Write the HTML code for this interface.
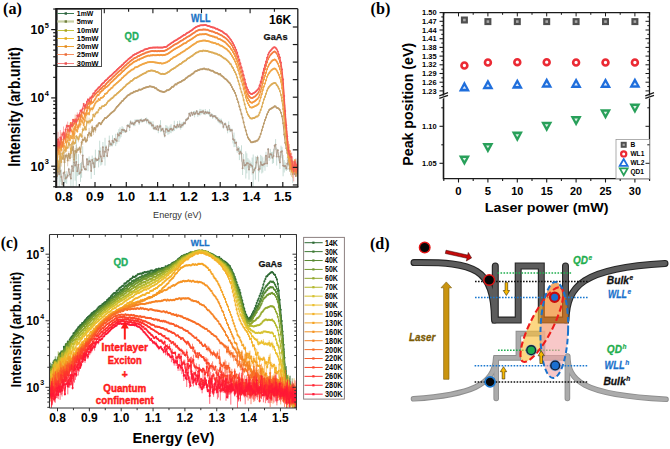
<!DOCTYPE html><html><head><meta charset="utf-8"><style>html,body{margin:0;padding:0;background:#fff;overflow:hidden}svg{display:block}</style></head><body>
<svg width="670" height="449" viewBox="0 0 670 449">
<rect width="670" height="449" fill="#fff"/>
<clipPath id="ca"><rect x="56.2" y="8.7" width="241.60000000000002" height="178.3"/></clipPath>
<g clip-path="url(#ca)">
<path d="M54.9 175.6V180.4M56.0 172.9V186.2M57.1 172.3V179.4M58.1 168.5V175.4M59.2 158.7V189.9M60.3 159.8V181.9M61.3 169.5V184.3M62.4 182.7V186.0M63.5 172.0V174.2M64.5 160.6V183.5M65.6 174.2V182.8M66.7 171.1V183.8M67.7 174.1V177.3M68.8 167.7V170.9M69.9 171.3V177.5M70.9 169.2V187.9M72.0 164.9V167.2M73.1 154.3V188.0M74.1 156.2V168.2M75.2 150.4V180.7M76.3 137.5V186.4M77.3 166.5V176.1M78.4 154.1V175.3M79.5 172.2V174.9M80.5 163.0V181.9M81.6 162.2V177.7M82.7 146.3V164.6M83.7 164.6V168.9M84.8 167.8V170.4M85.9 168.0V170.8M86.9 157.9V160.5M88.0 158.1V171.2M89.1 156.4V165.9M90.1 158.9V163.8M91.2 163.1V178.9M92.2 155.6V164.2M93.3 157.9V168.6M94.4 159.2V175.0M95.4 149.6V167.4M96.5 158.1V161.8M97.6 159.0V161.0M98.6 150.0V167.4M99.7 140.7V162.3M100.8 147.4V165.6M101.8 157.7V164.7M102.9 142.0V152.1M104.0 153.3V159.2M105.0 137.8V165.6M106.1 145.1V149.4M107.2 154.8V157.3M108.2 148.4V151.1M109.3 135.6V146.8M110.4 142.2V146.4M111.4 142.9V146.3M112.5 135.3V146.3M113.6 140.1V144.5M114.6 137.9V139.9M115.7 133.8V146.1M116.8 138.1V143.7M117.8 132.0V136.5M118.9 129.1V142.0M120.0 127.4V138.5M121.0 129.8V137.1M122.1 126.2V133.1M123.2 127.4V132.9M124.2 128.9V131.4M125.3 130.0V133.0M126.4 129.4V132.6M127.4 124.1V127.0M128.5 124.5V126.8M129.6 123.2V131.0M130.6 120.1V124.1M131.7 122.5V124.7M132.8 121.3V125.2M133.8 122.3V126.2M134.9 119.5V126.1M136.0 119.4V122.8M137.0 119.6V121.8M138.1 119.2V122.2M139.2 120.1V125.0M140.2 119.2V121.4M141.3 118.3V122.5M142.4 119.5V122.5M143.4 119.2V121.8M144.5 119.1V121.6M145.6 118.2V120.5M146.6 117.5V123.5M147.7 118.8V121.4M148.8 120.2V124.5M149.8 120.5V125.1M150.9 121.0V125.4M152.0 123.5V127.5M153.0 121.3V129.1M154.1 126.9V130.1M155.2 125.1V129.7M156.2 127.7V130.5M157.3 125.3V127.3M158.3 126.6V133.2M159.4 124.4V128.6M160.5 120.2V132.1M161.5 128.4V131.7M162.6 127.5V130.5M163.7 127.7V135.0M164.7 133.9V137.5M165.8 125.0V133.2M166.9 125.6V133.0M167.9 126.6V134.8M169.0 127.7V134.1M170.1 125.6V132.7M171.1 124.2V133.2M172.2 128.3V131.5M173.3 126.9V131.3M174.3 120.7V131.0M175.4 125.7V128.5M176.5 124.7V129.1M177.5 121.1V128.4M178.6 125.5V127.6M179.7 120.6V128.2M180.7 124.2V129.7M181.8 122.6V128.0M182.9 122.2V127.2M183.9 121.3V125.0M185.0 121.7V124.6M186.1 118.6V121.2M187.1 117.9V120.4M188.2 117.0V119.7M189.3 112.4V115.1M190.3 114.7V116.8M191.4 111.5V114.0M192.5 113.7V115.9M193.5 111.2V114.4M194.6 110.9V117.4M195.7 111.5V114.9M196.7 110.2V112.3M197.8 110.8V116.9M198.9 112.4V115.3M199.9 108.9V115.6M201.0 109.3V114.7M202.1 110.0V114.1M203.1 109.4V113.1M204.2 112.3V114.6M205.3 109.0V115.1M206.3 111.3V114.2M207.4 110.6V114.2M208.5 111.2V114.7M209.5 109.1V116.5M210.6 114.6V117.1M211.7 113.0V116.9M212.7 114.2V119.0M213.8 115.2V117.3M214.9 115.0V117.4M215.9 115.0V119.8M217.0 117.1V119.4M218.1 117.5V122.3M219.1 118.2V123.1M220.2 119.2V124.3M221.2 118.6V124.0M222.3 120.9V124.5M223.4 125.0V128.8M224.4 122.8V125.3M225.5 122.3V125.8M226.6 125.3V128.6M227.6 126.0V133.3M228.7 121.4V129.8M229.8 126.5V132.3M230.8 129.0V132.0M231.9 128.5V131.7M233.0 134.9V143.4M234.0 132.6V147.1M235.1 138.8V147.0M236.2 140.9V144.4M237.2 147.1V152.7M238.3 146.2V151.9M239.4 147.2V160.1M240.4 149.7V154.1M241.5 145.3V161.7M242.6 161.5V175.0M243.6 154.0V166.2M244.7 161.6V169.6M245.8 151.3V178.5M246.8 153.3V173.4M247.9 158.1V168.2M249.0 159.5V179.6M250.0 160.7V167.9M251.1 162.2V168.1M252.2 157.6V174.7M253.2 154.5V190.6M254.3 167.6V172.0M255.4 156.4V179.7M256.4 157.2V167.8M257.5 155.4V159.6M258.6 157.7V181.6M259.6 165.4V172.4M260.7 154.9V169.3M261.8 155.9V173.5M262.8 157.4V172.5M263.9 161.2V167.3M265.0 156.5V170.8M266.0 151.8V159.5M267.1 159.8V167.0M268.2 148.0V150.5M269.2 153.3V160.9M270.3 148.9V159.3M271.4 152.0V157.0M272.4 151.8V163.8M273.5 148.8V163.1M274.6 144.6V147.1M275.6 139.1V150.0M276.7 147.7V165.6M277.8 149.3V151.4M278.8 152.0V161.3M279.9 155.7V169.0M281.0 145.7V158.0M282.0 146.9V155.4M283.1 154.9V176.3M284.2 160.0V172.5M285.2 162.3V169.7M286.3 165.8V171.0M287.3 157.4V170.0M288.4 155.2V165.5M289.5 166.7V170.9M290.5 159.1V169.8M291.6 159.5V162.2M292.7 165.3V182.9M293.7 169.3V172.7M294.8 172.7V175.4M295.9 158.0V173.8M296.9 160.5V175.5M298.0 164.7V167.3M299.1 153.3V180.1" stroke="#b9d3cc" stroke-width="0.8" fill="none"/>
<marker id="ma1" markerUnits="userSpaceOnUse" markerWidth="3" markerHeight="3" refX="1.5" refY="1.5" overflow="visible"><circle cx="1.5" cy="1.5" r="0.95" fill="#ad9786"/></marker>
<path d="M54.9 178.0L56.0 179.6L57.1 175.9L58.1 171.9L59.2 174.3L60.3 170.9L61.3 176.9L62.4 184.4L63.5 173.1L64.5 172.1L65.6 178.5L66.7 177.5L67.7 175.7L68.8 169.3L69.9 174.4L70.9 178.5L72.0 166.1L73.1 171.1L74.1 162.2L75.2 165.6L76.3 162.0L77.3 171.3L78.4 164.7L79.5 173.6L80.5 172.5L81.6 169.9L82.7 155.5L83.7 166.8L84.8 169.1L85.9 169.4L86.9 159.2L88.0 164.6L89.1 161.1L90.1 161.4L91.2 171.0L92.2 159.9L93.3 163.2L94.4 167.1L95.4 158.5L96.5 159.9L97.6 160.0L98.6 158.7L99.7 151.5L100.8 156.5L101.8 161.2L102.9 147.1L104.0 156.2L105.0 151.7L106.1 147.3L107.2 156.0L108.2 149.7L109.3 141.2L110.4 144.3L111.4 144.6L112.5 140.8L113.6 142.3L114.6 138.9L115.7 139.9L116.8 140.9L117.8 134.3L118.9 135.5L120.0 133.0L121.0 133.5L122.1 129.6L123.2 130.2L124.2 130.1L125.3 131.5L126.4 131.0L127.4 125.6L128.5 125.7L129.6 127.1L130.6 122.1L131.7 123.6L132.8 123.3L133.8 124.2L134.9 122.8L136.0 121.1L137.0 120.7L138.1 120.7L139.2 122.5L140.2 120.3L141.3 120.4L142.4 121.0L143.4 120.5L144.5 120.3L145.6 119.3L146.6 120.5L147.7 120.1L148.8 122.4L149.8 122.8L150.9 123.2L152.0 125.5L153.0 125.2L154.1 128.5L155.2 127.4L156.2 129.1L157.3 126.3L158.3 129.9L159.4 126.5L160.5 126.1L161.5 130.0L162.6 129.0L163.7 131.3L164.7 135.7L165.8 129.1L166.9 129.3L167.9 130.7L169.0 130.9L170.1 129.2L171.1 128.7L172.2 129.9L173.3 129.1L174.3 125.9L175.4 127.1L176.5 126.9L177.5 124.7L178.6 126.6L179.7 124.4L180.7 126.9L181.8 125.3L182.9 124.7L183.9 123.2L185.0 123.2L186.1 119.9L187.1 119.2L188.2 118.3L189.3 113.8L190.3 115.8L191.4 112.7L192.5 114.8L193.5 112.8L194.6 114.1L195.7 113.2L196.7 111.3L197.8 113.8L198.9 113.9L199.9 112.2L201.0 112.0L202.1 112.0L203.1 111.3L204.2 113.4L205.3 112.0L206.3 112.8L207.4 112.4L208.5 113.0L209.5 112.8L210.6 115.8L211.7 115.0L212.7 116.6L213.8 116.3L214.9 116.2L215.9 117.4L217.0 118.2L218.1 119.9L219.1 120.7L220.2 121.8L221.2 121.3L222.3 122.7L223.4 126.9L224.4 124.1L225.5 124.1L226.6 127.0L227.6 129.7L228.7 125.6L229.8 129.4L230.8 130.5L231.9 130.1L233.0 139.1L234.0 139.9L235.1 142.9L236.2 142.6L237.2 149.9L238.3 149.0L239.4 153.7L240.4 151.9L241.5 153.5L242.6 168.2L243.6 160.1L244.7 165.6L245.8 164.9L246.8 163.3L247.9 163.2L249.0 169.5L250.0 164.3L251.1 165.2L252.2 166.1L253.2 172.6L254.3 169.8L255.4 168.1L256.4 162.5L257.5 157.5L258.6 169.7L259.6 168.9L260.7 162.1L261.8 164.7L262.8 165.0L263.9 164.3L265.0 163.6L266.0 155.7L267.1 163.4L268.2 149.3L269.2 157.1L270.3 154.1L271.4 154.5L272.4 157.8L273.5 155.9L274.6 145.8L275.6 144.6L276.7 156.6L277.8 150.3L278.8 156.6L279.9 162.4L281.0 151.9L282.0 151.1L283.1 165.6L284.2 166.3L285.2 166.0L286.3 168.4L287.3 163.7L288.4 160.3L289.5 168.8L290.5 164.5L291.6 160.8L292.7 174.1L293.7 171.0L294.8 174.1L295.9 165.9L296.9 168.0L298.0 166.0L299.1 166.7" stroke="#ad9786" stroke-width="0.8" fill="none" stroke-linejoin="round" marker-mid="url(#ma1)"/>
<path d="M54.9 172.1V175.8M56.0 157.9V167.1M57.1 147.7V167.0M58.1 160.0V172.6M59.2 169.0V174.1M60.3 142.4V170.3M61.3 152.3V163.2M62.4 157.6V159.7M63.5 151.9V159.8M64.5 152.0V172.6M65.6 154.3V157.4M66.7 153.3V157.6M67.7 154.7V166.3M68.8 151.3V156.5M69.9 154.9V161.4M70.9 149.2V154.2M72.0 142.1V158.0M73.1 140.2V153.9M74.1 157.2V162.3M75.2 148.1V153.9M76.3 144.7V159.3M77.3 147.5V152.6M78.4 148.4V150.6M79.5 146.2V149.8M80.5 149.6V154.5M81.6 141.0V143.8M82.7 134.9V144.8M83.7 138.6V141.4M84.8 135.7V140.2M85.9 140.2V142.7M86.9 138.4V142.0M88.0 133.8V136.2M89.1 127.9V138.0M90.1 130.9V136.5M91.2 134.6V136.5M92.2 124.9V129.6M93.3 127.9V135.1M94.4 127.4V128.5M95.4 126.8V132.7M96.5 124.2V127.4M97.6 123.8V127.6M98.6 122.3V124.4M288.4 156.7V158.2M289.5 157.0V172.0M290.5 163.7V167.1M291.6 165.2V176.8M292.7 166.6V169.7M293.7 169.9V171.6M294.8 166.8V170.0M295.9 175.1V176.7M296.9 169.5V174.2M298.0 166.7V172.0M299.1 164.4V177.2" stroke="#bc9c6c" stroke-width="0.7" fill="none" opacity="0.7"/>
<marker id="ma5" markerUnits="userSpaceOnUse" markerWidth="3" markerHeight="3" refX="1.5" refY="1.5" overflow="visible"><circle cx="1.5" cy="1.5" r="1.0" fill="#bc9c6c"/></marker>
<path d="M54.9 173.9L56.0 162.5L57.1 157.4L58.1 166.3L59.2 171.5L60.3 156.3L61.3 157.7L62.4 158.6L63.5 155.9L64.5 162.3L65.6 155.8L66.7 155.5L67.7 160.5L68.8 153.9L69.9 158.1L70.9 151.7L72.0 150.1L73.1 147.1L74.1 159.7L75.2 151.0L76.3 152.0L77.3 150.0L78.4 149.5L79.5 148.0L80.5 152.0L81.6 142.4L82.7 139.8L83.7 140.0L84.8 138.0L85.9 141.5L86.9 140.2L88.0 135.0L89.1 132.9L90.1 133.7L91.2 135.6L92.2 127.2L93.3 131.5L94.4 127.9L95.4 129.7L96.5 125.8L97.6 125.7L98.6 123.4L99.7 123.0L100.8 124.2L101.8 122.6L102.9 120.7L104.0 119.5L105.0 118.0L106.1 117.9L107.2 117.1L108.2 116.1L109.3 115.1L110.4 113.8L111.4 113.0L112.5 111.9L113.6 111.2L114.6 110.2L115.7 108.4L116.8 107.1L117.8 106.1L118.9 104.8L120.0 103.5L121.0 102.5L122.1 101.1L123.2 100.4L124.2 99.0L125.3 98.1L126.4 96.9L127.4 95.8L128.5 94.9L129.6 94.4L130.6 93.6L131.7 93.3L132.8 92.7L133.8 91.8L134.9 91.8L136.0 91.1L137.0 90.9L138.1 90.6L139.2 89.6L140.2 89.8L141.3 89.4L142.4 88.9L143.4 88.3L144.5 87.9L145.6 87.4L146.6 87.2L147.7 86.9L148.8 86.8L149.8 86.2L150.9 86.6L152.0 86.7L153.0 86.9L154.1 87.3L155.2 88.2L156.2 88.2L157.3 89.5L158.3 90.1L159.4 90.7L160.5 91.3L161.5 91.4L162.6 91.8L163.7 92.1L164.7 91.7L165.8 91.3L166.9 90.2L167.9 90.2L169.0 89.7L170.1 89.0L171.1 88.0L172.2 86.7L173.3 86.7L174.3 85.6L175.4 84.3L176.5 84.5L177.5 83.3L178.6 82.7L179.7 82.2L180.7 82.1L181.8 80.9L182.9 80.4L183.9 80.1L185.0 79.3L186.1 78.1L187.1 77.4L188.2 76.4L189.3 75.8L190.3 75.4L191.4 74.6L192.5 73.7L193.5 73.2L194.6 71.8L195.7 71.3L196.7 70.9L197.8 70.3L198.9 70.0L199.9 69.5L201.0 69.2L202.1 69.2L203.1 68.7L204.2 68.5L205.3 69.2L206.3 69.2L207.4 69.6L208.5 69.3L209.5 70.1L210.6 70.4L211.7 70.7L212.7 70.7L213.8 71.7L214.9 72.5L215.9 72.8L217.0 73.0L218.1 73.7L219.1 74.4L220.2 74.0L221.2 75.4L222.3 76.3L223.4 77.1L224.4 78.2L225.5 79.0L226.6 79.8L227.6 80.9L228.7 82.3L229.8 83.2L230.8 84.9L231.9 87.0L233.0 89.3L234.0 90.8L235.1 93.1L236.2 95.8L237.2 99.2L238.3 102.3L239.4 106.6L240.4 109.8L241.5 114.0L242.6 117.8L243.6 122.3L244.7 126.9L245.8 130.5L246.8 134.4L247.9 137.4L249.0 139.2L250.0 140.6L251.1 142.2L252.2 142.2L253.2 142.0L254.3 141.5L255.4 141.6L256.4 140.7L257.5 140.6L258.6 139.0L259.6 136.9L260.7 134.1L261.8 130.3L262.8 127.0L263.9 123.4L265.0 120.1L266.0 117.4L267.1 114.2L268.2 112.1L269.2 110.0L270.3 109.0L271.4 108.4L272.4 107.8L273.5 107.2L274.6 106.3L275.6 106.6L276.7 107.7L277.8 108.1L278.8 108.7L279.9 110.1L281.0 112.7L282.0 116.3L283.1 123.2L284.2 134.6L285.2 142.8L286.3 148.3L287.3 152.9L288.4 157.4L289.5 164.5L290.5 165.4L291.6 171.0L292.7 168.1L293.7 170.7L294.8 168.4L295.9 175.9L296.9 171.8L298.0 169.4L299.1 170.8" stroke="#bc9c6c" stroke-width="1.1" fill="none" stroke-linejoin="round" marker-mid="url(#ma5)"/>
<path d="M54.9 160.0V167.7M56.0 166.2V178.0M57.1 165.7V176.4M58.1 164.4V167.7M59.2 156.7V166.3M60.3 151.3V155.8M61.3 157.3V166.6M62.4 149.2V158.3M63.5 145.2V159.7M64.5 149.7V150.9M65.6 148.2V153.2M66.7 142.9V152.0M67.7 146.8V148.8M68.8 138.6V147.4M69.9 144.1V145.2M70.9 152.1V153.8M72.0 141.2V146.1M73.1 138.1V146.0M74.1 141.9V145.0M75.2 141.5V144.0M76.3 135.2V137.1M77.3 136.9V138.4M78.4 136.4V142.3M79.5 133.0V139.4M80.5 132.9V135.9M81.6 134.7V138.0M82.7 127.2V132.0M83.7 128.5V131.1M84.8 125.7V128.3M85.9 128.2V130.9M86.9 117.0V125.7M88.0 121.2V123.5M89.1 117.7V124.7M90.1 119.7V123.8M91.2 118.8V121.8M92.2 119.0V121.1M93.3 113.6V115.8M94.4 115.9V117.0M95.4 113.4V114.5M96.5 111.6V113.2M288.4 140.7V154.4M289.5 155.6V158.2M290.5 158.7V175.2M291.6 168.3V171.9M292.7 168.8V174.9M293.7 166.8V172.8M294.8 170.3V172.9M295.9 170.8V173.7M296.9 164.2V175.2M298.0 166.9V180.2M299.1 157.9V166.3" stroke="#dcac58" stroke-width="0.7" fill="none" opacity="0.7"/>
<marker id="ma10" markerUnits="userSpaceOnUse" markerWidth="3" markerHeight="3" refX="1.5" refY="1.5" overflow="visible"><circle cx="1.5" cy="1.5" r="1.0" fill="#dcac58"/></marker>
<path d="M54.9 163.8L56.0 172.1L57.1 171.0L58.1 166.1L59.2 161.5L60.3 153.5L61.3 161.9L62.4 153.8L63.5 152.4L64.5 150.3L65.6 150.7L66.7 147.5L67.7 147.8L68.8 143.0L69.9 144.7L70.9 153.0L72.0 143.7L73.1 142.1L74.1 143.4L75.2 142.8L76.3 136.2L77.3 137.6L78.4 139.4L79.5 136.2L80.5 134.4L81.6 136.4L82.7 129.6L83.7 129.8L84.8 127.0L85.9 129.5L86.9 121.4L88.0 122.4L89.1 121.2L90.1 121.8L91.2 120.3L92.2 120.0L93.3 114.7L94.4 116.5L95.4 114.0L96.5 112.4L97.6 112.5L98.6 110.0L99.7 108.0L100.8 108.4L101.8 106.6L102.9 106.3L104.0 105.9L105.0 104.9L106.1 104.4L107.2 102.7L108.2 101.3L109.3 100.6L110.4 99.6L111.4 98.5L112.5 97.9L113.6 96.7L114.6 95.4L115.7 95.0L116.8 93.8L117.8 93.0L118.9 92.0L120.0 91.1L121.0 90.0L122.1 89.3L123.2 88.1L124.2 87.1L125.3 86.2L126.4 84.8L127.4 84.1L128.5 83.2L129.6 82.4L130.6 81.2L131.7 81.0L132.8 80.0L133.8 79.0L134.9 78.3L136.0 78.0L137.0 77.5L138.1 76.7L139.2 76.3L140.2 75.5L141.3 75.1L142.4 74.2L143.4 73.7L144.5 73.3L145.6 73.0L146.6 71.8L147.7 71.4L148.8 71.0L149.8 71.0L150.9 70.4L152.0 70.6L153.0 70.8L154.1 70.9L155.2 71.3L156.2 71.9L157.3 72.0L158.3 72.6L159.4 73.2L160.5 73.7L161.5 74.0L162.6 73.8L163.7 74.1L164.7 74.1L165.8 73.6L166.9 73.0L167.9 72.2L169.0 71.8L170.1 70.8L171.1 69.9L172.2 69.2L173.3 68.8L174.3 67.9L175.4 67.4L176.5 66.4L177.5 66.0L178.6 65.0L179.7 64.3L180.7 64.1L181.8 63.1L182.9 62.1L183.9 61.4L185.0 60.8L186.1 60.2L187.1 59.1L188.2 58.2L189.3 57.8L190.3 57.1L191.4 56.3L192.5 55.7L193.5 54.7L194.6 54.0L195.7 52.9L196.7 52.6L197.8 52.3L198.9 51.6L199.9 51.2L201.0 51.0L202.1 51.2L203.1 50.6L204.2 50.7L205.3 50.8L206.3 51.0L207.4 51.0L208.5 51.4L209.5 51.7L210.6 52.1L211.7 52.4L212.7 52.5L213.8 53.0L214.9 53.6L215.9 53.6L217.0 54.1L218.1 54.7L219.1 54.8L220.2 55.6L221.2 55.9L222.3 56.9L223.4 57.8L224.4 58.4L225.5 58.8L226.6 59.9L227.6 60.8L228.7 61.9L229.8 63.4L230.8 64.3L231.9 66.4L233.0 68.0L234.0 70.3L235.1 72.2L236.2 74.4L237.2 77.6L238.3 81.0L239.4 84.5L240.4 88.4L241.5 92.0L242.6 95.3L243.6 100.0L244.7 104.3L245.8 108.4L246.8 112.0L247.9 114.6L249.0 116.2L250.0 117.7L251.1 118.5L252.2 118.6L253.2 117.9L254.3 118.0L255.4 117.2L256.4 116.6L257.5 116.5L258.6 115.3L259.6 112.8L260.7 110.0L261.8 106.7L262.8 103.1L263.9 99.4L265.0 96.7L266.0 93.8L267.1 90.6L268.2 88.3L269.2 86.7L270.3 85.6L271.4 84.6L272.4 83.8L273.5 83.3L274.6 82.9L275.6 83.3L276.7 84.9L277.8 86.4L278.8 88.6L279.9 91.1L281.0 94.9L282.0 100.8L283.1 109.0L284.2 123.0L285.2 133.2L286.3 142.5L287.3 149.4L288.4 147.5L289.5 156.9L290.5 166.9L291.6 170.1L292.7 171.9L293.7 169.8L294.8 171.6L295.9 172.2L296.9 169.7L298.0 173.6L299.1 162.1" stroke="#dcac58" stroke-width="1.1" fill="none" stroke-linejoin="round" marker-mid="url(#ma10)"/>
<path d="M54.9 142.4V154.5M56.0 149.2V154.6M57.1 156.2V167.4M58.1 139.2V157.8M59.2 151.9V156.7M60.3 138.7V149.9M61.3 148.2V151.1M62.4 143.6V147.9M63.5 142.2V148.5M64.5 142.9V149.7M65.6 147.0V151.5M66.7 138.6V146.0M67.7 139.7V141.9M68.8 133.0V139.1M69.9 137.4V142.4M70.9 134.6V137.6M72.0 137.4V139.0M73.1 125.8V143.0M74.1 135.7V140.6M75.2 122.6V131.0M76.3 129.4V130.7M77.3 130.8V132.4M78.4 125.0V129.4M79.5 122.2V127.3M80.5 121.2V127.7M81.6 119.4V121.8M82.7 120.4V123.8M83.7 123.4V126.5M84.8 119.3V122.2M85.9 113.6V116.6M86.9 111.2V116.8M88.0 112.1V114.4M89.1 111.8V115.9M90.1 107.2V112.4M91.2 107.9V109.3M92.2 106.9V111.6M93.3 106.0V109.7M94.4 103.1V107.2M288.4 151.0V163.1M289.5 157.3V164.2M290.5 158.9V168.5M291.6 166.5V171.6M292.7 165.2V178.2M293.7 166.0V174.0M294.8 159.4V161.1M295.9 165.3V167.7M296.9 166.5V168.1M298.0 164.4V166.6M299.1 167.4V172.1" stroke="#f0a646" stroke-width="0.7" fill="none" opacity="0.7"/>
<marker id="ma15" markerUnits="userSpaceOnUse" markerWidth="3" markerHeight="3" refX="1.5" refY="1.5" overflow="visible"><circle cx="1.5" cy="1.5" r="1.0" fill="#f0a646"/></marker>
<path d="M54.9 148.4L56.0 151.9L57.1 161.8L58.1 148.5L59.2 154.3L60.3 144.3L61.3 149.7L62.4 145.8L63.5 145.4L64.5 146.3L65.6 149.2L66.7 142.3L67.7 140.8L68.8 136.0L69.9 139.9L70.9 136.1L72.0 138.2L73.1 134.4L74.1 138.1L75.2 126.8L76.3 130.0L77.3 131.6L78.4 127.2L79.5 124.7L80.5 124.4L81.6 120.6L82.7 122.1L83.7 124.9L84.8 120.7L85.9 115.1L86.9 114.0L88.0 113.3L89.1 113.9L90.1 109.8L91.2 108.6L92.2 109.3L93.3 107.8L94.4 105.2L95.4 103.2L96.5 101.6L97.6 101.3L98.6 99.0L99.7 100.1L100.8 98.0L101.8 97.7L102.9 97.3L104.0 95.9L105.0 93.9L106.1 93.6L107.2 92.7L108.2 91.2L109.3 90.1L110.4 89.2L111.4 88.0L112.5 87.4L113.6 85.8L114.6 85.0L115.7 84.1L116.8 83.1L117.8 82.2L118.9 81.3L120.0 80.2L121.0 79.4L122.1 77.9L123.2 77.2L124.2 76.1L125.3 75.3L126.4 74.3L127.4 73.2L128.5 72.3L129.6 71.6L130.6 70.7L131.7 69.7L132.8 69.4L133.8 68.8L134.9 67.6L136.0 67.3L137.0 67.1L138.1 66.4L139.2 65.8L140.2 65.2L141.3 64.7L142.4 64.3L143.4 63.8L144.5 63.6L145.6 63.1L146.6 62.7L147.7 62.3L148.8 62.3L149.8 62.0L150.9 62.0L152.0 62.1L153.0 62.1L154.1 62.3L155.2 62.4L156.2 62.6L157.3 62.7L158.3 62.9L159.4 63.2L160.5 63.1L161.5 63.6L162.6 63.5L163.7 63.3L164.7 63.0L165.8 62.6L166.9 62.2L167.9 61.5L169.0 61.0L170.1 60.0L171.1 59.0L172.2 58.5L173.3 57.5L174.3 57.1L175.4 56.6L176.5 55.9L177.5 55.0L178.6 54.4L179.7 54.1L180.7 53.1L181.8 52.4L182.9 51.8L183.9 51.3L185.0 50.5L186.1 49.6L187.1 48.9L188.2 48.3L189.3 47.5L190.3 46.7L191.4 46.1L192.5 45.1L193.5 44.5L194.6 43.7L195.7 43.3L196.7 42.2L197.8 41.8L198.9 41.4L199.9 41.2L201.0 41.1L202.1 40.8L203.1 40.6L204.2 40.5L205.3 40.6L206.3 40.9L207.4 41.1L208.5 41.2L209.5 41.6L210.6 42.0L211.7 42.4L212.7 42.6L213.8 42.9L214.9 43.0L215.9 43.5L217.0 44.3L218.1 44.1L219.1 44.8L220.2 45.4L221.2 45.8L222.3 46.3L223.4 47.0L224.4 47.7L225.5 48.4L226.6 49.0L227.6 50.3L228.7 51.2L229.8 52.5L230.8 54.0L231.9 55.7L233.0 57.5L234.0 59.2L235.1 61.6L236.2 64.0L237.2 66.9L238.3 70.3L239.4 73.7L240.4 77.4L241.5 81.3L242.6 84.7L243.6 88.9L244.7 93.2L245.8 97.4L246.8 100.7L247.9 103.3L249.0 105.3L250.0 107.0L251.1 107.6L252.2 107.4L253.2 107.1L254.3 106.5L255.4 106.1L256.4 105.4L257.5 104.8L258.6 103.8L259.6 101.1L260.7 97.6L261.8 94.0L262.8 90.0L263.9 86.4L265.0 83.6L266.0 80.3L267.1 76.8L268.2 74.5L269.2 72.9L270.3 71.4L271.4 70.3L272.4 69.4L273.5 68.8L274.6 68.6L275.6 69.1L276.7 70.5L277.8 72.5L278.8 74.8L279.9 77.6L281.0 81.7L282.0 88.0L283.1 97.4L284.2 112.3L285.2 125.0L286.3 136.1L287.3 145.1L288.4 157.1L289.5 160.7L290.5 163.7L291.6 169.0L292.7 171.7L293.7 170.0L294.8 160.3L295.9 166.5L296.9 167.3L298.0 165.5L299.1 169.7" stroke="#f0a646" stroke-width="1.1" fill="none" stroke-linejoin="round" marker-mid="url(#ma15)"/>
<path d="M54.9 140.6V167.1M56.0 150.6V167.3M57.1 139.0V148.3M58.1 147.9V151.9M59.2 142.8V144.7M60.3 140.6V152.1M61.3 142.2V152.1M62.4 141.3V143.4M63.5 138.1V149.4M64.5 133.1V135.5M65.6 140.0V143.8M66.7 134.2V135.9M67.7 135.7V139.5M68.8 129.7V140.2M69.9 122.6V128.9M70.9 126.9V132.9M72.0 127.4V135.3M73.1 131.3V135.8M74.1 128.2V129.7M75.2 120.6V134.5M76.3 121.8V122.8M77.3 124.5V130.4M78.4 125.2V128.1M79.5 117.5V125.1M80.5 116.5V122.0M81.6 112.4V117.6M82.7 114.8V121.2M83.7 118.7V120.2M84.8 111.2V117.4M85.9 112.4V114.5M86.9 108.8V112.5M88.0 106.3V107.5M89.1 106.3V110.7M90.1 102.0V105.4M91.2 103.1V104.1M92.2 102.2V103.3M93.3 101.4V102.6M288.4 148.8V153.9M289.5 144.0V158.9M290.5 167.8V168.8M291.6 163.8V173.0M292.7 166.9V171.4M293.7 163.2V169.4M294.8 164.6V170.2M295.9 168.8V170.8M296.9 166.5V172.3M298.0 161.4V162.5M299.1 164.1V177.2" stroke="#f4963c" stroke-width="0.7" fill="none" opacity="0.7"/>
<marker id="ma20" markerUnits="userSpaceOnUse" markerWidth="3" markerHeight="3" refX="1.5" refY="1.5" overflow="visible"><circle cx="1.5" cy="1.5" r="1.0" fill="#f4963c"/></marker>
<path d="M54.9 153.9L56.0 159.0L57.1 143.7L58.1 149.9L59.2 143.8L60.3 146.4L61.3 147.2L62.4 142.4L63.5 143.7L64.5 134.3L65.6 141.9L66.7 135.1L67.7 137.6L68.8 135.0L69.9 125.8L70.9 129.9L72.0 131.3L73.1 133.6L74.1 129.0L75.2 127.6L76.3 122.3L77.3 127.4L78.4 126.6L79.5 121.3L80.5 119.2L81.6 115.0L82.7 118.0L83.7 119.4L84.8 114.3L85.9 113.5L86.9 110.7L88.0 106.9L89.1 108.5L90.1 103.7L91.2 103.6L92.2 102.7L93.3 102.0L94.4 100.2L95.4 98.8L96.5 96.6L97.6 95.0L98.6 94.9L99.7 93.2L100.8 91.8L101.8 90.9L102.9 90.2L104.0 88.7L105.0 88.0L106.1 87.0L107.2 86.4L108.2 85.4L109.3 84.6L110.4 83.1L111.4 82.1L112.5 81.3L113.6 80.1L114.6 79.1L115.7 78.3L116.8 77.1L117.8 76.0L118.9 75.0L120.0 74.2L121.0 73.2L122.1 72.0L123.2 71.0L124.2 70.2L125.3 69.1L126.4 68.0L127.4 67.2L128.5 66.3L129.6 65.1L130.6 64.4L131.7 63.7L132.8 62.8L133.8 61.9L134.9 61.5L136.0 61.1L137.0 60.6L138.1 59.6L139.2 59.7L140.2 58.7L141.3 58.5L142.4 58.0L143.4 57.5L144.5 57.0L145.6 56.5L146.6 56.3L147.7 55.8L148.8 55.4L149.8 55.8L150.9 55.3L152.0 55.4L153.0 55.0L154.1 55.3L155.2 55.3L156.2 55.3L157.3 55.1L158.3 55.0L159.4 55.2L160.5 54.9L161.5 55.0L162.6 55.3L163.7 55.1L164.7 54.9L165.8 54.6L166.9 54.3L167.9 53.7L169.0 52.9L170.1 52.3L171.1 51.4L172.2 50.7L173.3 50.1L174.3 49.2L175.4 48.7L176.5 48.0L177.5 47.6L178.6 47.1L179.7 46.2L180.7 45.7L181.8 44.9L182.9 44.2L183.9 43.6L185.0 43.2L186.1 42.7L187.1 41.8L188.2 41.1L189.3 40.6L190.3 39.8L191.4 39.2L192.5 38.4L193.5 37.7L194.6 37.0L195.7 36.2L196.7 35.6L197.8 34.9L198.9 34.7L199.9 34.3L201.0 34.4L202.1 34.2L203.1 34.2L204.2 34.3L205.3 34.1L206.3 34.3L207.4 34.5L208.5 35.1L209.5 35.5L210.6 35.8L211.7 36.0L212.7 36.6L213.8 36.6L214.9 37.3L215.9 37.4L217.0 37.6L218.1 38.7L219.1 39.0L220.2 39.2L221.2 39.9L222.3 40.5L223.4 41.2L224.4 41.7L225.5 42.6L226.6 43.7L227.6 44.7L228.7 45.9L229.8 47.0L230.8 48.7L231.9 50.0L233.0 51.9L234.0 53.7L235.1 56.0L236.2 58.7L237.2 61.4L238.3 64.9L239.4 68.5L240.4 72.1L241.5 76.0L242.6 79.7L243.6 83.8L244.7 88.3L245.8 92.5L246.8 95.9L247.9 98.3L249.0 100.3L250.0 101.8L251.1 102.6L252.2 102.7L253.2 102.1L254.3 101.5L255.4 100.8L256.4 99.8L257.5 98.9L258.6 97.5L259.6 94.9L260.7 91.4L261.8 87.5L262.8 83.2L263.9 79.3L265.0 75.8L266.0 72.7L267.1 69.1L268.2 66.4L269.2 64.4L270.3 63.1L271.4 61.6L272.4 60.6L273.5 60.1L274.6 59.4L275.6 60.1L276.7 61.6L277.8 63.5L278.8 66.0L279.9 69.1L281.0 73.4L282.0 79.9L283.1 89.4L284.2 105.2L285.2 118.9L286.3 131.6L287.3 142.0L288.4 151.3L289.5 151.4L290.5 168.3L291.6 168.4L292.7 169.2L293.7 166.3L294.8 167.4L295.9 169.8L296.9 169.4L298.0 161.9L299.1 170.7" stroke="#f4963c" stroke-width="1.1" fill="none" stroke-linejoin="round" marker-mid="url(#ma20)"/>
<path d="M54.9 140.0V149.7M56.0 148.0V154.8M57.1 143.0V146.6M58.1 139.0V153.6M59.2 146.1V149.3M60.3 143.1V144.9M61.3 132.3V148.2M62.4 144.0V147.4M63.5 136.3V142.4M64.5 131.9V137.4M65.6 132.6V140.6M66.7 130.6V138.1M67.7 125.5V133.3M68.8 128.8V132.9M69.9 126.8V131.1M70.9 122.1V124.0M72.0 126.0V127.1M73.1 122.2V127.9M74.1 121.7V125.3M75.2 114.5V124.5M76.3 119.7V122.5M77.3 119.1V121.7M78.4 118.2V120.3M79.5 114.2V116.4M80.5 114.4V119.9M81.6 110.7V113.7M82.7 111.6V113.2M83.7 111.7V114.7M84.8 105.8V110.9M85.9 104.9V109.3M86.9 106.7V108.7M88.0 102.4V105.9M89.1 102.1V103.3M90.1 100.2V103.6M91.2 99.7V103.0M92.2 94.5V98.6M288.4 148.4V151.4M289.5 150.0V158.6M290.5 150.0V158.2M291.6 167.6V170.7M292.7 157.7V166.6M293.7 166.6V167.7M294.8 162.6V171.9M295.9 168.2V175.1M296.9 162.3V168.3M298.0 168.2V172.8M299.1 162.5V166.3" stroke="#f47c40" stroke-width="0.7" fill="none" opacity="0.7"/>
<marker id="ma25" markerUnits="userSpaceOnUse" markerWidth="3" markerHeight="3" refX="1.5" refY="1.5" overflow="visible"><circle cx="1.5" cy="1.5" r="1.0" fill="#f47c40"/></marker>
<path d="M54.9 144.8L56.0 151.4L57.1 144.8L58.1 146.3L59.2 147.7L60.3 144.0L61.3 140.2L62.4 145.7L63.5 139.3L64.5 134.7L65.6 136.6L66.7 134.3L67.7 129.4L68.8 130.8L69.9 128.9L70.9 123.1L72.0 126.5L73.1 125.0L74.1 123.5L75.2 119.5L76.3 121.1L77.3 120.4L78.4 119.2L79.5 115.3L80.5 117.1L81.6 112.2L82.7 112.4L83.7 113.2L84.8 108.4L85.9 107.1L86.9 107.7L88.0 104.1L89.1 102.7L90.1 101.9L91.2 101.3L92.2 96.5L93.3 96.7L94.4 95.3L95.4 94.0L96.5 93.0L97.6 91.8L98.6 91.4L99.7 89.6L100.8 89.0L101.8 88.1L102.9 86.6L104.0 85.9L105.0 85.4L106.1 83.9L107.2 82.7L108.2 81.8L109.3 80.6L110.4 79.7L111.4 78.8L112.5 77.5L113.6 76.6L114.6 75.7L115.7 74.5L116.8 73.6L117.8 72.5L118.9 71.5L120.0 70.6L121.0 69.9L122.1 68.6L123.2 67.5L124.2 66.5L125.3 65.6L126.4 64.7L127.4 63.6L128.5 62.9L129.6 61.8L130.6 61.1L131.7 60.1L132.8 59.4L133.8 58.5L134.9 58.0L136.0 57.5L137.0 56.9L138.1 56.1L139.2 55.9L140.2 55.3L141.3 54.7L142.4 54.2L143.4 53.8L144.5 53.4L145.6 52.7L146.6 52.4L147.7 52.2L148.8 51.8L149.8 51.5L150.9 51.3L152.0 51.1L153.0 51.1L154.1 51.2L155.2 50.9L156.2 51.3L157.3 51.2L158.3 51.0L159.4 51.2L160.5 50.9L161.5 50.9L162.6 50.9L163.7 50.9L164.7 50.7L165.8 50.3L166.9 49.8L167.9 49.0L169.0 48.6L170.1 47.7L171.1 47.0L172.2 46.3L173.3 45.5L174.3 44.8L175.4 44.2L176.5 43.7L177.5 43.2L178.6 42.5L179.7 41.7L180.7 41.0L181.8 40.4L182.9 39.9L183.9 38.9L185.0 38.6L186.1 37.8L187.1 37.1L188.2 36.6L189.3 36.0L190.3 35.3L191.4 34.6L192.5 33.7L193.5 33.1L194.6 32.4L195.7 31.5L196.7 31.1L197.8 30.4L198.9 30.1L199.9 29.7L201.0 29.7L202.1 29.7L203.1 29.4L204.2 29.6L205.3 29.6L206.3 29.7L207.4 29.7L208.5 30.3L209.5 30.7L210.6 30.9L211.7 31.4L212.7 31.4L213.8 32.1L214.9 32.4L215.9 32.9L217.0 33.0L218.1 33.8L219.1 34.2L220.2 34.8L221.2 35.2L222.3 35.8L223.4 36.8L224.4 37.2L225.5 38.0L226.6 39.0L227.6 39.9L228.7 41.3L229.8 42.6L230.8 43.8L231.9 45.3L233.0 47.5L234.0 49.5L235.1 51.6L236.2 54.1L237.2 56.8L238.3 60.3L239.4 63.8L240.4 67.6L241.5 71.7L242.6 75.2L243.6 79.6L244.7 83.7L245.8 87.8L246.8 91.5L247.9 94.1L249.0 95.9L250.0 97.2L251.1 98.0L252.2 98.0L253.2 97.4L254.3 96.8L255.4 96.2L256.4 95.1L257.5 93.8L258.6 92.3L259.6 89.5L260.7 85.9L261.8 81.6L262.8 77.3L263.9 73.1L265.0 69.2L266.0 65.8L267.1 62.2L268.2 59.1L269.2 57.1L270.3 55.3L271.4 53.9L272.4 52.9L273.5 51.9L274.6 51.4L275.6 52.3L276.7 53.6L277.8 56.0L278.8 58.5L279.9 61.8L281.0 66.8L282.0 73.5L283.1 83.6L284.2 99.7L285.2 114.6L286.3 127.9L287.3 139.1L288.4 149.9L289.5 154.3L290.5 154.1L291.6 169.2L292.7 162.1L293.7 167.2L294.8 167.2L295.9 171.7L296.9 165.3L298.0 170.5L299.1 164.4" stroke="#f47c40" stroke-width="1.1" fill="none" stroke-linejoin="round" marker-mid="url(#ma25)"/>
<path d="M54.9 144.3V149.4M56.0 142.7V147.5M57.1 141.2V150.8M58.1 131.8V146.7M59.2 142.1V147.8M60.3 130.0V144.9M61.3 138.4V140.2M62.4 133.6V135.4M63.5 126.5V138.7M64.5 136.2V139.1M65.6 129.2V130.3M66.7 123.8V128.0M67.7 121.6V130.8M68.8 125.4V126.7M69.9 127.8V133.8M70.9 123.2V126.6M72.0 124.1V126.5M73.1 119.1V120.5M74.1 120.9V122.1M75.2 118.5V123.2M76.3 118.8V124.6M77.3 112.4V118.6M78.4 113.8V119.1M79.5 112.2V116.5M80.5 109.9V111.2M81.6 109.0V112.4M82.7 107.8V109.5M83.7 102.9V105.3M84.8 105.1V108.2M85.9 104.0V105.8M86.9 100.3V103.8M88.0 98.3V100.6M89.1 100.4V101.9M90.1 96.1V100.4M288.4 147.7V154.0M289.5 153.7V155.8M290.5 154.5V158.4M291.6 152.5V161.6M292.7 164.4V170.3M293.7 160.7V181.4M294.8 161.4V162.7M295.9 159.0V170.2M296.9 165.3V173.8M298.0 157.9V176.3M299.1 170.7V175.3" stroke="#f65858" stroke-width="0.7" fill="none" opacity="0.7"/>
<marker id="ma30" markerUnits="userSpaceOnUse" markerWidth="3" markerHeight="3" refX="1.5" refY="1.5" overflow="visible"><circle cx="1.5" cy="1.5" r="1.0" fill="#f65858"/></marker>
<path d="M54.9 146.8L56.0 145.1L57.1 146.0L58.1 139.3L59.2 145.0L60.3 137.5L61.3 139.3L62.4 134.5L63.5 132.6L64.5 137.6L65.6 129.7L66.7 125.9L67.7 126.2L68.8 126.0L69.9 130.8L70.9 124.9L72.0 125.3L73.1 119.8L74.1 121.5L75.2 120.8L76.3 121.7L77.3 115.5L78.4 116.4L79.5 114.4L80.5 110.6L81.6 110.7L82.7 108.7L83.7 104.1L84.8 106.7L85.9 104.9L86.9 102.0L88.0 99.4L89.1 101.1L90.1 98.3L91.2 97.6L92.2 96.5L93.3 93.4L94.4 93.2L95.4 91.1L96.5 90.0L97.6 88.8L98.6 87.6L99.7 87.1L100.8 85.4L101.8 84.2L102.9 83.2L104.0 82.4L105.0 81.0L106.1 80.1L107.2 79.2L108.2 78.1L109.3 77.1L110.4 76.0L111.4 75.3L112.5 74.2L113.6 73.1L114.6 72.0L115.7 71.2L116.8 70.0L117.8 69.0L118.9 68.1L120.0 67.1L121.0 66.2L122.1 65.0L123.2 64.2L124.2 62.9L125.3 62.1L126.4 60.9L127.4 60.2L128.5 59.0L129.6 58.2L130.6 57.4L131.7 56.7L132.8 55.6L133.8 55.0L134.9 54.3L136.0 53.9L137.0 53.3L138.1 52.7L139.2 52.2L140.2 51.7L141.3 51.1L142.4 50.8L143.4 50.4L144.5 49.5L145.6 49.3L146.6 48.9L147.7 48.7L148.8 48.2L149.8 48.0L150.9 47.7L152.0 47.8L153.0 47.6L154.1 47.6L155.2 47.6L156.2 47.5L157.3 47.4L158.3 47.6L159.4 47.6L160.5 47.5L161.5 47.6L162.6 47.6L163.7 47.3L164.7 47.0L165.8 46.9L166.9 46.4L167.9 45.5L169.0 44.7L170.1 44.1L171.1 43.3L172.2 42.4L173.3 41.9L174.3 41.0L175.4 40.4L176.5 40.0L177.5 39.2L178.6 38.6L179.7 38.0L180.7 37.3L181.8 36.5L182.9 35.8L183.9 35.0L185.0 34.7L186.1 33.8L187.1 33.0L188.2 32.4L189.3 31.9L190.3 31.1L191.4 30.5L192.5 29.7L193.5 28.7L194.6 28.0L195.7 27.2L196.7 26.7L197.8 26.2L198.9 26.1L199.9 25.5L201.0 25.2L202.1 25.2L203.1 25.3L204.2 25.1L205.3 25.1L206.3 25.3L207.4 25.7L208.5 26.0L209.5 26.2L210.6 26.8L211.7 27.0L212.7 27.4L213.8 27.6L214.9 28.1L215.9 28.7L217.0 28.8L218.1 29.5L219.1 30.1L220.2 30.4L221.2 31.1L222.3 31.5L223.4 32.5L224.4 33.2L225.5 33.9L226.6 34.6L227.6 35.8L228.7 37.1L229.8 38.5L230.8 39.8L231.9 41.5L233.0 43.2L234.0 45.2L235.1 47.5L236.2 50.0L237.2 52.7L238.3 56.4L239.4 60.1L240.4 63.6L241.5 67.4L242.6 71.3L243.6 75.2L244.7 79.4L245.8 84.0L246.8 87.5L247.9 89.8L249.0 92.1L250.0 93.3L251.1 93.9L252.2 93.9L253.2 93.3L254.3 92.7L255.4 92.0L256.4 90.9L257.5 89.8L258.6 88.5L259.6 85.5L260.7 81.8L261.8 77.5L262.8 73.0L263.9 69.0L265.0 65.2L266.0 61.7L267.1 57.7L268.2 54.6L269.2 52.4L270.3 51.0L271.4 49.7L272.4 48.6L273.5 47.6L274.6 47.3L275.6 47.8L276.7 49.3L277.8 51.5L278.8 54.4L279.9 57.6L281.0 62.8L282.0 69.5L283.1 79.5L284.2 96.1L285.2 111.0L286.3 125.3L287.3 136.6L288.4 150.8L289.5 154.7L290.5 156.5L291.6 157.1L292.7 167.4L293.7 171.1L294.8 162.1L295.9 164.6L296.9 169.5L298.0 167.1L299.1 173.0" stroke="#f65858" stroke-width="1.1" fill="none" stroke-linejoin="round" marker-mid="url(#ma30)"/>
</g>
<line x1="56.20" y1="8.70" x2="297.80" y2="8.70" stroke="#1a1a1a" stroke-width="1.3"/>
<line x1="297.80" y1="8.70" x2="297.80" y2="187.00" stroke="#1a1a1a" stroke-width="1.3"/>
<line x1="55.20" y1="187.00" x2="298.40" y2="187.00" stroke="#1a1a1a" stroke-width="1.5"/>
<line x1="56.20" y1="8.10" x2="56.20" y2="187.70" stroke="#1a1a1a" stroke-width="2.1"/>
<line x1="63.70" y1="187.00" x2="63.70" y2="182.00" stroke="#1a1a1a" stroke-width="1.2"/>
<line x1="79.35" y1="187.00" x2="79.35" y2="184.00" stroke="#1a1a1a" stroke-width="1.2"/>
<line x1="95.00" y1="187.00" x2="95.00" y2="182.00" stroke="#1a1a1a" stroke-width="1.2"/>
<line x1="110.65" y1="187.00" x2="110.65" y2="184.00" stroke="#1a1a1a" stroke-width="1.2"/>
<line x1="126.30" y1="187.00" x2="126.30" y2="182.00" stroke="#1a1a1a" stroke-width="1.2"/>
<line x1="141.95" y1="187.00" x2="141.95" y2="184.00" stroke="#1a1a1a" stroke-width="1.2"/>
<line x1="157.60" y1="187.00" x2="157.60" y2="182.00" stroke="#1a1a1a" stroke-width="1.2"/>
<line x1="173.25" y1="187.00" x2="173.25" y2="184.00" stroke="#1a1a1a" stroke-width="1.2"/>
<line x1="188.90" y1="187.00" x2="188.90" y2="182.00" stroke="#1a1a1a" stroke-width="1.2"/>
<line x1="204.55" y1="187.00" x2="204.55" y2="184.00" stroke="#1a1a1a" stroke-width="1.2"/>
<line x1="220.20" y1="187.00" x2="220.20" y2="182.00" stroke="#1a1a1a" stroke-width="1.2"/>
<line x1="235.85" y1="187.00" x2="235.85" y2="184.00" stroke="#1a1a1a" stroke-width="1.2"/>
<line x1="251.50" y1="187.00" x2="251.50" y2="182.00" stroke="#1a1a1a" stroke-width="1.2"/>
<line x1="267.15" y1="187.00" x2="267.15" y2="184.00" stroke="#1a1a1a" stroke-width="1.2"/>
<line x1="282.80" y1="187.00" x2="282.80" y2="182.00" stroke="#1a1a1a" stroke-width="1.2"/>
<line x1="104.30" y1="8.70" x2="104.30" y2="13.20" stroke="#1a1a1a" stroke-width="1.1"/>
<line x1="128.60" y1="8.70" x2="128.60" y2="11.70" stroke="#1a1a1a" stroke-width="1.1"/>
<line x1="152.90" y1="8.70" x2="152.90" y2="13.20" stroke="#1a1a1a" stroke-width="1.1"/>
<line x1="177.20" y1="8.70" x2="177.20" y2="11.70" stroke="#1a1a1a" stroke-width="1.1"/>
<line x1="201.50" y1="8.70" x2="201.50" y2="13.20" stroke="#1a1a1a" stroke-width="1.1"/>
<line x1="225.80" y1="8.70" x2="225.80" y2="11.70" stroke="#1a1a1a" stroke-width="1.1"/>
<line x1="250.10" y1="8.70" x2="250.10" y2="13.20" stroke="#1a1a1a" stroke-width="1.1"/>
<line x1="274.40" y1="8.70" x2="274.40" y2="11.70" stroke="#1a1a1a" stroke-width="1.1"/>
<text x="63.7" y="200.5" font-family='"Liberation Sans", sans-serif' font-size="12" font-weight="bold" fill="#000" text-anchor="middle" textLength="17.8" lengthAdjust="spacingAndGlyphs">0.8</text>
<text x="95.0" y="200.5" font-family='"Liberation Sans", sans-serif' font-size="12" font-weight="bold" fill="#000" text-anchor="middle" textLength="17.8" lengthAdjust="spacingAndGlyphs">0.9</text>
<text x="126.3" y="200.5" font-family='"Liberation Sans", sans-serif' font-size="12" font-weight="bold" fill="#000" text-anchor="middle" textLength="17.8" lengthAdjust="spacingAndGlyphs">1.0</text>
<text x="157.6" y="200.5" font-family='"Liberation Sans", sans-serif' font-size="12" font-weight="bold" fill="#000" text-anchor="middle" textLength="17.8" lengthAdjust="spacingAndGlyphs">1.1</text>
<text x="188.9" y="200.5" font-family='"Liberation Sans", sans-serif' font-size="12" font-weight="bold" fill="#000" text-anchor="middle" textLength="17.8" lengthAdjust="spacingAndGlyphs">1.2</text>
<text x="220.2" y="200.5" font-family='"Liberation Sans", sans-serif' font-size="12" font-weight="bold" fill="#000" text-anchor="middle" textLength="17.8" lengthAdjust="spacingAndGlyphs">1.3</text>
<text x="251.5" y="200.5" font-family='"Liberation Sans", sans-serif' font-size="12" font-weight="bold" fill="#000" text-anchor="middle" textLength="17.8" lengthAdjust="spacingAndGlyphs">1.4</text>
<text x="282.8" y="200.5" font-family='"Liberation Sans", sans-serif' font-size="12" font-weight="bold" fill="#000" text-anchor="middle" textLength="17.8" lengthAdjust="spacingAndGlyphs">1.5</text>
<line x1="53.20" y1="186.76" x2="56.20" y2="186.76" stroke="#1a1a1a" stroke-width="1.2"/>
<line x1="53.20" y1="181.35" x2="56.20" y2="181.35" stroke="#1a1a1a" stroke-width="1.2"/>
<line x1="53.20" y1="176.78" x2="56.20" y2="176.78" stroke="#1a1a1a" stroke-width="1.2"/>
<line x1="53.20" y1="172.82" x2="56.20" y2="172.82" stroke="#1a1a1a" stroke-width="1.2"/>
<line x1="53.20" y1="169.33" x2="56.20" y2="169.33" stroke="#1a1a1a" stroke-width="1.2"/>
<line x1="51.20" y1="166.20" x2="56.20" y2="166.20" stroke="#1a1a1a" stroke-width="1.2"/>
<line x1="53.20" y1="145.64" x2="56.20" y2="145.64" stroke="#1a1a1a" stroke-width="1.2"/>
<line x1="53.20" y1="133.61" x2="56.20" y2="133.61" stroke="#1a1a1a" stroke-width="1.2"/>
<line x1="53.20" y1="125.08" x2="56.20" y2="125.08" stroke="#1a1a1a" stroke-width="1.2"/>
<line x1="53.20" y1="118.46" x2="56.20" y2="118.46" stroke="#1a1a1a" stroke-width="1.2"/>
<line x1="53.20" y1="113.05" x2="56.20" y2="113.05" stroke="#1a1a1a" stroke-width="1.2"/>
<line x1="53.20" y1="108.48" x2="56.20" y2="108.48" stroke="#1a1a1a" stroke-width="1.2"/>
<line x1="53.20" y1="104.52" x2="56.20" y2="104.52" stroke="#1a1a1a" stroke-width="1.2"/>
<line x1="53.20" y1="101.03" x2="56.20" y2="101.03" stroke="#1a1a1a" stroke-width="1.2"/>
<line x1="51.20" y1="97.90" x2="56.20" y2="97.90" stroke="#1a1a1a" stroke-width="1.2"/>
<line x1="53.20" y1="77.34" x2="56.20" y2="77.34" stroke="#1a1a1a" stroke-width="1.2"/>
<line x1="53.20" y1="65.31" x2="56.20" y2="65.31" stroke="#1a1a1a" stroke-width="1.2"/>
<line x1="53.20" y1="56.78" x2="56.20" y2="56.78" stroke="#1a1a1a" stroke-width="1.2"/>
<line x1="53.20" y1="50.16" x2="56.20" y2="50.16" stroke="#1a1a1a" stroke-width="1.2"/>
<line x1="53.20" y1="44.75" x2="56.20" y2="44.75" stroke="#1a1a1a" stroke-width="1.2"/>
<line x1="53.20" y1="40.18" x2="56.20" y2="40.18" stroke="#1a1a1a" stroke-width="1.2"/>
<line x1="53.20" y1="36.22" x2="56.20" y2="36.22" stroke="#1a1a1a" stroke-width="1.2"/>
<line x1="53.20" y1="32.73" x2="56.20" y2="32.73" stroke="#1a1a1a" stroke-width="1.2"/>
<line x1="51.20" y1="29.60" x2="56.20" y2="29.60" stroke="#1a1a1a" stroke-width="1.2"/>
<line x1="53.20" y1="9.04" x2="56.20" y2="9.04" stroke="#1a1a1a" stroke-width="1.2"/>
<line x1="297.80" y1="27.00" x2="292.80" y2="27.00" stroke="#1a1a1a" stroke-width="1.2"/>
<line x1="297.80" y1="44.55" x2="292.80" y2="44.55" stroke="#1a1a1a" stroke-width="1.2"/>
<line x1="297.80" y1="62.10" x2="292.80" y2="62.10" stroke="#1a1a1a" stroke-width="1.2"/>
<line x1="297.80" y1="79.65" x2="292.80" y2="79.65" stroke="#1a1a1a" stroke-width="1.2"/>
<line x1="297.80" y1="97.20" x2="292.80" y2="97.20" stroke="#1a1a1a" stroke-width="1.2"/>
<line x1="297.80" y1="114.75" x2="292.80" y2="114.75" stroke="#1a1a1a" stroke-width="1.2"/>
<line x1="297.80" y1="132.30" x2="292.80" y2="132.30" stroke="#1a1a1a" stroke-width="1.2"/>
<line x1="297.80" y1="149.85" x2="292.80" y2="149.85" stroke="#1a1a1a" stroke-width="1.2"/>
<line x1="297.80" y1="167.40" x2="292.80" y2="167.40" stroke="#1a1a1a" stroke-width="1.2"/>
<line x1="297.80" y1="184.95" x2="292.80" y2="184.95" stroke="#1a1a1a" stroke-width="1.2"/>
<text x="30.6" y="170.5" font-family='"Liberation Sans", sans-serif' font-size="12.4" font-weight="bold" fill="#000" textLength="13.6" lengthAdjust="spacingAndGlyphs">10</text>
<text x="44.7" y="164.1" font-family='"Liberation Sans", sans-serif' font-size="7.4" font-weight="bold" fill="#000">3</text>
<text x="30.6" y="102.2" font-family='"Liberation Sans", sans-serif' font-size="12.4" font-weight="bold" fill="#000" textLength="13.6" lengthAdjust="spacingAndGlyphs">10</text>
<text x="44.7" y="95.8" font-family='"Liberation Sans", sans-serif' font-size="7.4" font-weight="bold" fill="#000">4</text>
<text x="30.6" y="33.9" font-family='"Liberation Sans", sans-serif' font-size="12.4" font-weight="bold" fill="#000" textLength="13.6" lengthAdjust="spacingAndGlyphs">10</text>
<text x="44.7" y="27.5" font-family='"Liberation Sans", sans-serif' font-size="7.4" font-weight="bold" fill="#000">5</text>
<text transform="translate(19.8,166.7) rotate(-90)" font-family='"Liberation Sans", sans-serif' font-size="16" font-weight="bold" textLength="119.4" lengthAdjust="spacingAndGlyphs">Intensity (arb.unit)</text>
<text x="153.1" y="218.0" font-family='"Liberation Sans", sans-serif' font-size="9.2" font-weight="normal" fill="#333" textLength="48.5" lengthAdjust="spacingAndGlyphs">Energy (eV)</text>
<rect x="57.2" y="9.299999999999999" width="44.2" height="57.3" fill="#fff" stroke="#222" stroke-width="0.8"/>
<line x1="57.30" y1="13.50" x2="74.00" y2="13.50" stroke="#3d7b52" stroke-width="1.0"/>
<rect x="64.6" y="12.3" width="2.4" height="2.4" fill="#2e5e3e"/>
<text x="76.8" y="16.3" font-family='"Liberation Sans", sans-serif' font-size="7.8" font-weight="bold" fill="#000" textLength="16.5" lengthAdjust="spacingAndGlyphs">1mW</text>
<line x1="57.30" y1="21.50" x2="74.00" y2="21.50" stroke="#c7cfa3" stroke-width="2.2"/>
<rect x="64.6" y="20.3" width="2.4" height="2.4" fill="#6f7f3e"/>
<text x="76.8" y="24.3" font-family='"Liberation Sans", sans-serif' font-size="7.8" font-weight="bold" fill="#000" textLength="16.0" lengthAdjust="spacingAndGlyphs">5mw</text>
<line x1="57.30" y1="30.50" x2="74.00" y2="30.50" stroke="#c2c23c" stroke-width="1.0"/>
<rect x="64.6" y="29.3" width="2.4" height="2.4" fill="#a8a020"/>
<text x="76.8" y="33.3" font-family='"Liberation Sans", sans-serif' font-size="7.8" font-weight="bold" fill="#000" textLength="21.8" lengthAdjust="spacingAndGlyphs">10mW</text>
<line x1="57.30" y1="38.50" x2="74.00" y2="38.50" stroke="#f0c030" stroke-width="1.0"/>
<rect x="64.6" y="37.3" width="2.4" height="2.4" fill="#e0a820"/>
<text x="76.8" y="41.3" font-family='"Liberation Sans", sans-serif' font-size="7.8" font-weight="bold" fill="#000" textLength="21.8" lengthAdjust="spacingAndGlyphs">15mW</text>
<line x1="57.30" y1="46.50" x2="74.00" y2="46.50" stroke="#f0a030" stroke-width="1.0"/>
<rect x="64.6" y="45.3" width="2.4" height="2.4" fill="#e08820"/>
<text x="76.8" y="49.3" font-family='"Liberation Sans", sans-serif' font-size="7.8" font-weight="bold" fill="#000" textLength="21.8" lengthAdjust="spacingAndGlyphs">20mW</text>
<line x1="57.30" y1="54.50" x2="74.00" y2="54.50" stroke="#f89060" stroke-width="1.0"/>
<rect x="64.6" y="53.3" width="2.4" height="2.4" fill="#e86a3a"/>
<text x="76.8" y="57.3" font-family='"Liberation Sans", sans-serif' font-size="7.8" font-weight="bold" fill="#000" textLength="21.8" lengthAdjust="spacingAndGlyphs">25mW</text>
<line x1="57.30" y1="63.50" x2="74.00" y2="63.50" stroke="#f58080" stroke-width="1.0"/>
<rect x="64.6" y="62.3" width="2.4" height="2.4" fill="#e85050"/>
<text x="76.8" y="66.3" font-family='"Liberation Sans", sans-serif' font-size="7.8" font-weight="bold" fill="#000" textLength="21.8" lengthAdjust="spacingAndGlyphs">30mW</text>
<text x="124.5" y="39.7" font-family='"Liberation Sans", sans-serif' font-size="10.3" font-weight="bold" fill="#22ae5e" textLength="14.3" lengthAdjust="spacingAndGlyphs" stroke="#22ae5e" stroke-width="0.3">QD</text>
<text x="191.0" y="21.5" font-family='"Liberation Sans", sans-serif' font-size="10.3" font-weight="bold" fill="#1a73c6" textLength="19.4" lengthAdjust="spacingAndGlyphs" stroke="#1a73c6" stroke-width="0.3">WLL</text>
<text x="268.9" y="23.6" font-family='"Liberation Sans", sans-serif' font-size="13.2" font-weight="bold" fill="#000" textLength="22.3" lengthAdjust="spacingAndGlyphs">16K</text>
<text x="263.6" y="40.3" font-family='"Liberation Sans", sans-serif' font-size="9.0" font-weight="bold" fill="#111" textLength="23.9" lengthAdjust="spacingAndGlyphs" stroke="#111" stroke-width="0.25">GaAs</text>
<text x="3.1" y="14.4" font-family='"Liberation Serif", serif' font-size="17" font-weight="bold" fill="#000" textLength="18.8" lengthAdjust="spacingAndGlyphs">(a)</text>
<line x1="443.50" y1="12.60" x2="649.50" y2="12.60" stroke="#1a1a1a" stroke-width="1.3"/>
<line x1="443.50" y1="178.70" x2="649.50" y2="178.70" stroke="#1a1a1a" stroke-width="1.3"/>
<line x1="443.50" y1="12.00" x2="443.50" y2="179.30" stroke="#1a1a1a" stroke-width="1.6"/>
<line x1="649.50" y1="12.00" x2="649.50" y2="179.30" stroke="#1a1a1a" stroke-width="1.3"/>
<path d="M439.3 97.0L448.0 94.0L448.0 96.8L439.3 99.8Z" fill="#fff"/>
<line x1="439.30" y1="95.80" x2="448.00" y2="92.70" stroke="#1a1a1a" stroke-width="1.3"/>
<line x1="439.30" y1="98.40" x2="448.00" y2="95.30" stroke="#1a1a1a" stroke-width="1.3"/>
<path d="M645.3 97.0L654.0 94.0L654.0 96.8L645.3 99.8Z" fill="#fff"/>
<line x1="645.30" y1="95.80" x2="654.00" y2="92.70" stroke="#1a1a1a" stroke-width="1.3"/>
<line x1="645.30" y1="98.40" x2="654.00" y2="95.30" stroke="#1a1a1a" stroke-width="1.3"/>
<line x1="439.50" y1="12.60" x2="443.50" y2="12.60" stroke="#1a1a1a" stroke-width="1.1"/>
<line x1="649.50" y1="12.60" x2="645.50" y2="12.60" stroke="#1a1a1a" stroke-width="1.0"/>
<text x="436.6" y="15.2" font-family='"Liberation Sans", sans-serif' font-size="7.4" font-weight="bold" fill="#000" text-anchor="end" textLength="14.5" lengthAdjust="spacingAndGlyphs">1.50</text>
<line x1="441.30" y1="16.95" x2="443.50" y2="16.95" stroke="#1a1a1a" stroke-width="1.1"/>
<line x1="649.50" y1="16.95" x2="647.30" y2="16.95" stroke="#1a1a1a" stroke-width="1.0"/>
<line x1="439.50" y1="21.30" x2="443.50" y2="21.30" stroke="#1a1a1a" stroke-width="1.1"/>
<line x1="649.50" y1="21.30" x2="645.50" y2="21.30" stroke="#1a1a1a" stroke-width="1.0"/>
<text x="436.6" y="23.9" font-family='"Liberation Sans", sans-serif' font-size="7.4" font-weight="bold" fill="#000" text-anchor="end" textLength="14.5" lengthAdjust="spacingAndGlyphs">1.47</text>
<line x1="441.30" y1="25.65" x2="443.50" y2="25.65" stroke="#1a1a1a" stroke-width="1.1"/>
<line x1="649.50" y1="25.65" x2="647.30" y2="25.65" stroke="#1a1a1a" stroke-width="1.0"/>
<line x1="439.50" y1="30.00" x2="443.50" y2="30.00" stroke="#1a1a1a" stroke-width="1.1"/>
<line x1="649.50" y1="30.00" x2="645.50" y2="30.00" stroke="#1a1a1a" stroke-width="1.0"/>
<text x="436.6" y="32.6" font-family='"Liberation Sans", sans-serif' font-size="7.4" font-weight="bold" fill="#000" text-anchor="end" textLength="14.5" lengthAdjust="spacingAndGlyphs">1.44</text>
<line x1="441.30" y1="34.35" x2="443.50" y2="34.35" stroke="#1a1a1a" stroke-width="1.1"/>
<line x1="649.50" y1="34.35" x2="647.30" y2="34.35" stroke="#1a1a1a" stroke-width="1.0"/>
<line x1="439.50" y1="38.70" x2="443.50" y2="38.70" stroke="#1a1a1a" stroke-width="1.1"/>
<line x1="649.50" y1="38.70" x2="645.50" y2="38.70" stroke="#1a1a1a" stroke-width="1.0"/>
<text x="436.6" y="41.3" font-family='"Liberation Sans", sans-serif' font-size="7.4" font-weight="bold" fill="#000" text-anchor="end" textLength="14.5" lengthAdjust="spacingAndGlyphs">1.41</text>
<line x1="441.30" y1="43.05" x2="443.50" y2="43.05" stroke="#1a1a1a" stroke-width="1.1"/>
<line x1="649.50" y1="43.05" x2="647.30" y2="43.05" stroke="#1a1a1a" stroke-width="1.0"/>
<line x1="439.50" y1="47.40" x2="443.50" y2="47.40" stroke="#1a1a1a" stroke-width="1.1"/>
<line x1="649.50" y1="47.40" x2="645.50" y2="47.40" stroke="#1a1a1a" stroke-width="1.0"/>
<text x="436.6" y="50.0" font-family='"Liberation Sans", sans-serif' font-size="7.4" font-weight="bold" fill="#000" text-anchor="end" textLength="14.5" lengthAdjust="spacingAndGlyphs">1.38</text>
<line x1="441.30" y1="51.75" x2="443.50" y2="51.75" stroke="#1a1a1a" stroke-width="1.1"/>
<line x1="649.50" y1="51.75" x2="647.30" y2="51.75" stroke="#1a1a1a" stroke-width="1.0"/>
<line x1="439.50" y1="56.10" x2="443.50" y2="56.10" stroke="#1a1a1a" stroke-width="1.1"/>
<line x1="649.50" y1="56.10" x2="645.50" y2="56.10" stroke="#1a1a1a" stroke-width="1.0"/>
<text x="436.6" y="58.7" font-family='"Liberation Sans", sans-serif' font-size="7.4" font-weight="bold" fill="#000" text-anchor="end" textLength="14.5" lengthAdjust="spacingAndGlyphs">1.35</text>
<line x1="441.30" y1="60.45" x2="443.50" y2="60.45" stroke="#1a1a1a" stroke-width="1.1"/>
<line x1="649.50" y1="60.45" x2="647.30" y2="60.45" stroke="#1a1a1a" stroke-width="1.0"/>
<line x1="439.50" y1="64.80" x2="443.50" y2="64.80" stroke="#1a1a1a" stroke-width="1.1"/>
<line x1="649.50" y1="64.80" x2="645.50" y2="64.80" stroke="#1a1a1a" stroke-width="1.0"/>
<text x="436.6" y="67.4" font-family='"Liberation Sans", sans-serif' font-size="7.4" font-weight="bold" fill="#000" text-anchor="end" textLength="14.5" lengthAdjust="spacingAndGlyphs">1.32</text>
<line x1="441.30" y1="69.15" x2="443.50" y2="69.15" stroke="#1a1a1a" stroke-width="1.1"/>
<line x1="649.50" y1="69.15" x2="647.30" y2="69.15" stroke="#1a1a1a" stroke-width="1.0"/>
<line x1="439.50" y1="73.50" x2="443.50" y2="73.50" stroke="#1a1a1a" stroke-width="1.1"/>
<line x1="649.50" y1="73.50" x2="645.50" y2="73.50" stroke="#1a1a1a" stroke-width="1.0"/>
<text x="436.6" y="76.1" font-family='"Liberation Sans", sans-serif' font-size="7.4" font-weight="bold" fill="#000" text-anchor="end" textLength="14.5" lengthAdjust="spacingAndGlyphs">1.29</text>
<line x1="441.30" y1="77.85" x2="443.50" y2="77.85" stroke="#1a1a1a" stroke-width="1.1"/>
<line x1="649.50" y1="77.85" x2="647.30" y2="77.85" stroke="#1a1a1a" stroke-width="1.0"/>
<line x1="439.50" y1="82.20" x2="443.50" y2="82.20" stroke="#1a1a1a" stroke-width="1.1"/>
<line x1="649.50" y1="82.20" x2="645.50" y2="82.20" stroke="#1a1a1a" stroke-width="1.0"/>
<text x="436.6" y="84.8" font-family='"Liberation Sans", sans-serif' font-size="7.4" font-weight="bold" fill="#000" text-anchor="end" textLength="14.5" lengthAdjust="spacingAndGlyphs">1.26</text>
<line x1="441.30" y1="86.55" x2="443.50" y2="86.55" stroke="#1a1a1a" stroke-width="1.1"/>
<line x1="649.50" y1="86.55" x2="647.30" y2="86.55" stroke="#1a1a1a" stroke-width="1.0"/>
<line x1="439.50" y1="90.90" x2="443.50" y2="90.90" stroke="#1a1a1a" stroke-width="1.1"/>
<line x1="649.50" y1="90.90" x2="645.50" y2="90.90" stroke="#1a1a1a" stroke-width="1.0"/>
<text x="436.6" y="93.5" font-family='"Liberation Sans", sans-serif' font-size="7.4" font-weight="bold" fill="#000" text-anchor="end" textLength="14.5" lengthAdjust="spacingAndGlyphs">1.23</text>
<line x1="441.30" y1="107.80" x2="443.50" y2="107.80" stroke="#1a1a1a" stroke-width="1.1"/>
<line x1="649.50" y1="107.80" x2="647.30" y2="107.80" stroke="#1a1a1a" stroke-width="1.0"/>
<line x1="439.50" y1="126.30" x2="443.50" y2="126.30" stroke="#1a1a1a" stroke-width="1.1"/>
<line x1="649.50" y1="126.30" x2="645.50" y2="126.30" stroke="#1a1a1a" stroke-width="1.0"/>
<text x="436.6" y="128.9" font-family='"Liberation Sans", sans-serif' font-size="7.4" font-weight="bold" fill="#000" text-anchor="end" textLength="14.5" lengthAdjust="spacingAndGlyphs">1.10</text>
<line x1="441.30" y1="144.80" x2="443.50" y2="144.80" stroke="#1a1a1a" stroke-width="1.1"/>
<line x1="649.50" y1="144.80" x2="647.30" y2="144.80" stroke="#1a1a1a" stroke-width="1.0"/>
<line x1="439.50" y1="163.30" x2="443.50" y2="163.30" stroke="#1a1a1a" stroke-width="1.1"/>
<line x1="649.50" y1="163.30" x2="645.50" y2="163.30" stroke="#1a1a1a" stroke-width="1.0"/>
<text x="436.6" y="165.9" font-family='"Liberation Sans", sans-serif' font-size="7.4" font-weight="bold" fill="#000" text-anchor="end" textLength="14.5" lengthAdjust="spacingAndGlyphs">1.05</text>
<line x1="443.80" y1="178.70" x2="443.80" y2="180.90" stroke="#1a1a1a" stroke-width="1.1"/>
<line x1="443.80" y1="12.60" x2="443.80" y2="14.80" stroke="#1a1a1a" stroke-width="1.0"/>
<line x1="458.50" y1="178.70" x2="458.50" y2="182.50" stroke="#1a1a1a" stroke-width="1.1"/>
<line x1="458.50" y1="12.60" x2="458.50" y2="16.40" stroke="#1a1a1a" stroke-width="1.0"/>
<text x="458.5" y="194.8" font-family='"Liberation Sans", sans-serif' font-size="11.6" font-weight="bold" fill="#000" text-anchor="middle" textLength="6.3" lengthAdjust="spacingAndGlyphs">0</text>
<line x1="473.20" y1="178.70" x2="473.20" y2="180.90" stroke="#1a1a1a" stroke-width="1.1"/>
<line x1="473.20" y1="12.60" x2="473.20" y2="14.80" stroke="#1a1a1a" stroke-width="1.0"/>
<line x1="487.90" y1="178.70" x2="487.90" y2="182.50" stroke="#1a1a1a" stroke-width="1.1"/>
<line x1="487.90" y1="12.60" x2="487.90" y2="16.40" stroke="#1a1a1a" stroke-width="1.0"/>
<text x="487.9" y="194.8" font-family='"Liberation Sans", sans-serif' font-size="11.6" font-weight="bold" fill="#000" text-anchor="middle" textLength="6.3" lengthAdjust="spacingAndGlyphs">5</text>
<line x1="502.60" y1="178.70" x2="502.60" y2="180.90" stroke="#1a1a1a" stroke-width="1.1"/>
<line x1="502.60" y1="12.60" x2="502.60" y2="14.80" stroke="#1a1a1a" stroke-width="1.0"/>
<line x1="517.30" y1="178.70" x2="517.30" y2="182.50" stroke="#1a1a1a" stroke-width="1.1"/>
<line x1="517.30" y1="12.60" x2="517.30" y2="16.40" stroke="#1a1a1a" stroke-width="1.0"/>
<text x="517.3" y="194.8" font-family='"Liberation Sans", sans-serif' font-size="11.6" font-weight="bold" fill="#000" text-anchor="middle" textLength="12.1" lengthAdjust="spacingAndGlyphs">10</text>
<line x1="532.00" y1="178.70" x2="532.00" y2="180.90" stroke="#1a1a1a" stroke-width="1.1"/>
<line x1="532.00" y1="12.60" x2="532.00" y2="14.80" stroke="#1a1a1a" stroke-width="1.0"/>
<line x1="546.70" y1="178.70" x2="546.70" y2="182.50" stroke="#1a1a1a" stroke-width="1.1"/>
<line x1="546.70" y1="12.60" x2="546.70" y2="16.40" stroke="#1a1a1a" stroke-width="1.0"/>
<text x="546.7" y="194.8" font-family='"Liberation Sans", sans-serif' font-size="11.6" font-weight="bold" fill="#000" text-anchor="middle" textLength="12.1" lengthAdjust="spacingAndGlyphs">15</text>
<line x1="561.40" y1="178.70" x2="561.40" y2="180.90" stroke="#1a1a1a" stroke-width="1.1"/>
<line x1="561.40" y1="12.60" x2="561.40" y2="14.80" stroke="#1a1a1a" stroke-width="1.0"/>
<line x1="576.10" y1="178.70" x2="576.10" y2="182.50" stroke="#1a1a1a" stroke-width="1.1"/>
<line x1="576.10" y1="12.60" x2="576.10" y2="16.40" stroke="#1a1a1a" stroke-width="1.0"/>
<text x="576.1" y="194.8" font-family='"Liberation Sans", sans-serif' font-size="11.6" font-weight="bold" fill="#000" text-anchor="middle" textLength="12.1" lengthAdjust="spacingAndGlyphs">20</text>
<line x1="590.80" y1="178.70" x2="590.80" y2="180.90" stroke="#1a1a1a" stroke-width="1.1"/>
<line x1="590.80" y1="12.60" x2="590.80" y2="14.80" stroke="#1a1a1a" stroke-width="1.0"/>
<line x1="605.50" y1="178.70" x2="605.50" y2="182.50" stroke="#1a1a1a" stroke-width="1.1"/>
<line x1="605.50" y1="12.60" x2="605.50" y2="16.40" stroke="#1a1a1a" stroke-width="1.0"/>
<text x="605.5" y="194.8" font-family='"Liberation Sans", sans-serif' font-size="11.6" font-weight="bold" fill="#000" text-anchor="middle" textLength="12.1" lengthAdjust="spacingAndGlyphs">25</text>
<line x1="620.20" y1="178.70" x2="620.20" y2="180.90" stroke="#1a1a1a" stroke-width="1.1"/>
<line x1="620.20" y1="12.60" x2="620.20" y2="14.80" stroke="#1a1a1a" stroke-width="1.0"/>
<line x1="634.90" y1="178.70" x2="634.90" y2="182.50" stroke="#1a1a1a" stroke-width="1.1"/>
<line x1="634.90" y1="12.60" x2="634.90" y2="16.40" stroke="#1a1a1a" stroke-width="1.0"/>
<text x="634.9" y="194.8" font-family='"Liberation Sans", sans-serif' font-size="11.6" font-weight="bold" fill="#000" text-anchor="middle" textLength="12.1" lengthAdjust="spacingAndGlyphs">30</text>
<line x1="649.60" y1="178.70" x2="649.60" y2="180.90" stroke="#1a1a1a" stroke-width="1.1"/>
<line x1="649.60" y1="12.60" x2="649.60" y2="14.80" stroke="#1a1a1a" stroke-width="1.0"/>
<text x="484.8" y="212.0" font-family='"Liberation Sans", sans-serif' font-size="12.3" font-weight="bold" fill="#000" textLength="123.7" lengthAdjust="spacingAndGlyphs">Laser power (mW)</text>
<text transform="translate(413.3,165.7) rotate(-90)" font-family='"Liberation Sans", sans-serif' font-size="14" font-weight="bold" textLength="122.8" lengthAdjust="spacingAndGlyphs">Peak position (eV)</text>
<text x="370.6" y="14.4" font-family='"Liberation Serif", serif' font-size="17" font-weight="bold" fill="#000" textLength="19.8" lengthAdjust="spacingAndGlyphs">(b)</text>
<rect x="460.9" y="16.5" width="7" height="7" fill="#4f4f4f"/>
<rect x="463.1" y="18.7" width="2.6" height="2.6" fill="#a8a8a8"/>
<rect x="484.4" y="18.1" width="7" height="7" fill="#4f4f4f"/>
<rect x="486.6" y="20.3" width="2.6" height="2.6" fill="#a8a8a8"/>
<rect x="513.8" y="18.1" width="7" height="7" fill="#4f4f4f"/>
<rect x="516.0" y="20.3" width="2.6" height="2.6" fill="#a8a8a8"/>
<rect x="543.2" y="18.1" width="7" height="7" fill="#4f4f4f"/>
<rect x="545.4" y="20.3" width="2.6" height="2.6" fill="#a8a8a8"/>
<rect x="572.6" y="18.1" width="7" height="7" fill="#4f4f4f"/>
<rect x="574.8" y="20.3" width="2.6" height="2.6" fill="#a8a8a8"/>
<rect x="602.0" y="18.1" width="7" height="7" fill="#4f4f4f"/>
<rect x="604.2" y="20.3" width="2.6" height="2.6" fill="#a8a8a8"/>
<rect x="631.4" y="18.1" width="7" height="7" fill="#4f4f4f"/>
<rect x="633.6" y="20.3" width="2.6" height="2.6" fill="#a8a8a8"/>
<circle cx="464.4" cy="65.5" r="2.95" fill="none" stroke="#eb2a34" stroke-width="2.6"/>
<circle cx="487.9" cy="62.5" r="2.95" fill="none" stroke="#eb2a34" stroke-width="2.6"/>
<circle cx="517.3" cy="62.2" r="2.95" fill="none" stroke="#eb2a34" stroke-width="2.6"/>
<circle cx="546.7" cy="62.2" r="2.95" fill="none" stroke="#eb2a34" stroke-width="2.6"/>
<circle cx="576.1" cy="62.5" r="2.95" fill="none" stroke="#eb2a34" stroke-width="2.6"/>
<circle cx="605.5" cy="62.5" r="2.95" fill="none" stroke="#eb2a34" stroke-width="2.6"/>
<circle cx="634.9" cy="62.5" r="2.95" fill="none" stroke="#eb2a34" stroke-width="2.6"/>
<path d="M458.8 91.4L464.4 81.1L470.0 91.4Z" fill="#1e6edc"/>
<path d="M462.6 88.8L464.4 86.0L466.2 88.8Z" fill="#fff" opacity="0.85"/>
<path d="M482.3 89.3L487.9 79.0L493.5 89.3Z" fill="#1e6edc"/>
<path d="M486.1 86.7L487.9 83.9L489.7 86.7Z" fill="#fff" opacity="0.85"/>
<path d="M511.7 88.7L517.3 78.4L522.9 88.7Z" fill="#1e6edc"/>
<path d="M515.5 86.1L517.3 83.3L519.1 86.1Z" fill="#fff" opacity="0.85"/>
<path d="M541.1 87.8L546.7 77.5L552.3 87.8Z" fill="#1e6edc"/>
<path d="M544.9 85.2L546.7 82.4L548.5 85.2Z" fill="#fff" opacity="0.85"/>
<path d="M570.5 88.0L576.1 77.7L581.7 88.0Z" fill="#1e6edc"/>
<path d="M574.3 85.4L576.1 82.6L577.9 85.4Z" fill="#fff" opacity="0.85"/>
<path d="M599.9 88.0L605.5 77.7L611.1 88.0Z" fill="#1e6edc"/>
<path d="M603.7 85.4L605.5 82.6L607.3 85.4Z" fill="#fff" opacity="0.85"/>
<path d="M629.3 87.8L634.9 77.5L640.5 87.8Z" fill="#1e6edc"/>
<path d="M633.1 85.2L634.9 82.4L636.7 85.2Z" fill="#fff" opacity="0.85"/>
<path d="M458.8 155.4L464.4 165.7L470.0 155.4Z" fill="#28a05a"/>
<path d="M462.6 158.0L464.4 160.8L466.2 158.0Z" fill="#fff" opacity="0.85"/>
<path d="M482.3 142.9L487.9 153.2L493.5 142.9Z" fill="#28a05a"/>
<path d="M486.1 145.5L487.9 148.3L489.7 145.5Z" fill="#fff" opacity="0.85"/>
<path d="M511.7 131.6L517.3 141.9L522.9 131.6Z" fill="#28a05a"/>
<path d="M515.5 134.2L517.3 137.0L519.1 134.2Z" fill="#fff" opacity="0.85"/>
<path d="M541.1 121.7L546.7 132.0L552.3 121.7Z" fill="#28a05a"/>
<path d="M544.9 124.3L546.7 127.1L548.5 124.3Z" fill="#fff" opacity="0.85"/>
<path d="M570.5 116.0L576.1 126.3L581.7 116.0Z" fill="#28a05a"/>
<path d="M574.3 118.6L576.1 121.4L577.9 118.6Z" fill="#fff" opacity="0.85"/>
<path d="M599.9 109.2L605.5 119.5L611.1 109.2Z" fill="#28a05a"/>
<path d="M603.7 111.8L605.5 114.6L607.3 111.8Z" fill="#fff" opacity="0.85"/>
<path d="M629.3 103.5L634.9 113.8L640.5 103.5Z" fill="#28a05a"/>
<path d="M633.1 106.1L634.9 108.9L636.7 106.1Z" fill="#fff" opacity="0.85"/>
<rect x="616" y="139.4" width="33.5" height="39.3" fill="#fff" stroke="#9a9a9a" stroke-width="0.8"/>
<rect x="620.7" y="141.8" width="6" height="6" fill="#4f4f4f"/><rect x="622.6" y="143.7" width="2.2" height="2.2" fill="#a8a8a8"/>
<circle cx="623.7" cy="153.9" r="2.6" fill="none" stroke="#eb2a34" stroke-width="2.2"/>
<path d="M619.8 165.8L623.7 159.0L627.6 165.8Z" fill="none" stroke="#1e6edc" stroke-width="1.8"/>
<path d="M619.8 168.4L623.7 175.2L627.6 168.4Z" fill="none" stroke="#28a05a" stroke-width="1.8"/>
<line x1="649.50" y1="144.80" x2="647.30" y2="144.80" stroke="#1a1a1a" stroke-width="1.0"/>
<line x1="649.50" y1="163.30" x2="645.50" y2="163.30" stroke="#1a1a1a" stroke-width="1.0"/>
<text x="630.4" y="147.3" font-family='"Liberation Sans", sans-serif' font-size="6.6" font-weight="bold" fill="#000">B</text>
<text x="630.4" y="156.4" font-family='"Liberation Sans", sans-serif' font-size="6.6" font-weight="bold" fill="#000">WL1</text>
<text x="630.4" y="165.1" font-family='"Liberation Sans", sans-serif' font-size="6.6" font-weight="bold" fill="#000">WL2</text>
<text x="630.4" y="174.1" font-family='"Liberation Sans", sans-serif' font-size="6.6" font-weight="bold" fill="#000">QD1</text>
<clipPath id="cc"><rect x="49.5" y="234.5" width="247.0" height="173.5"/></clipPath>
<g clip-path="url(#cc)">
<path d="M48.6 367.8V376.6M49.5 366.9V372.9M50.5 368.2V372.3M51.5 363.7V375.6M52.4 366.3V373.4M53.4 360.5V364.8M54.3 364.5V370.5M55.3 356.3V364.0M56.3 358.9V364.0M57.2 360.7V363.1M58.2 357.9V360.9M59.1 353.1V356.3M60.1 352.5V355.0M61.1 350.5V354.7M62.0 351.1V352.4M63.0 350.3V353.5M63.9 346.3V347.6M64.9 346.4V348.9M65.8 344.1V348.2M66.8 343.7V345.3M67.8 341.8V343.7M283.6 343.7V345.6M284.5 355.3V360.2M285.5 369.1V374.1M286.5 366.1V387.9M287.4 383.2V387.1M288.4 383.7V388.0M289.3 383.9V388.8M290.3 375.7V403.2M291.3 388.8V391.3M292.2 393.1V401.9M293.2 386.0V402.1M294.1 395.8V399.8M295.1 390.7V400.3M296.1 389.4V392.9M297.0 400.6V403.6" stroke="#2f6a35" stroke-width="0.8" fill="none" opacity="0.8"/>
<marker id="mc0" markerUnits="userSpaceOnUse" markerWidth="3" markerHeight="3" refX="1.5" refY="1.5" overflow="visible"><circle cx="1.5" cy="1.5" r="1.05" fill="#2f6a35"/></marker>
<path d="M48.6 372.2L49.5 369.9L50.5 370.3L51.5 369.6L52.4 369.9L53.4 362.6L54.3 367.5L55.3 360.1L56.3 361.5L57.2 361.9L58.2 359.4L59.1 354.7L60.1 353.7L61.1 352.6L62.0 351.8L63.0 351.9L63.9 346.9L64.9 347.6L65.8 346.2L66.8 344.5L67.8 342.8L68.7 342.0L69.7 339.7L70.6 338.4L71.6 336.8L72.6 335.8L73.5 333.2L74.5 333.1L75.4 331.3L76.4 330.1L77.4 328.7L78.3 327.2L79.3 326.6L80.2 325.4L81.2 324.7L82.2 323.0L83.1 323.0L84.1 321.5L85.0 320.3L86.0 319.2L86.9 318.1L87.9 317.0L88.9 316.3L89.8 315.5L90.8 314.5L91.7 313.2L92.7 312.7L93.7 311.7L94.6 311.2L95.6 311.0L96.5 309.7L97.5 308.6L98.5 307.3L99.4 306.6L100.4 305.7L101.3 305.7L102.3 304.4L103.3 303.8L104.2 302.7L105.2 302.1L106.1 301.7L107.1 300.1L108.1 299.3L109.0 298.2L110.0 297.9L110.9 296.3L111.9 295.3L112.8 294.3L113.8 293.3L114.8 293.0L115.7 292.8L116.7 290.7L117.6 290.5L118.6 289.4L119.6 288.0L120.5 287.5L121.5 286.7L122.4 285.7L123.4 285.8L124.4 283.6L125.3 283.6L126.3 282.7L127.2 281.6L128.2 281.0L129.2 280.5L130.1 279.4L131.1 278.8L132.0 278.2L133.0 276.6L133.9 277.2L134.9 276.9L135.9 275.9L136.8 275.5L137.8 274.2L138.7 274.3L139.7 273.8L140.7 273.5L141.6 273.8L142.6 272.9L143.5 272.9L144.5 272.0L145.5 272.4L146.4 272.2L147.4 271.7L148.3 271.5L149.3 272.2L150.3 270.8L151.2 270.6L152.2 270.5L153.1 270.9L154.1 270.9L155.1 270.0L156.0 269.4L157.0 269.2L157.9 269.5L158.9 268.5L159.8 269.1L160.8 268.8L161.8 268.1L162.7 268.0L163.7 267.7L164.6 267.7L165.6 266.4L166.6 266.9L167.5 266.0L168.5 265.4L169.4 265.3L170.4 264.7L171.4 263.9L172.3 263.1L173.3 262.6L174.2 262.7L175.2 262.2L176.2 261.0L177.1 260.4L178.1 259.1L179.0 258.5L180.0 257.9L181.0 256.7L181.9 256.1L182.9 256.0L183.8 255.3L184.8 254.7L185.7 254.8L186.7 254.2L187.7 254.4L188.6 253.6L189.6 253.2L190.5 253.0L191.5 252.6L192.5 252.2L193.4 252.0L194.4 252.1L195.3 251.9L196.3 251.9L197.3 250.7L198.2 251.0L199.2 250.9L200.1 251.1L201.1 250.8L202.1 250.9L203.0 251.5L204.0 251.4L204.9 251.2L205.9 252.4L206.8 252.6L207.8 252.4L208.8 253.3L209.7 253.2L210.7 254.3L211.6 254.3L212.6 254.6L213.6 255.2L214.5 255.6L215.5 256.4L216.4 256.9L217.4 257.3L218.4 257.6L219.3 257.0L220.3 258.8L221.2 258.7L222.2 260.0L223.2 260.9L224.1 261.3L225.1 261.8L226.0 262.6L227.0 263.4L228.0 264.2L228.9 265.2L229.9 266.1L230.8 268.3L231.8 269.7L232.7 272.2L233.7 274.1L234.7 276.7L235.6 279.3L236.6 282.3L237.5 285.1L238.5 287.6L239.5 289.9L240.4 293.1L241.4 297.5L242.3 300.7L243.3 304.5L244.3 308.9L245.2 312.1L246.2 314.8L247.1 316.5L248.1 318.7L249.1 318.1L250.0 317.5L251.0 316.2L251.9 314.2L252.9 312.3L253.8 310.7L254.8 308.4L255.8 305.8L256.7 303.0L257.7 300.6L258.6 298.7L259.6 295.7L260.6 293.6L261.5 290.6L262.5 288.1L263.4 284.5L264.4 281.3L265.4 279.0L266.3 276.5L267.3 276.1L268.2 274.8L269.2 274.0L270.2 273.0L271.1 272.4L272.1 272.1L273.0 272.8L274.0 274.2L275.0 274.9L275.9 277.3L276.9 279.4L277.8 283.9L278.8 290.6L279.7 299.8L280.7 309.8L281.7 321.1L282.6 331.5L283.6 344.7L284.5 357.8L285.5 371.6L286.5 377.0L287.4 385.1L288.4 385.8L289.3 386.3L290.3 389.4L291.3 390.1L292.2 397.5L293.2 394.1L294.1 397.8L295.1 395.5L296.1 391.1L297.0 402.1" stroke="#2f6a35" stroke-width="1.0" fill="none" marker-mid="url(#mc0)"/>
<path d="M48.6 371.2V372.9M49.5 367.9V376.5M50.5 362.7V371.2M51.5 367.1V370.6M52.4 367.3V372.9M53.4 366.6V376.8M54.3 359.4V374.4M55.3 360.3V368.4M56.3 363.8V366.1M57.2 359.3V366.7M58.2 361.2V364.3M59.1 354.9V365.0M60.1 353.7V358.4M61.1 353.0V357.4M62.0 352.8V354.3M63.0 350.6V353.6M63.9 348.1V352.6M64.9 345.3V349.8M65.8 343.4V345.5M66.8 343.5V346.0M67.8 340.3V343.6M68.7 341.5V343.6M283.6 347.0V351.3M284.5 362.6V373.9M285.5 372.5V378.0M286.5 374.1V392.6M287.4 374.9V386.2M288.4 380.4V387.5M289.3 377.8V391.1M290.3 381.1V396.3M291.3 386.5V389.4M292.2 387.1V395.7M293.2 387.2V402.2M294.1 385.2V399.2M295.1 386.1V395.9M296.1 390.4V393.0M297.0 397.4V402.7" stroke="#3f7a35" stroke-width="0.8" fill="none" opacity="0.8"/>
<marker id="mc1" markerUnits="userSpaceOnUse" markerWidth="3" markerHeight="3" refX="1.5" refY="1.5" overflow="visible"><circle cx="1.5" cy="1.5" r="1.05" fill="#3f7a35"/></marker>
<path d="M48.6 372.0L49.5 372.2L50.5 366.9L51.5 368.8L52.4 370.1L53.4 371.7L54.3 366.9L55.3 364.3L56.3 365.0L57.2 363.0L58.2 362.8L59.1 360.0L60.1 356.1L61.1 355.2L62.0 353.5L63.0 352.1L63.9 350.4L64.9 347.5L65.8 344.4L66.8 344.7L67.8 341.9L68.7 342.5L69.7 341.0L70.6 338.5L71.6 338.7L72.6 337.4L73.5 335.7L74.5 335.0L75.4 333.9L76.4 331.6L77.4 331.2L78.3 329.8L79.3 328.7L80.2 327.8L81.2 326.1L82.2 325.1L83.1 324.0L84.1 322.9L85.0 322.2L86.0 320.7L86.9 319.8L87.9 319.4L88.9 318.2L89.8 317.4L90.8 315.7L91.7 315.2L92.7 314.4L93.7 313.7L94.6 312.7L95.6 312.4L96.5 311.2L97.5 310.4L98.5 309.6L99.4 309.0L100.4 307.8L101.3 307.5L102.3 306.5L103.3 305.6L104.2 304.7L105.2 304.0L106.1 303.4L107.1 302.5L108.1 301.5L109.0 300.8L110.0 299.7L110.9 299.2L111.9 298.0L112.8 296.4L113.8 296.8L114.8 295.5L115.7 294.2L116.7 293.7L117.6 292.7L118.6 292.9L119.6 291.6L120.5 290.1L121.5 290.1L122.4 289.0L123.4 289.0L124.4 287.2L125.3 286.0L126.3 286.1L127.2 285.1L128.2 284.4L129.2 283.0L130.1 283.2L131.1 282.9L132.0 281.0L133.0 281.4L133.9 280.2L134.9 280.6L135.9 279.4L136.8 278.6L137.8 278.6L138.7 278.0L139.7 277.2L140.7 277.2L141.6 276.4L142.6 275.6L143.5 276.6L144.5 275.4L145.5 275.0L146.4 275.0L147.4 274.0L148.3 273.7L149.3 273.7L150.3 273.3L151.2 273.2L152.2 273.2L153.1 272.3L154.1 272.3L155.1 272.0L156.0 271.0L157.0 271.1L157.9 270.4L158.9 270.7L159.8 270.1L160.8 269.6L161.8 268.8L162.7 268.9L163.7 268.3L164.6 268.4L165.6 267.7L166.6 267.0L167.5 267.2L168.5 266.7L169.4 265.7L170.4 265.8L171.4 264.7L172.3 264.0L173.3 263.5L174.2 262.4L175.2 261.8L176.2 261.2L177.1 261.0L178.1 260.2L179.0 258.9L180.0 258.8L181.0 257.6L181.9 257.1L182.9 256.7L183.8 256.0L184.8 256.3L185.7 255.2L186.7 254.3L187.7 254.8L188.6 253.8L189.6 253.5L190.5 252.2L191.5 253.2L192.5 252.9L193.4 252.5L194.4 252.3L195.3 252.3L196.3 251.5L197.3 251.7L198.2 250.9L199.2 250.9L200.1 251.4L201.1 251.1L202.1 250.6L203.0 251.3L204.0 251.3L204.9 251.4L205.9 252.1L206.8 252.2L207.8 252.2L208.8 252.8L209.7 254.2L210.7 253.6L211.6 254.7L212.6 255.4L213.6 255.9L214.5 255.8L215.5 256.6L216.4 257.3L217.4 258.1L218.4 258.1L219.3 258.5L220.3 259.8L221.2 260.4L222.2 260.8L223.2 261.1L224.1 262.2L225.1 262.9L226.0 264.0L227.0 264.1L228.0 265.6L228.9 266.6L229.9 267.4L230.8 269.5L231.8 271.4L232.7 273.5L233.7 276.3L234.7 278.3L235.6 281.6L236.6 284.7L237.5 287.5L238.5 290.5L239.5 292.4L240.4 295.5L241.4 299.6L242.3 303.4L243.3 307.7L244.3 310.8L245.2 313.5L246.2 316.8L247.1 318.2L248.1 319.1L249.1 320.6L250.0 319.3L251.0 318.5L251.9 317.1L252.9 315.9L253.8 313.6L254.8 311.9L255.8 309.0L256.7 306.9L257.7 305.9L258.6 304.0L259.6 301.4L260.6 298.8L261.5 296.2L262.5 293.3L263.4 291.6L264.4 289.1L265.4 287.3L266.3 285.9L267.3 285.0L268.2 283.7L269.2 282.9L270.2 281.5L271.1 281.6L272.1 282.1L273.0 281.6L274.0 282.8L275.0 284.6L275.9 286.5L276.9 288.7L277.8 291.0L278.8 297.9L279.7 305.8L280.7 315.6L281.7 325.9L282.6 335.6L283.6 349.2L284.5 368.2L285.5 375.2L286.5 383.3L287.4 380.5L288.4 384.0L289.3 384.4L290.3 388.7L291.3 387.9L292.2 391.4L293.2 394.7L294.1 392.2L295.1 391.0L296.1 391.7L297.0 400.0" stroke="#3f7a35" stroke-width="1.0" fill="none" marker-mid="url(#mc1)"/>
<path d="M48.6 375.1V378.5M49.5 365.0V370.7M50.5 368.6V384.9M51.5 370.4V373.7M52.4 364.4V371.2M53.4 360.2V369.3M54.3 359.4V364.0M55.3 360.2V362.2M56.3 363.0V365.7M57.2 356.3V365.4M58.2 355.8V359.5M59.1 352.0V363.1M60.1 357.1V363.2M61.1 350.7V359.3M62.0 351.9V354.2M63.0 353.0V356.5M63.9 350.3V353.1M64.9 347.1V352.0M65.8 345.0V349.3M66.8 342.9V346.3M67.8 341.7V345.8M68.7 341.7V344.4M69.7 341.2V342.6M283.6 349.9V353.5M284.5 361.9V366.6M285.5 369.9V371.3M286.5 373.0V382.6M287.4 391.4V393.4M288.4 383.6V393.7M289.3 375.9V391.5M290.3 384.3V402.1M291.3 386.9V396.5M292.2 378.3V394.5M293.2 383.4V387.8M294.1 388.5V390.7M295.1 395.5V401.9M296.1 394.6V400.7M297.0 388.8V405.0" stroke="#588a32" stroke-width="0.8" fill="none" opacity="0.8"/>
<marker id="mc2" markerUnits="userSpaceOnUse" markerWidth="3" markerHeight="3" refX="1.5" refY="1.5" overflow="visible"><circle cx="1.5" cy="1.5" r="1.05" fill="#588a32"/></marker>
<path d="M48.6 376.8L49.5 367.8L50.5 376.8L51.5 372.1L52.4 367.8L53.4 364.8L54.3 361.7L55.3 361.2L56.3 364.4L57.2 360.8L58.2 357.7L59.1 357.6L60.1 360.2L61.1 355.0L62.0 353.1L63.0 354.7L63.9 351.7L64.9 349.5L65.8 347.2L66.8 344.6L67.8 343.7L68.7 343.1L69.7 341.9L70.6 341.0L71.6 339.7L72.6 338.2L73.5 336.9L74.5 335.1L75.4 333.6L76.4 333.0L77.4 331.6L78.3 330.6L79.3 329.6L80.2 328.1L81.2 327.1L82.2 326.4L83.1 325.4L84.1 324.1L85.0 323.5L86.0 322.2L86.9 320.9L87.9 320.3L88.9 320.0L89.8 318.2L90.8 317.9L91.7 317.1L92.7 316.2L93.7 314.5L94.6 314.7L95.6 313.1L96.5 312.2L97.5 311.4L98.5 310.8L99.4 309.8L100.4 308.9L101.3 308.6L102.3 307.1L103.3 306.2L104.2 306.1L105.2 305.2L106.1 304.6L107.1 303.0L108.1 302.9L109.0 301.9L110.0 301.6L110.9 299.7L111.9 299.5L112.8 298.5L113.8 297.3L114.8 296.8L115.7 296.7L116.7 295.4L117.6 294.5L118.6 294.3L119.6 293.6L120.5 292.9L121.5 291.6L122.4 291.1L123.4 290.7L124.4 289.4L125.3 288.6L126.3 288.5L127.2 288.0L128.2 286.3L129.2 285.1L130.1 284.8L131.1 284.3L132.0 283.9L133.0 283.5L133.9 282.6L134.9 281.8L135.9 281.5L136.8 280.6L137.8 280.4L138.7 279.7L139.7 280.4L140.7 279.3L141.6 278.3L142.6 277.8L143.5 277.6L144.5 276.7L145.5 276.7L146.4 276.3L147.4 276.4L148.3 275.6L149.3 275.1L150.3 274.5L151.2 274.1L152.2 274.1L153.1 273.6L154.1 273.7L155.1 272.7L156.0 272.8L157.0 272.2L157.9 271.7L158.9 270.6L159.8 270.4L160.8 270.7L161.8 270.5L162.7 269.7L163.7 269.5L164.6 268.6L165.6 268.2L166.6 267.6L167.5 267.7L168.5 267.0L169.4 266.2L170.4 265.6L171.4 265.3L172.3 264.6L173.3 263.5L174.2 263.6L175.2 262.4L176.2 261.5L177.1 261.3L178.1 260.4L179.0 259.3L180.0 258.8L181.0 257.5L181.9 257.1L182.9 255.9L183.8 256.6L184.8 255.1L185.7 255.6L186.7 254.7L187.7 254.2L188.6 254.1L189.6 253.9L190.5 253.6L191.5 253.6L192.5 252.8L193.4 252.7L194.4 251.8L195.3 252.0L196.3 251.6L197.3 251.2L198.2 251.2L199.2 251.1L200.1 251.1L201.1 251.1L202.1 250.9L203.0 250.9L204.0 251.7L204.9 251.1L205.9 251.8L206.8 252.9L207.8 251.8L208.8 253.0L209.7 254.0L210.7 253.7L211.6 255.7L212.6 254.4L213.6 256.4L214.5 257.0L215.5 257.3L216.4 257.5L217.4 258.2L218.4 258.3L219.3 259.5L220.3 259.4L221.2 260.3L222.2 261.5L223.2 261.4L224.1 262.5L225.1 263.5L226.0 263.8L227.0 265.7L228.0 266.4L228.9 266.9L229.9 268.7L230.8 270.1L231.8 272.1L232.7 274.8L233.7 277.1L234.7 280.5L235.6 282.8L236.6 286.4L237.5 289.0L238.5 292.1L239.5 294.3L240.4 297.5L241.4 300.7L242.3 305.0L243.3 308.8L244.3 312.7L245.2 315.6L246.2 317.8L247.1 319.6L248.1 320.9L249.1 320.8L250.0 320.9L251.0 319.9L251.9 318.1L252.9 316.7L253.8 315.7L254.8 313.6L255.8 311.5L256.7 310.2L257.7 307.9L258.6 306.2L259.6 304.2L260.6 301.5L261.5 300.2L262.5 297.2L263.4 295.2L264.4 293.2L265.4 292.2L266.3 290.8L267.3 289.9L268.2 288.4L269.2 288.2L270.2 287.1L271.1 287.4L272.1 287.3L273.0 287.6L274.0 289.3L275.0 290.1L275.9 291.9L276.9 293.8L277.8 296.6L278.8 302.8L279.7 310.7L280.7 319.0L281.7 329.1L282.6 338.5L283.6 351.7L284.5 364.3L285.5 370.6L286.5 377.8L287.4 392.4L288.4 388.6L289.3 383.7L290.3 393.2L291.3 391.7L292.2 386.4L293.2 385.6L294.1 389.6L295.1 398.7L296.1 397.7L297.0 396.9" stroke="#588a32" stroke-width="1.0" fill="none" marker-mid="url(#mc2)"/>
<path d="M48.6 361.5V373.8M49.5 372.4V382.1M50.5 377.2V382.8M51.5 367.3V375.7M52.4 365.2V374.6M53.4 365.4V375.4M54.3 370.3V373.2M55.3 358.7V366.1M56.3 363.2V365.1M57.2 359.5V364.5M58.2 357.7V366.7M59.1 358.4V361.2M60.1 357.5V361.0M61.1 354.1V357.2M62.0 350.1V359.9M63.0 350.1V354.4M63.9 348.2V353.6M64.9 348.9V351.4M65.8 348.0V349.5M66.8 344.2V347.8M67.8 346.6V348.9M68.7 341.9V347.0M69.7 340.2V343.5M70.6 341.2V344.2M283.6 353.5V355.5M284.5 365.9V371.3M285.5 375.0V379.6M286.5 373.9V380.0M287.4 375.1V393.0M288.4 381.7V400.7M289.3 390.0V391.3M290.3 398.4V400.0M291.3 386.6V388.7M292.2 396.5V399.7M293.2 390.9V395.7M294.1 396.9V408.9M295.1 394.1V400.3M296.1 401.2V403.8M297.0 394.5V395.7" stroke="#749a30" stroke-width="0.8" fill="none" opacity="0.8"/>
<marker id="mc3" markerUnits="userSpaceOnUse" markerWidth="3" markerHeight="3" refX="1.5" refY="1.5" overflow="visible"><circle cx="1.5" cy="1.5" r="1.05" fill="#749a30"/></marker>
<path d="M48.6 367.7L49.5 377.3L50.5 380.0L51.5 371.5L52.4 369.9L53.4 370.4L54.3 371.7L55.3 362.4L56.3 364.1L57.2 362.0L58.2 362.2L59.1 359.8L60.1 359.3L61.1 355.6L62.0 355.0L63.0 352.3L63.9 350.9L64.9 350.2L65.8 348.7L66.8 346.0L67.8 347.8L68.7 344.4L69.7 341.8L70.6 342.7L71.6 339.9L72.6 339.5L73.5 337.9L74.5 336.8L75.4 335.5L76.4 334.1L77.4 333.1L78.3 332.7L79.3 330.0L80.2 329.7L81.2 328.8L82.2 327.2L83.1 326.0L84.1 326.2L85.0 324.3L86.0 324.1L86.9 322.6L87.9 321.5L88.9 320.6L89.8 319.8L90.8 319.0L91.7 317.8L92.7 316.8L93.7 316.0L94.6 315.5L95.6 314.5L96.5 313.0L97.5 312.3L98.5 311.8L99.4 310.6L100.4 309.9L101.3 308.9L102.3 308.3L103.3 307.8L104.2 307.2L105.2 306.1L106.1 306.0L107.1 304.5L108.1 304.9L109.0 303.4L110.0 302.5L110.9 301.4L111.9 299.8L112.8 300.1L113.8 299.5L114.8 299.4L115.7 297.5L116.7 297.9L117.6 296.5L118.6 296.1L119.6 294.3L120.5 294.5L121.5 293.7L122.4 293.3L123.4 292.4L124.4 291.3L125.3 291.3L126.3 290.5L127.2 289.8L128.2 289.3L129.2 288.6L130.1 287.5L131.1 286.4L132.0 285.7L133.0 286.1L133.9 285.2L134.9 284.4L135.9 283.6L136.8 283.2L137.8 282.6L138.7 282.0L139.7 281.3L140.7 281.8L141.6 280.6L142.6 279.9L143.5 279.1L144.5 278.9L145.5 278.9L146.4 278.5L147.4 277.7L148.3 277.3L149.3 276.7L150.3 276.0L151.2 276.4L152.2 275.6L153.1 275.8L154.1 274.2L155.1 274.0L156.0 273.9L157.0 273.0L157.9 272.1L158.9 271.8L159.8 271.8L160.8 271.4L161.8 270.8L162.7 270.7L163.7 270.2L164.6 269.5L165.6 268.9L166.6 268.3L167.5 268.0L168.5 267.6L169.4 266.7L170.4 266.3L171.4 265.3L172.3 264.3L173.3 263.7L174.2 263.6L175.2 262.7L176.2 262.4L177.1 261.1L178.1 260.6L179.0 260.1L180.0 259.2L181.0 258.0L181.9 257.5L182.9 257.1L183.8 256.2L184.8 256.2L185.7 256.0L186.7 255.0L187.7 255.5L188.6 254.3L189.6 253.9L190.5 253.5L191.5 252.9L192.5 252.9L193.4 252.4L194.4 252.7L195.3 252.0L196.3 251.8L197.3 251.3L198.2 250.7L199.2 251.1L200.1 250.7L201.1 251.3L202.1 251.1L203.0 251.8L204.0 251.7L204.9 252.0L205.9 252.1L206.8 252.5L207.8 253.1L208.8 253.6L209.7 253.6L210.7 254.5L211.6 255.8L212.6 255.5L213.6 256.0L214.5 256.4L215.5 256.7L216.4 258.2L217.4 258.4L218.4 259.1L219.3 260.2L220.3 261.1L221.2 260.6L222.2 261.9L223.2 262.5L224.1 263.3L225.1 264.2L226.0 264.9L227.0 266.5L228.0 267.3L228.9 268.4L229.9 270.0L230.8 271.6L231.8 273.6L232.7 276.0L233.7 279.2L234.7 281.7L235.6 284.5L236.6 287.3L237.5 290.5L238.5 293.1L239.5 296.2L240.4 299.4L241.4 302.0L242.3 306.3L243.3 310.1L244.3 313.4L245.2 316.1L246.2 319.4L247.1 320.6L248.1 321.4L249.1 321.6L250.0 321.5L251.0 321.1L251.9 320.2L252.9 318.6L253.8 316.6L254.8 315.2L255.8 313.5L256.7 312.2L257.7 310.1L258.6 309.3L259.6 307.7L260.6 305.6L261.5 303.8L262.5 301.3L263.4 299.2L264.4 297.9L265.4 297.2L266.3 296.2L267.3 294.9L268.2 294.8L269.2 293.7L270.2 293.9L271.1 293.2L272.1 292.9L273.0 293.7L274.0 294.0L275.0 295.2L275.9 296.7L276.9 299.2L277.8 301.8L278.8 307.1L279.7 314.3L280.7 323.4L281.7 331.5L282.6 340.2L283.6 354.5L284.5 368.6L285.5 377.3L286.5 377.0L287.4 384.0L288.4 391.2L289.3 390.7L290.3 399.2L291.3 387.6L292.2 398.1L293.2 393.3L294.1 402.9L295.1 397.2L296.1 402.5L297.0 395.1" stroke="#749a30" stroke-width="1.0" fill="none" marker-mid="url(#mc3)"/>
<path d="M48.6 376.2V379.2M49.5 365.3V385.2M50.5 375.5V379.3M51.5 367.9V377.4M52.4 371.0V372.4M53.4 364.5V374.5M54.3 364.3V366.6M55.3 362.0V367.0M56.3 361.7V363.5M57.2 362.5V365.9M58.2 351.3V370.0M59.1 357.8V359.3M60.1 358.0V361.9M61.1 357.3V360.8M62.0 351.8V354.7M63.0 356.7V359.7M63.9 351.6V356.0M64.9 351.3V353.1M65.8 349.4V355.7M66.8 348.2V351.2M67.8 346.4V348.5M68.7 348.5V350.6M69.7 341.8V347.0M70.6 342.9V345.5M71.6 342.4V345.2M72.6 340.2V341.5M281.7 339.5V343.8M282.6 351.2V352.6M283.6 359.5V361.3M284.5 367.8V376.7M285.5 378.6V385.1M286.5 380.8V390.2M287.4 382.0V392.2M288.4 376.8V403.9M289.3 392.0V396.9M290.3 385.5V404.6M291.3 393.6V399.5M292.2 391.0V401.3M293.2 388.9V396.9M294.1 394.5V397.2M295.1 388.2V398.5M296.1 391.3V413.5M297.0 383.0V394.1" stroke="#92a82e" stroke-width="0.8" fill="none" opacity="0.8"/>
<marker id="mc4" markerUnits="userSpaceOnUse" markerWidth="3" markerHeight="3" refX="1.5" refY="1.5" overflow="visible"><circle cx="1.5" cy="1.5" r="1.05" fill="#92a82e"/></marker>
<path d="M48.6 377.7L49.5 375.2L50.5 377.4L51.5 372.7L52.4 371.7L53.4 369.5L54.3 365.4L55.3 364.5L56.3 362.6L57.2 364.2L58.2 360.7L59.1 358.5L60.1 359.9L61.1 359.1L62.0 353.2L63.0 358.2L63.9 353.8L64.9 352.2L65.8 352.6L66.8 349.7L67.8 347.5L68.7 349.5L69.7 344.4L70.6 344.2L71.6 343.8L72.6 340.9L73.5 340.5L74.5 339.6L75.4 339.6L76.4 336.6L77.4 335.8L78.3 334.9L79.3 333.6L80.2 332.1L81.2 331.5L82.2 330.4L83.1 329.4L84.1 328.6L85.0 327.5L86.0 326.3L86.9 325.2L87.9 323.8L88.9 323.1L89.8 322.3L90.8 321.1L91.7 320.3L92.7 319.0L93.7 318.9L94.6 318.2L95.6 316.4L96.5 315.8L97.5 314.7L98.5 314.3L99.4 313.2L100.4 312.2L101.3 311.2L102.3 310.5L103.3 309.3L104.2 309.1L105.2 307.8L106.1 307.5L107.1 306.6L108.1 306.2L109.0 305.1L110.0 304.7L110.9 303.3L111.9 303.1L112.8 302.1L113.8 301.6L114.8 300.9L115.7 300.5L116.7 298.8L117.6 298.9L118.6 297.6L119.6 297.9L120.5 296.1L121.5 295.8L122.4 294.9L123.4 295.4L124.4 293.7L125.3 293.5L126.3 292.6L127.2 291.5L128.2 291.3L129.2 291.0L130.1 290.0L131.1 289.8L132.0 288.7L133.0 288.2L133.9 287.4L134.9 287.1L135.9 287.1L136.8 286.0L137.8 285.4L138.7 284.5L139.7 284.0L140.7 284.3L141.6 282.9L142.6 282.5L143.5 282.3L144.5 281.7L145.5 282.1L146.4 280.1L147.4 280.6L148.3 280.3L149.3 279.2L150.3 278.9L151.2 278.8L152.2 278.7L153.1 277.3L154.1 276.6L155.1 276.9L156.0 276.6L157.0 275.5L157.9 274.3L158.9 275.1L159.8 274.0L160.8 273.9L161.8 273.0L162.7 272.3L163.7 271.7L164.6 271.8L165.6 271.3L166.6 269.4L167.5 269.3L168.5 269.6L169.4 268.2L170.4 267.2L171.4 267.0L172.3 266.2L173.3 265.4L174.2 264.5L175.2 263.7L176.2 262.9L177.1 262.3L178.1 261.1L179.0 260.5L180.0 259.8L181.0 259.6L181.9 258.6L182.9 257.8L183.8 257.4L184.8 256.9L185.7 256.6L186.7 256.0L187.7 255.9L188.6 255.3L189.6 254.3L190.5 253.8L191.5 253.8L192.5 253.2L193.4 252.6L194.4 251.8L195.3 251.3L196.3 251.8L197.3 251.7L198.2 251.5L199.2 250.6L200.1 251.4L201.1 250.8L202.1 251.2L203.0 251.4L204.0 251.2L204.9 251.5L205.9 251.3L206.8 252.1L207.8 252.3L208.8 253.6L209.7 254.0L210.7 254.8L211.6 255.2L212.6 255.5L213.6 256.4L214.5 256.8L215.5 257.7L216.4 258.2L217.4 258.4L218.4 259.4L219.3 260.0L220.3 260.6L221.2 261.7L222.2 262.8L223.2 262.9L224.1 263.8L225.1 264.1L226.0 265.9L227.0 266.9L228.0 267.5L228.9 269.6L229.9 271.1L230.8 272.6L231.8 275.0L232.7 277.6L233.7 281.2L234.7 283.5L235.6 287.2L236.6 291.3L237.5 293.8L238.5 296.9L239.5 299.5L240.4 302.2L241.4 305.9L242.3 309.5L243.3 312.4L244.3 316.0L245.2 319.2L246.2 321.5L247.1 322.4L248.1 323.5L249.1 323.4L250.0 324.2L251.0 323.6L251.9 323.1L252.9 321.9L253.8 321.1L254.8 320.7L255.8 319.9L256.7 318.6L257.7 318.1L258.6 317.4L259.6 316.2L260.6 314.4L261.5 312.6L262.5 311.8L263.4 310.6L264.4 309.3L265.4 308.3L266.3 307.7L267.3 307.7L268.2 307.1L269.2 306.8L270.2 306.2L271.1 306.2L272.1 306.4L273.0 306.5L274.0 307.4L275.0 309.2L275.9 311.6L276.9 313.5L277.8 316.7L278.8 320.9L279.7 327.3L280.7 334.2L281.7 341.7L282.6 351.9L283.6 360.4L284.5 372.2L285.5 381.8L286.5 385.5L287.4 387.1L288.4 390.3L289.3 394.5L290.3 395.1L291.3 396.5L292.2 396.1L293.2 392.9L294.1 395.9L295.1 393.3L296.1 402.4L297.0 388.5" stroke="#92a82e" stroke-width="1.0" fill="none" marker-mid="url(#mc4)"/>
<path d="M48.6 380.2V385.0M49.5 370.0V375.2M50.5 368.6V375.2M51.5 376.2V378.5M52.4 364.6V379.1M53.4 365.5V374.8M54.3 364.2V376.5M55.3 360.7V368.4M56.3 367.2V369.9M57.2 362.0V368.2M58.2 362.4V367.3M59.1 359.4V362.1M60.1 357.1V367.1M61.1 356.6V359.6M62.0 357.1V363.3M63.0 352.6V365.6M63.9 356.2V358.3M64.9 354.2V356.2M65.8 351.2V356.9M66.8 346.1V349.0M67.8 348.9V354.6M68.7 346.7V351.1M69.7 347.1V349.1M70.6 345.0V347.9M71.6 342.5V345.6M72.6 342.6V345.1M73.5 341.8V345.9M74.5 341.7V344.9M280.7 342.8V349.1M281.7 351.0V353.8M282.6 357.6V364.5M283.6 368.6V372.6M284.5 373.5V381.8M285.5 382.9V391.5M286.5 380.8V390.6M287.4 384.0V392.2M288.4 384.0V400.8M289.3 383.4V398.8M290.3 388.3V394.6M291.3 400.5V404.0M292.2 389.8V400.0M293.2 390.6V393.9M294.1 392.6V406.2M295.1 397.5V414.3M296.1 392.7V403.8M297.0 395.8V411.3" stroke="#b4b82e" stroke-width="0.8" fill="none" opacity="0.8"/>
<marker id="mc5" markerUnits="userSpaceOnUse" markerWidth="3" markerHeight="3" refX="1.5" refY="1.5" overflow="visible"><circle cx="1.5" cy="1.5" r="1.05" fill="#b4b82e"/></marker>
<path d="M48.6 382.6L49.5 372.6L50.5 371.9L51.5 377.4L52.4 371.8L53.4 370.2L54.3 370.4L55.3 364.5L56.3 368.5L57.2 365.1L58.2 364.8L59.1 360.8L60.1 362.1L61.1 358.1L62.0 360.2L63.0 359.1L63.9 357.3L64.9 355.2L65.8 354.1L66.8 347.6L67.8 351.7L68.7 348.9L69.7 348.1L70.6 346.5L71.6 344.0L72.6 343.8L73.5 343.8L74.5 343.3L75.4 340.4L76.4 339.1L77.4 339.5L78.3 337.0L79.3 337.3L80.2 335.3L81.2 333.9L82.2 333.4L83.1 332.6L84.1 330.5L85.0 330.5L86.0 328.8L86.9 328.4L87.9 326.7L88.9 325.3L89.8 325.0L90.8 324.2L91.7 323.6L92.7 322.5L93.7 321.1L94.6 319.8L95.6 318.8L96.5 317.9L97.5 316.8L98.5 316.0L99.4 314.3L100.4 314.4L101.3 313.4L102.3 313.4L103.3 312.0L104.2 310.7L105.2 310.3L106.1 308.9L107.1 308.3L108.1 307.2L109.0 307.6L110.0 306.6L110.9 305.3L111.9 305.0L112.8 304.7L113.8 303.8L114.8 303.1L115.7 302.1L116.7 301.5L117.6 301.1L118.6 300.7L119.6 299.5L120.5 298.7L121.5 298.9L122.4 297.5L123.4 297.5L124.4 296.6L125.3 296.2L126.3 295.8L127.2 294.8L128.2 294.2L129.2 293.0L130.1 292.4L131.1 292.3L132.0 291.9L133.0 291.3L133.9 291.0L134.9 289.7L135.9 289.1L136.8 288.9L137.8 288.0L138.7 287.4L139.7 286.6L140.7 286.8L141.6 285.6L142.6 285.7L143.5 284.6L144.5 285.0L145.5 283.8L146.4 284.0L147.4 282.7L148.3 282.6L149.3 282.7L150.3 281.5L151.2 281.3L152.2 280.6L153.1 279.5L154.1 279.9L155.1 279.4L156.0 278.3L157.0 278.3L157.9 277.2L158.9 276.6L159.8 276.4L160.8 275.5L161.8 276.0L162.7 274.0L163.7 274.2L164.6 273.6L165.6 272.0L166.6 271.4L167.5 271.5L168.5 270.5L169.4 270.1L170.4 269.7L171.4 268.4L172.3 267.3L173.3 265.9L174.2 266.0L175.2 264.8L176.2 264.3L177.1 263.4L178.1 262.0L179.0 262.2L180.0 261.2L181.0 260.3L181.9 258.9L182.9 258.4L183.8 257.8L184.8 257.2L185.7 256.5L186.7 256.5L187.7 255.9L188.6 255.4L189.6 254.6L190.5 254.7L191.5 253.8L192.5 252.3L193.4 252.6L194.4 252.4L195.3 252.4L196.3 251.6L197.3 251.4L198.2 251.0L199.2 251.3L200.1 250.9L201.1 250.8L202.1 250.8L203.0 251.4L204.0 251.3L204.9 251.2L205.9 252.3L206.8 252.3L207.8 253.1L208.8 253.6L209.7 254.5L210.7 255.0L211.6 255.0L212.6 255.8L213.6 256.1L214.5 257.8L215.5 258.0L216.4 258.9L217.4 259.0L218.4 259.1L219.3 261.0L220.3 261.2L221.2 262.0L222.2 262.9L223.2 264.0L224.1 264.9L225.1 265.2L226.0 267.2L227.0 267.9L228.0 269.2L228.9 271.4L229.9 272.6L230.8 274.3L231.8 276.3L232.7 280.0L233.7 283.4L234.7 286.6L235.6 289.7L236.6 293.4L237.5 296.5L238.5 300.1L239.5 303.2L240.4 306.2L241.4 308.8L242.3 312.4L243.3 315.7L244.3 318.3L245.2 321.1L246.2 324.1L247.1 325.1L248.1 326.2L249.1 325.8L250.0 326.0L251.0 325.4L251.9 325.9L252.9 326.3L253.8 326.5L254.8 326.1L255.8 325.9L256.7 325.5L257.7 325.2L258.6 325.2L259.6 325.0L260.6 323.8L261.5 323.5L262.5 322.0L263.4 320.8L264.4 320.4L265.4 319.6L266.3 319.5L267.3 320.3L268.2 319.7L269.2 319.8L270.2 320.1L271.1 320.1L272.1 319.5L273.0 320.7L274.0 321.6L275.0 323.2L275.9 325.4L276.9 327.2L277.8 330.2L278.8 334.7L279.7 340.7L280.7 346.0L281.7 352.4L282.6 361.0L283.6 370.6L284.5 377.7L285.5 387.2L286.5 385.7L287.4 388.1L288.4 392.4L289.3 391.1L290.3 391.4L291.3 402.3L292.2 394.9L293.2 392.2L294.1 399.4L295.1 405.9L296.1 398.3L297.0 403.5" stroke="#b4b82e" stroke-width="1.0" fill="none" marker-mid="url(#mc5)"/>
<path d="M48.6 375.9V377.9M49.5 365.3V379.1M50.5 379.5V388.2M51.5 372.7V378.1M52.4 367.9V381.0M53.4 367.8V372.5M54.3 371.6V376.0M55.3 361.3V365.3M56.3 363.8V371.9M57.2 370.4V373.9M58.2 360.4V367.8M59.1 362.7V364.9M60.1 361.7V366.3M61.1 357.4V361.4M62.0 358.5V361.5M63.0 356.2V365.1M63.9 354.9V360.8M64.9 356.0V358.0M65.8 351.7V357.2M66.8 349.7V359.2M67.8 349.0V356.7M68.7 349.3V358.4M69.7 349.4V353.6M70.6 346.6V351.3M71.6 343.5V346.5M72.6 347.2V348.5M73.5 346.0V347.5M74.5 342.2V345.3M75.4 340.7V342.6M76.4 340.4V342.5M77.4 341.4V342.9M276.9 340.4V346.0M277.8 344.1V346.3M278.8 344.7V350.2M279.7 351.7V354.5M280.7 358.9V360.8M281.7 363.6V368.3M282.6 363.5V367.9M283.6 371.6V381.3M284.5 379.4V382.9M285.5 384.5V395.5M286.5 378.7V411.5M287.4 385.8V393.0M288.4 374.7V396.8M289.3 384.7V405.6M290.3 397.5V407.3M291.3 394.0V402.9M292.2 386.2V408.1M293.2 402.4V412.8M294.1 389.6V395.7M295.1 396.9V406.6M296.1 390.8V399.9M297.0 388.8V407.6" stroke="#d6c230" stroke-width="0.8" fill="none" opacity="0.8"/>
<marker id="mc6" markerUnits="userSpaceOnUse" markerWidth="3" markerHeight="3" refX="1.5" refY="1.5" overflow="visible"><circle cx="1.5" cy="1.5" r="1.05" fill="#d6c230"/></marker>
<path d="M48.6 376.9L49.5 372.2L50.5 383.8L51.5 375.4L52.4 374.4L53.4 370.1L54.3 373.8L55.3 363.3L56.3 367.9L57.2 372.1L58.2 364.1L59.1 363.8L60.1 364.0L61.1 359.4L62.0 360.0L63.0 360.7L63.9 357.9L64.9 357.0L65.8 354.5L66.8 354.5L67.8 352.8L68.7 353.8L69.7 351.5L70.6 349.0L71.6 345.0L72.6 347.9L73.5 346.7L74.5 343.8L75.4 341.7L76.4 341.5L77.4 342.1L78.3 339.5L79.3 338.9L80.2 338.2L81.2 337.6L82.2 335.9L83.1 334.8L84.1 333.5L85.0 333.2L86.0 332.0L86.9 330.5L87.9 329.1L88.9 328.2L89.8 327.7L90.8 326.2L91.7 325.7L92.7 324.5L93.7 323.5L94.6 322.6L95.6 321.5L96.5 320.0L97.5 319.2L98.5 319.2L99.4 316.9L100.4 316.3L101.3 315.9L102.3 314.5L103.3 313.4L104.2 312.4L105.2 312.3L106.1 311.7L107.1 311.0L108.1 309.8L109.0 309.5L110.0 308.1L110.9 307.8L111.9 306.9L112.8 306.5L113.8 306.1L114.8 305.5L115.7 304.2L116.7 304.4L117.6 303.1L118.6 302.3L119.6 302.0L120.5 300.9L121.5 300.8L122.4 300.3L123.4 299.5L124.4 299.1L125.3 298.2L126.3 297.7L127.2 296.5L128.2 296.4L129.2 295.5L130.1 295.0L131.1 294.6L132.0 294.1L133.0 292.8L133.9 292.3L134.9 292.2L135.9 291.9L136.8 291.3L137.8 290.9L138.7 290.6L139.7 289.8L140.7 289.1L141.6 288.3L142.6 287.9L143.5 287.6L144.5 287.4L145.5 286.9L146.4 286.4L147.4 285.9L148.3 285.7L149.3 285.1L150.3 284.6L151.2 284.1L152.2 283.3L153.1 282.6L154.1 282.6L155.1 281.9L156.0 281.1L157.0 280.4L157.9 280.8L158.9 279.1L159.8 278.6L160.8 278.1L161.8 276.9L162.7 276.7L163.7 276.6L164.6 275.6L165.6 274.8L166.6 274.1L167.5 273.2L168.5 272.7L169.4 271.6L170.4 270.7L171.4 270.0L172.3 269.4L173.3 268.3L174.2 267.5L175.2 265.6L176.2 265.8L177.1 265.3L178.1 264.0L179.0 262.5L180.0 261.4L181.0 261.0L181.9 259.8L182.9 259.6L183.8 258.5L184.8 258.4L185.7 258.0L186.7 256.2L187.7 256.4L188.6 255.5L189.6 254.7L190.5 254.4L191.5 254.0L192.5 253.9L193.4 252.5L194.4 253.0L195.3 252.9L196.3 252.0L197.3 251.7L198.2 251.3L199.2 250.7L200.1 251.2L201.1 251.1L202.1 251.3L203.0 252.1L204.0 251.7L204.9 251.9L205.9 252.7L206.8 252.1L207.8 252.7L208.8 253.5L209.7 253.9L210.7 255.0L211.6 255.3L212.6 256.7L213.6 257.3L214.5 257.7L215.5 258.0L216.4 259.0L217.4 259.7L218.4 259.8L219.3 261.0L220.3 262.0L221.2 262.6L222.2 264.0L223.2 264.9L224.1 265.2L225.1 266.7L226.0 267.5L227.0 269.3L228.0 270.2L228.9 272.4L229.9 273.8L230.8 276.3L231.8 278.7L232.7 281.5L233.7 286.1L234.7 289.2L235.6 293.5L236.6 296.9L237.5 300.5L238.5 304.0L239.5 306.3L240.4 309.5L241.4 311.3L242.3 314.9L243.3 317.3L244.3 319.9L245.2 322.3L246.2 324.6L247.1 326.8L248.1 326.8L249.1 328.4L250.0 328.9L251.0 330.3L251.9 330.5L252.9 331.4L253.8 331.6L254.8 332.5L255.8 333.0L256.7 332.7L257.7 333.0L258.6 332.5L259.6 333.0L260.6 333.1L261.5 332.4L262.5 332.8L263.4 331.5L264.4 331.5L265.4 331.5L266.3 331.8L267.3 332.1L268.2 332.1L269.2 332.3L270.2 332.8L271.1 332.6L272.1 332.6L273.0 333.5L274.0 336.2L275.0 336.0L275.9 339.4L276.9 343.2L277.8 345.2L278.8 347.4L279.7 353.1L280.7 359.9L281.7 366.0L282.6 365.7L283.6 376.5L284.5 381.1L285.5 390.0L286.5 395.1L287.4 389.4L288.4 385.7L289.3 395.1L290.3 402.4L291.3 398.4L292.2 397.2L293.2 407.6L294.1 392.6L295.1 401.8L296.1 395.4L297.0 398.2" stroke="#d6c230" stroke-width="1.0" fill="none" marker-mid="url(#mc6)"/>
<path d="M48.6 373.1V381.3M49.5 372.8V376.8M50.5 373.1V375.9M51.5 371.8V387.5M52.4 368.7V373.1M53.4 363.6V376.5M54.3 361.0V377.6M55.3 370.1V372.5M56.3 361.8V375.0M57.2 367.8V372.8M58.2 361.5V368.2M59.1 354.6V369.8M60.1 359.8V366.3M61.1 361.3V365.0M62.0 353.0V366.7M63.0 360.1V362.8M63.9 362.7V364.5M64.9 352.3V362.7M65.8 353.7V361.7M66.8 357.6V360.7M67.8 353.2V355.4M68.7 347.6V358.3M69.7 349.2V353.9M70.6 350.6V355.4M71.6 350.2V353.9M72.6 349.3V350.6M73.5 348.0V350.3M74.5 347.6V351.6M75.4 347.2V348.5M76.4 341.2V346.9M77.4 343.5V345.4M78.3 342.1V344.8M79.3 341.6V343.9M257.7 338.5V344.8M258.6 342.5V345.5M259.6 341.3V344.6M260.6 342.4V344.1M261.5 339.9V343.0M262.5 342.1V344.0M263.4 339.2V345.1M264.4 343.2V345.2M265.4 342.4V344.7M266.3 342.7V345.4M267.3 342.5V345.8M268.2 342.2V345.5M269.2 340.2V346.0M270.2 344.4V346.9M271.1 342.3V345.4M272.1 341.7V347.3M273.0 342.9V349.9M274.0 345.6V348.6M275.0 349.4V350.6M275.9 352.2V354.0M276.9 352.1V355.9M277.8 354.9V357.7M278.8 356.5V361.5M279.7 359.3V369.8M280.7 360.1V363.0M281.7 364.7V377.7M282.6 365.8V376.3M283.6 371.3V377.1M284.5 379.6V386.6M285.5 384.3V386.8M286.5 380.1V404.8M287.4 395.4V396.9M288.4 378.9V385.1M289.3 382.3V404.1M290.3 399.3V407.3M291.3 394.6V403.8M292.2 401.5V403.6M293.2 394.9V399.3M294.1 385.7V395.6M295.1 382.7V402.1M296.1 394.2V407.5M297.0 398.7V405.4" stroke="#ecc030" stroke-width="0.8" fill="none" opacity="0.8"/>
<marker id="mc7" markerUnits="userSpaceOnUse" markerWidth="3" markerHeight="3" refX="1.5" refY="1.5" overflow="visible"><circle cx="1.5" cy="1.5" r="1.05" fill="#ecc030"/></marker>
<path d="M48.6 377.2L49.5 374.8L50.5 374.5L51.5 379.7L52.4 370.9L53.4 370.1L54.3 369.3L55.3 371.3L56.3 368.4L57.2 370.3L58.2 364.8L59.1 362.2L60.1 363.0L61.1 363.2L62.0 359.8L63.0 361.4L63.9 363.6L64.9 357.5L65.8 357.7L66.8 359.1L67.8 354.3L68.7 353.0L69.7 351.6L70.6 353.0L71.6 352.0L72.6 350.0L73.5 349.1L74.5 349.6L75.4 347.8L76.4 344.1L77.4 344.5L78.3 343.4L79.3 342.8L80.2 340.8L81.2 339.4L82.2 338.4L83.1 336.6L84.1 336.4L85.0 335.0L86.0 334.3L86.9 332.7L87.9 331.8L88.9 330.6L89.8 329.5L90.8 329.1L91.7 327.7L92.7 327.0L93.7 325.4L94.6 324.8L95.6 323.2L96.5 322.7L97.5 321.7L98.5 321.1L99.4 320.1L100.4 319.0L101.3 318.5L102.3 317.4L103.3 316.7L104.2 315.9L105.2 314.8L106.1 314.0L107.1 313.5L108.1 312.5L109.0 312.1L110.0 311.6L110.9 310.9L111.9 309.8L112.8 308.8L113.8 308.6L114.8 307.9L115.7 307.7L116.7 306.6L117.6 306.0L118.6 305.7L119.6 304.7L120.5 304.2L121.5 304.2L122.4 303.5L123.4 302.6L124.4 301.8L125.3 300.7L126.3 300.6L127.2 299.8L128.2 299.3L129.2 298.4L130.1 298.0L131.1 297.3L132.0 296.9L133.0 296.7L133.9 295.7L134.9 294.5L135.9 294.2L136.8 293.4L137.8 293.1L138.7 293.1L139.7 292.6L140.7 291.7L141.6 291.6L142.6 290.8L143.5 290.1L144.5 289.6L145.5 289.4L146.4 289.7L147.4 288.3L148.3 288.7L149.3 288.3L150.3 287.3L151.2 286.8L152.2 286.1L153.1 285.7L154.1 285.4L155.1 284.6L156.0 284.3L157.0 283.7L157.9 282.8L158.9 282.1L159.8 281.3L160.8 280.8L161.8 279.6L162.7 279.4L163.7 278.6L164.6 277.5L165.6 277.8L166.6 276.0L167.5 275.3L168.5 274.9L169.4 273.3L170.4 272.9L171.4 271.7L172.3 271.0L173.3 270.3L174.2 269.4L175.2 268.7L176.2 267.5L177.1 266.6L178.1 265.4L179.0 264.0L180.0 263.6L181.0 262.1L181.9 261.2L182.9 261.2L183.8 260.2L184.8 259.3L185.7 258.9L186.7 258.3L187.7 256.9L188.6 256.8L189.6 255.8L190.5 255.6L191.5 254.8L192.5 254.9L193.4 254.1L194.4 253.2L195.3 253.0L196.3 252.2L197.3 252.4L198.2 252.3L199.2 252.0L200.1 251.1L201.1 251.7L202.1 252.0L203.0 252.1L204.0 252.6L204.9 252.1L205.9 253.1L206.8 253.1L207.8 253.9L208.8 254.5L209.7 255.1L210.7 255.3L211.6 256.2L212.6 256.4L213.6 257.0L214.5 258.3L215.5 258.8L216.4 259.0L217.4 260.0L218.4 261.0L219.3 262.4L220.3 263.1L221.2 264.0L222.2 264.2L223.2 265.9L224.1 267.3L225.1 268.6L226.0 270.0L227.0 271.3L228.0 273.6L228.9 275.2L229.9 276.5L230.8 278.7L231.8 282.9L232.7 285.6L233.7 290.1L234.7 294.4L235.6 297.5L236.6 301.8L237.5 305.3L238.5 308.8L239.5 311.4L240.4 314.5L241.4 316.4L242.3 318.5L243.3 321.1L244.3 322.7L245.2 324.7L246.2 327.5L247.1 328.1L248.1 329.8L249.1 331.5L250.0 332.5L251.0 333.6L251.9 336.1L252.9 336.5L253.8 337.8L254.8 338.9L255.8 339.4L256.7 340.1L257.7 341.7L258.6 344.0L259.6 343.0L260.6 343.3L261.5 341.5L262.5 343.0L263.4 342.2L264.4 344.2L265.4 343.5L266.3 344.0L267.3 344.2L268.2 343.9L269.2 343.1L270.2 345.6L271.1 343.9L272.1 344.5L273.0 346.4L274.0 347.1L275.0 350.0L275.9 353.1L276.9 354.0L277.8 356.3L278.8 359.0L279.7 364.5L280.7 361.5L281.7 371.2L282.6 371.1L283.6 374.2L284.5 383.1L285.5 385.5L286.5 392.4L287.4 396.1L288.4 382.0L289.3 393.2L290.3 403.3L291.3 399.2L292.2 402.5L293.2 397.1L294.1 390.6L295.1 392.4L296.1 400.9L297.0 402.0" stroke="#ecc030" stroke-width="1.0" fill="none" marker-mid="url(#mc7)"/>
<path d="M48.6 382.4V387.0M49.5 375.6V379.3M50.5 378.2V386.9M51.5 379.9V382.2M52.4 372.9V379.7M53.4 378.1V385.8M54.3 367.1V381.9M55.3 370.4V377.0M56.3 363.8V373.4M57.2 364.7V366.1M58.2 363.5V371.1M59.1 363.9V370.1M60.1 361.2V370.1M61.1 360.0V375.7M62.0 357.6V360.2M63.0 359.9V362.5M63.9 357.9V359.5M64.9 354.9V375.6M65.8 355.6V364.4M66.8 358.6V359.9M67.8 355.0V359.4M68.7 358.4V362.5M69.7 353.6V360.2M70.6 353.7V360.8M71.6 350.5V353.6M72.6 353.3V360.6M73.5 350.3V358.7M74.5 352.1V355.1M75.4 351.1V355.9M76.4 346.9V353.3M77.4 348.1V349.8M78.3 347.7V350.0M79.3 346.4V347.9M80.2 343.8V346.4M81.2 342.3V346.1M82.2 340.9V343.8M83.1 340.4V344.0M251.9 341.0V343.4M252.9 344.2V347.4M253.8 344.5V346.2M254.8 346.7V350.8M255.8 352.9V355.6M256.7 348.8V361.5M257.7 351.7V353.9M258.6 356.3V360.0M259.6 355.6V362.1M260.6 356.7V361.5M261.5 358.6V359.9M262.5 358.6V361.0M263.4 356.5V359.9M264.4 356.8V362.4M265.4 360.4V365.7M266.3 360.9V363.8M267.3 365.1V368.7M268.2 359.2V365.2M269.2 354.9V360.5M270.2 353.5V372.7M271.1 361.9V368.3M272.1 363.1V369.0M273.0 364.9V367.5M274.0 363.7V366.1M275.0 368.9V376.1M275.9 365.2V370.6M276.9 372.3V374.4M277.8 371.3V372.7M278.8 363.6V378.3M279.7 378.5V384.6M280.7 368.3V372.0M281.7 370.5V385.4M282.6 382.7V387.0M283.6 373.7V394.4M284.5 388.5V393.4M285.5 386.9V392.1M286.5 388.3V390.7M287.4 395.9V408.4M288.4 389.2V395.5M289.3 391.5V395.5M290.3 384.7V395.5M291.3 389.4V395.3M292.2 398.1V400.4M293.2 397.2V401.6M294.1 395.4V399.3M295.1 392.0V396.9M296.1 397.8V404.0M297.0 389.5V391.0" stroke="#f4b228" stroke-width="0.8" fill="none" opacity="0.8"/>
<marker id="mc8" markerUnits="userSpaceOnUse" markerWidth="3" markerHeight="3" refX="1.5" refY="1.5" overflow="visible"><circle cx="1.5" cy="1.5" r="1.05" fill="#f4b228"/></marker>
<path d="M48.6 384.7L49.5 377.4L50.5 382.5L51.5 381.1L52.4 376.3L53.4 382.0L54.3 374.5L55.3 373.7L56.3 368.6L57.2 365.4L58.2 367.3L59.1 367.0L60.1 365.6L61.1 367.8L62.0 358.9L63.0 361.2L63.9 358.7L64.9 365.2L65.8 360.0L66.8 359.3L67.8 357.2L68.7 360.5L69.7 356.9L70.6 357.2L71.6 352.1L72.6 356.9L73.5 354.5L74.5 353.6L75.4 353.5L76.4 350.1L77.4 348.9L78.3 348.9L79.3 347.2L80.2 345.1L81.2 344.2L82.2 342.4L83.1 342.2L84.1 341.0L85.0 339.1L86.0 339.0L86.9 336.0L87.9 335.5L88.9 335.1L89.8 333.3L90.8 331.9L91.7 331.9L92.7 330.7L93.7 329.1L94.6 328.8L95.6 327.2L96.5 326.2L97.5 325.7L98.5 324.7L99.4 323.6L100.4 323.0L101.3 321.9L102.3 321.5L103.3 320.6L104.2 320.1L105.2 318.9L106.1 317.8L107.1 317.1L108.1 316.8L109.0 316.7L110.0 315.8L110.9 314.6L111.9 314.5L112.8 313.1L113.8 313.2L114.8 312.1L115.7 311.8L116.7 311.1L117.6 310.2L118.6 309.8L119.6 308.7L120.5 308.4L121.5 308.2L122.4 308.6L123.4 306.8L124.4 305.9L125.3 304.9L126.3 305.0L127.2 303.4L128.2 303.1L129.2 302.9L130.1 301.8L131.1 302.1L132.0 301.4L133.0 300.2L133.9 299.6L134.9 298.8L135.9 298.2L136.8 298.3L137.8 297.8L138.7 297.2L139.7 296.7L140.7 296.0L141.6 295.8L142.6 294.7L143.5 294.8L144.5 294.9L145.5 294.4L146.4 293.3L147.4 292.9L148.3 293.0L149.3 292.7L150.3 291.0L151.2 290.9L152.2 290.6L153.1 290.4L154.1 289.0L155.1 289.0L156.0 288.0L157.0 288.3L157.9 286.9L158.9 286.1L159.8 285.3L160.8 285.1L161.8 284.2L162.7 282.8L163.7 282.5L164.6 281.2L165.6 280.6L166.6 279.6L167.5 278.8L168.5 278.2L169.4 277.2L170.4 276.8L171.4 275.9L172.3 274.5L173.3 273.1L174.2 272.6L175.2 270.5L176.2 269.4L177.1 269.1L178.1 268.0L179.0 266.9L180.0 265.4L181.0 264.0L181.9 263.3L182.9 262.8L183.8 261.5L184.8 260.8L185.7 259.9L186.7 259.3L187.7 259.4L188.6 258.5L189.6 257.3L190.5 256.7L191.5 256.3L192.5 256.1L193.4 254.9L194.4 254.7L195.3 253.6L196.3 253.5L197.3 253.7L198.2 253.6L199.2 252.7L200.1 252.7L201.1 253.3L202.1 252.9L203.0 253.0L204.0 253.6L204.9 253.8L205.9 254.4L206.8 254.7L207.8 254.7L208.8 255.4L209.7 256.0L210.7 256.1L211.6 256.9L212.6 258.2L213.6 258.0L214.5 259.6L215.5 260.1L216.4 260.7L217.4 261.7L218.4 262.5L219.3 263.8L220.3 264.3L221.2 265.5L222.2 266.8L223.2 268.9L224.1 270.0L225.1 271.0L226.0 272.9L227.0 274.6L228.0 276.7L228.9 278.8L229.9 281.7L230.8 283.2L231.8 287.8L232.7 291.7L233.7 295.8L234.7 300.6L235.6 305.0L236.6 309.4L237.5 313.6L238.5 316.0L239.5 319.4L240.4 321.0L241.4 323.5L242.3 324.8L243.3 326.7L244.3 328.0L245.2 329.7L246.2 330.8L247.1 332.1L248.1 334.3L249.1 336.2L250.0 339.1L251.0 338.6L251.9 342.2L252.9 345.8L253.8 345.4L254.8 348.7L255.8 354.2L256.7 355.1L257.7 352.8L258.6 358.1L259.6 358.9L260.6 359.1L261.5 359.2L262.5 359.8L263.4 358.2L264.4 359.6L265.4 363.1L266.3 362.4L267.3 366.9L268.2 362.2L269.2 357.7L270.2 363.1L271.1 365.1L272.1 366.1L273.0 366.2L274.0 364.9L275.0 372.5L275.9 367.9L276.9 373.4L277.8 372.0L278.8 370.9L279.7 381.6L280.7 370.2L281.7 378.0L282.6 384.8L283.6 384.1L284.5 390.9L285.5 389.5L286.5 389.5L287.4 402.1L288.4 392.4L289.3 393.5L290.3 390.1L291.3 392.3L292.2 399.3L293.2 399.4L294.1 397.3L295.1 394.5L296.1 400.9L297.0 390.2" stroke="#f4b228" stroke-width="1.0" fill="none" marker-mid="url(#mc8)"/>
<path d="M48.6 375.0V389.3M49.5 370.8V388.3M50.5 380.5V395.1M51.5 378.2V382.8M52.4 377.3V382.4M53.4 377.1V378.9M54.3 372.6V381.8M55.3 373.8V377.9M56.3 369.9V379.5M57.2 369.0V372.7M58.2 367.0V383.1M59.1 368.0V370.3M60.1 368.6V377.8M61.1 362.3V365.5M62.0 362.3V368.6M63.0 368.0V372.4M63.9 363.4V369.2M64.9 363.1V365.2M65.8 362.9V369.1M66.8 360.4V362.9M67.8 362.8V364.4M68.7 353.3V361.5M69.7 355.7V365.7M70.6 357.7V361.1M71.6 358.5V363.6M72.6 358.3V363.1M73.5 355.1V357.2M74.5 356.1V363.7M75.4 353.2V355.9M76.4 350.2V351.6M77.4 347.2V351.4M78.3 352.2V356.7M79.3 349.5V351.7M80.2 347.8V349.2M81.2 346.3V347.9M82.2 342.4V348.5M83.1 346.1V347.7M84.1 341.3V346.6M85.0 342.4V346.3M86.0 340.6V341.9M241.4 340.5V343.6M242.3 344.4V345.9M243.3 343.5V347.1M244.3 347.4V349.4M245.2 346.2V350.4M246.2 353.0V356.1M247.1 353.0V354.3M248.1 355.9V359.4M249.1 351.4V356.3M250.0 350.6V366.3M251.0 355.3V358.0M251.9 356.0V366.4M252.9 361.8V363.9M253.8 355.9V362.0M254.8 360.3V362.1M255.8 357.5V366.9M256.7 356.5V368.4M257.7 364.3V366.8M258.6 365.1V366.8M259.6 358.6V372.7M260.6 368.2V374.0M261.5 372.8V374.2M262.5 366.4V371.3M263.4 368.8V375.4M264.4 361.8V387.6M265.4 372.6V376.9M266.3 366.2V381.6M267.3 375.1V383.8M268.2 378.0V382.2M269.2 377.8V382.2M270.2 376.5V378.3M271.1 380.6V390.5M272.1 382.4V388.2M273.0 375.7V381.1M274.0 373.6V386.6M275.0 381.4V389.7M275.9 376.7V381.3M276.9 379.8V388.7M277.8 380.8V386.5M278.8 379.4V383.7M279.7 383.4V384.8M280.7 378.0V381.2M281.7 374.0V395.0M282.6 375.8V383.1M283.6 395.3V401.2M284.5 391.9V400.5M285.5 390.6V401.7M286.5 391.5V394.7M287.4 395.5V398.4M288.4 395.8V402.1M289.3 394.8V402.2M290.3 392.6V404.9M291.3 384.4V397.9M292.2 396.2V399.4M293.2 392.4V395.6M294.1 378.3V404.9M295.1 385.7V398.8M296.1 397.9V401.4M297.0 397.4V408.2" stroke="#f5a324" stroke-width="0.8" fill="none" opacity="0.8"/>
<marker id="mc9" markerUnits="userSpaceOnUse" markerWidth="3" markerHeight="3" refX="1.5" refY="1.5" overflow="visible"><circle cx="1.5" cy="1.5" r="1.05" fill="#f5a324"/></marker>
<path d="M48.6 382.2L49.5 379.5L50.5 387.8L51.5 380.5L52.4 379.8L53.4 378.0L54.3 377.2L55.3 375.8L56.3 374.7L57.2 370.8L58.2 375.0L59.1 369.2L60.1 373.2L61.1 363.9L62.0 365.5L63.0 370.2L63.9 366.3L64.9 364.1L65.8 366.0L66.8 361.7L67.8 363.6L68.7 357.4L69.7 360.7L70.6 359.4L71.6 361.1L72.6 360.7L73.5 356.2L74.5 359.9L75.4 354.6L76.4 350.9L77.4 349.3L78.3 354.4L79.3 350.6L80.2 348.5L81.2 347.1L82.2 345.4L83.1 346.9L84.1 344.0L85.0 344.4L86.0 341.3L86.9 338.4L87.9 339.4L88.9 337.4L89.8 336.3L90.8 335.8L91.7 333.8L92.7 333.1L93.7 331.4L94.6 329.9L95.6 329.1L96.5 327.4L97.5 326.8L98.5 325.5L99.4 324.1L100.4 323.1L101.3 322.0L102.3 320.7L103.3 320.1L104.2 318.8L105.2 318.3L106.1 317.0L107.1 316.6L108.1 316.0L109.0 314.8L110.0 314.3L110.9 313.6L111.9 313.4L112.8 312.3L113.8 312.1L114.8 311.9L115.7 311.0L116.7 309.7L117.6 309.8L118.6 309.6L119.6 308.7L120.5 308.7L121.5 308.1L122.4 307.6L123.4 306.9L124.4 306.4L125.3 306.1L126.3 305.9L127.2 305.7L128.2 305.3L129.2 304.7L130.1 304.5L131.1 304.3L132.0 303.2L133.0 303.2L133.9 302.9L134.9 302.7L135.9 302.4L136.8 302.0L137.8 301.5L138.7 301.7L139.7 301.2L140.7 300.2L141.6 300.5L142.6 299.7L143.5 300.4L144.5 299.3L145.5 299.0L146.4 298.9L147.4 298.4L148.3 298.1L149.3 298.3L150.3 297.4L151.2 297.2L152.2 296.8L153.1 295.6L154.1 296.0L155.1 295.0L156.0 294.5L157.0 293.1L157.9 292.9L158.9 291.9L159.8 290.7L160.8 290.8L161.8 289.3L162.7 288.1L163.7 287.3L164.6 286.6L165.6 285.7L166.6 284.5L167.5 283.8L168.5 283.0L169.4 281.1L170.4 280.4L171.4 279.2L172.3 278.4L173.3 277.7L174.2 276.2L175.2 274.4L176.2 273.4L177.1 272.7L178.1 271.1L179.0 270.1L180.0 269.3L181.0 267.6L181.9 267.8L182.9 267.0L183.8 266.6L184.8 265.7L185.7 265.6L186.7 265.4L187.7 265.5L188.6 265.3L189.6 265.1L190.5 265.5L191.5 265.2L192.5 264.4L193.4 264.3L194.4 265.0L195.3 264.2L196.3 264.7L197.3 264.7L198.2 263.9L199.2 263.9L200.1 264.0L201.1 263.7L202.1 263.8L203.0 264.4L204.0 265.3L204.9 265.5L205.9 266.4L206.8 267.2L207.8 267.9L208.8 270.0L209.7 269.9L210.7 271.8L211.6 273.6L212.6 274.3L213.6 276.4L214.5 278.1L215.5 278.8L216.4 280.6L217.4 281.6L218.4 283.9L219.3 285.6L220.3 287.6L221.2 290.2L222.2 292.1L223.2 294.8L224.1 297.0L225.1 298.9L226.0 302.0L227.0 304.6L228.0 306.5L228.9 310.0L229.9 312.0L230.8 314.8L231.8 317.1L232.7 320.4L233.7 323.4L234.7 326.1L235.6 329.1L236.6 331.1L237.5 334.9L238.5 336.2L239.5 337.5L240.4 340.2L241.4 342.0L242.3 345.2L243.3 345.3L244.3 348.4L245.2 348.3L246.2 354.6L247.1 353.6L248.1 357.6L249.1 353.9L250.0 358.5L251.0 356.6L251.9 361.2L252.9 362.8L253.8 358.9L254.8 361.2L255.8 362.2L256.7 362.4L257.7 365.5L258.6 366.0L259.6 365.6L260.6 371.1L261.5 373.5L262.5 368.9L263.4 372.1L264.4 374.7L265.4 374.7L266.3 373.9L267.3 379.5L268.2 380.1L269.2 380.0L270.2 377.4L271.1 385.5L272.1 385.3L273.0 378.4L274.0 380.1L275.0 385.6L275.9 379.0L276.9 384.2L277.8 383.7L278.8 381.5L279.7 384.1L280.7 379.6L281.7 384.5L282.6 379.4L283.6 398.2L284.5 396.2L285.5 396.1L286.5 393.1L287.4 397.0L288.4 399.0L289.3 398.5L290.3 398.7L291.3 391.2L292.2 397.8L293.2 394.0L294.1 391.6L295.1 392.2L296.1 399.6L297.0 402.8" stroke="#f5a324" stroke-width="1.0" fill="none" marker-mid="url(#mc9)"/>
<path d="M48.6 379.2V398.0M49.5 384.7V393.5M50.5 378.2V393.0M51.5 377.6V395.0M52.4 385.0V388.4M53.4 378.7V380.8M54.3 373.9V385.8M55.3 375.6V379.7M56.3 371.5V378.9M57.2 368.9V381.6M58.2 367.9V373.3M59.1 373.0V377.8M60.1 375.0V379.4M61.1 371.5V380.6M62.0 371.3V376.2M63.0 360.9V372.1M63.9 367.0V377.9M64.9 364.4V366.5M65.8 362.1V370.6M66.8 365.6V375.0M67.8 358.0V366.1M68.7 363.4V368.4M69.7 356.8V370.4M70.6 358.3V365.0M71.6 357.6V360.5M72.6 357.2V364.5M73.5 351.7V364.2M74.5 356.9V362.8M75.4 358.2V359.7M76.4 352.3V353.5M77.4 350.5V356.1M78.3 351.1V353.6M79.3 347.1V352.4M80.2 346.4V351.0M81.2 347.8V350.4M82.2 344.9V349.9M83.1 341.6V347.2M84.1 342.1V346.7M85.0 342.7V345.7M86.0 340.4V342.3M235.6 342.4V343.6M236.6 342.4V345.6M237.5 346.4V350.0M238.5 349.0V351.2M239.5 351.3V353.9M240.4 354.8V356.1M241.4 350.4V355.1M242.3 355.9V360.3M243.3 358.3V361.9M244.3 353.7V365.3M245.2 355.3V367.9M246.2 352.3V358.8M247.1 361.2V364.0M248.1 368.2V371.5M249.1 359.7V364.1M250.0 362.5V370.2M251.0 368.0V371.4M251.9 370.3V373.0M252.9 373.1V378.7M253.8 360.9V372.7M254.8 371.4V374.9M255.8 373.9V379.4M256.7 368.1V373.1M257.7 374.8V376.2M258.6 373.8V391.4M259.6 380.1V382.9M260.6 378.5V380.7M261.5 363.6V375.0M262.5 370.6V386.3M263.4 378.5V383.2M264.4 374.9V383.0M265.4 377.6V383.1M266.3 389.9V394.8M267.3 377.5V384.2M268.2 376.5V380.7M269.2 376.2V391.0M270.2 381.0V383.0M271.1 380.4V384.6M272.1 380.1V387.4M273.0 384.8V390.2M274.0 383.3V388.2M275.0 375.8V385.1M275.9 378.8V391.1M276.9 383.5V392.0M277.8 378.7V389.9M278.8 388.4V394.0M279.7 385.7V394.5M280.7 378.4V388.2M281.7 386.5V391.7M282.6 395.7V397.6M283.6 394.4V397.0M284.5 376.8V402.7M285.5 394.1V395.5M286.5 386.9V390.6M287.4 383.4V388.5M288.4 394.8V396.4M289.3 392.9V396.8M290.3 390.0V403.4M291.3 383.6V406.1M292.2 394.8V399.2M293.2 384.5V403.1M294.1 396.8V400.8M295.1 399.5V402.2M296.1 390.5V404.1M297.0 392.0V411.3" stroke="#f59424" stroke-width="0.8" fill="none" opacity="0.8"/>
<marker id="mc10" markerUnits="userSpaceOnUse" markerWidth="3" markerHeight="3" refX="1.5" refY="1.5" overflow="visible"><circle cx="1.5" cy="1.5" r="1.05" fill="#f59424"/></marker>
<path d="M48.6 388.6L49.5 389.1L50.5 385.6L51.5 386.3L52.4 386.7L53.4 379.7L54.3 379.9L55.3 377.6L56.3 375.2L57.2 375.3L58.2 370.6L59.1 375.4L60.1 377.2L61.1 376.1L62.0 373.8L63.0 366.5L63.9 372.4L64.9 365.5L65.8 366.4L66.8 370.3L67.8 362.1L68.7 365.9L69.7 363.6L70.6 361.6L71.6 359.0L72.6 360.9L73.5 357.9L74.5 359.8L75.4 358.9L76.4 352.9L77.4 353.3L78.3 352.4L79.3 349.8L80.2 348.7L81.2 349.1L82.2 347.4L83.1 344.4L84.1 344.4L85.0 344.2L86.0 341.3L86.9 340.4L87.9 341.0L88.9 339.4L89.8 336.5L90.8 335.6L91.7 335.1L92.7 333.2L93.7 332.3L94.6 331.0L95.6 330.1L96.5 327.7L97.5 326.6L98.5 325.8L99.4 325.4L100.4 323.9L101.3 322.2L102.3 322.0L103.3 321.1L104.2 319.8L105.2 319.0L106.1 318.5L107.1 318.0L108.1 316.9L109.0 316.3L110.0 315.4L110.9 314.7L111.9 313.8L112.8 313.6L113.8 312.8L114.8 312.3L115.7 312.2L116.7 311.5L117.6 311.1L118.6 309.7L119.6 310.0L120.5 309.1L121.5 308.6L122.4 308.1L123.4 308.4L124.4 307.9L125.3 307.0L126.3 306.5L127.2 306.6L128.2 306.0L129.2 306.5L130.1 305.0L131.1 304.6L132.0 304.8L133.0 304.6L133.9 304.3L134.9 304.1L135.9 304.2L136.8 303.0L137.8 302.5L138.7 301.7L139.7 302.0L140.7 301.8L141.6 301.0L142.6 301.1L143.5 300.3L144.5 300.4L145.5 299.6L146.4 298.7L147.4 298.4L148.3 297.6L149.3 297.1L150.3 297.4L151.2 297.2L152.2 297.1L153.1 295.9L154.1 295.4L155.1 294.7L156.0 294.9L157.0 294.2L157.9 293.4L158.9 293.3L159.8 292.8L160.8 291.5L161.8 291.9L162.7 291.2L163.7 290.5L164.6 290.0L165.6 290.3L166.6 289.7L167.5 289.3L168.5 287.8L169.4 287.5L170.4 287.6L171.4 286.3L172.3 286.0L173.3 285.0L174.2 285.8L175.2 284.9L176.2 284.2L177.1 283.5L178.1 282.8L179.0 282.4L180.0 282.3L181.0 281.5L181.9 281.9L182.9 281.0L183.8 280.8L184.8 281.5L185.7 281.0L186.7 281.2L187.7 280.9L188.6 280.3L189.6 281.3L190.5 280.7L191.5 281.7L192.5 280.8L193.4 280.8L194.4 281.7L195.3 281.8L196.3 281.8L197.3 281.5L198.2 282.4L199.2 281.7L200.1 282.2L201.1 282.3L202.1 282.7L203.0 283.5L204.0 283.6L204.9 284.7L205.9 285.5L206.8 285.5L207.8 286.7L208.8 288.0L209.7 289.1L210.7 290.6L211.6 291.1L212.6 293.3L213.6 294.7L214.5 295.7L215.5 296.7L216.4 298.5L217.4 299.8L218.4 301.9L219.3 303.6L220.3 306.0L221.2 307.8L222.2 310.8L223.2 312.0L224.1 315.0L225.1 318.0L226.0 319.9L227.0 323.2L228.0 324.9L228.9 327.7L229.9 329.5L230.8 331.9L231.8 334.3L232.7 336.4L233.7 338.4L234.7 342.5L235.6 343.0L236.6 344.0L237.5 348.2L238.5 350.1L239.5 352.6L240.4 355.5L241.4 352.7L242.3 358.1L243.3 360.1L244.3 359.5L245.2 361.6L246.2 355.6L247.1 362.6L248.1 369.8L249.1 361.9L250.0 366.3L251.0 369.7L251.9 371.7L252.9 375.9L253.8 366.8L254.8 373.2L255.8 376.7L256.7 370.6L257.7 375.5L258.6 382.6L259.6 381.5L260.6 379.6L261.5 369.3L262.5 378.5L263.4 380.8L264.4 378.9L265.4 380.3L266.3 392.4L267.3 380.9L268.2 378.6L269.2 383.6L270.2 382.0L271.1 382.5L272.1 383.8L273.0 387.5L274.0 385.8L275.0 380.4L275.9 385.0L276.9 387.7L277.8 384.3L278.8 391.2L279.7 390.1L280.7 383.3L281.7 389.1L282.6 396.6L283.6 395.7L284.5 389.8L285.5 394.8L286.5 388.8L287.4 386.0L288.4 395.6L289.3 394.8L290.3 396.7L291.3 394.9L292.2 397.0L293.2 393.8L294.1 398.8L295.1 400.9L296.1 397.3L297.0 401.7" stroke="#f59424" stroke-width="1.0" fill="none" marker-mid="url(#mc10)"/>
<path d="M48.6 388.2V392.9M49.5 376.8V393.9M50.5 378.7V384.4M51.5 380.8V382.8M52.4 381.0V386.5M53.4 367.4V381.7M54.3 378.2V384.3M55.3 378.6V380.8M56.3 379.3V382.2M57.2 375.1V377.3M58.2 372.8V380.3M59.1 370.3V375.2M60.1 370.8V374.4M61.1 364.4V370.7M62.0 370.9V373.8M63.0 374.9V376.2M63.9 368.1V372.8M64.9 363.8V376.3M65.8 360.6V370.2M66.8 366.3V375.4M67.8 360.8V367.5M68.7 366.4V367.9M69.7 360.4V368.4M70.6 360.0V361.7M71.6 361.4V367.5M72.6 357.5V364.6M73.5 359.1V361.5M74.5 358.6V360.7M75.4 356.6V358.4M76.4 352.6V358.6M77.4 353.4V358.4M78.3 351.9V354.3M79.3 349.1V356.1M80.2 349.0V351.4M81.2 346.9V348.7M82.2 344.2V351.2M83.1 345.4V347.9M84.1 345.3V346.6M85.0 343.7V348.1M86.0 341.1V342.4M86.9 341.6V342.8M230.8 341.9V343.5M231.8 341.6V346.2M232.7 344.9V348.7M233.7 346.5V349.1M234.7 348.2V350.2M235.6 347.6V352.6M236.6 351.4V353.6M237.5 352.1V359.1M238.5 349.6V353.3M239.5 353.6V359.4M240.4 355.7V359.2M241.4 354.6V363.7M242.3 350.5V363.3M243.3 362.9V366.3M244.3 359.8V364.7M245.2 363.9V366.5M246.2 363.6V368.0M247.1 361.9V365.7M248.1 367.1V369.4M249.1 362.8V367.7M250.0 366.7V370.8M251.0 368.4V374.6M251.9 368.9V377.7M252.9 370.1V378.5M253.8 371.0V378.0M254.8 369.4V395.9M255.8 373.5V382.2M256.7 371.4V374.6M257.7 374.0V377.4M258.6 369.1V383.3M259.6 371.7V385.3M260.6 375.5V379.8M261.5 374.3V380.3M262.5 385.4V388.5M263.4 379.9V383.6M264.4 377.2V384.6M265.4 378.6V384.9M266.3 380.0V384.8M267.3 382.3V396.0M268.2 383.0V389.5M269.2 388.5V390.2M270.2 367.7V378.6M271.1 380.3V394.1M272.1 384.9V396.0M273.0 385.0V403.7M274.0 381.5V391.9M275.0 374.9V384.6M275.9 387.7V390.8M276.9 377.9V391.3M277.8 378.8V381.2M278.8 378.9V391.3M279.7 390.9V393.9M280.7 382.6V404.4M281.7 384.2V399.8M282.6 381.3V388.8M283.6 399.8V401.8M284.5 384.7V386.5M285.5 388.7V393.3M286.5 383.6V387.5M287.4 391.9V404.9M288.4 390.9V399.3M289.3 392.1V403.3M290.3 385.3V404.1M291.3 387.3V401.8M292.2 391.6V400.7M293.2 385.5V389.4M294.1 393.6V408.4M295.1 398.3V404.1M296.1 389.2V402.5M297.0 397.3V399.0" stroke="#f58224" stroke-width="0.8" fill="none" opacity="0.8"/>
<marker id="mc11" markerUnits="userSpaceOnUse" markerWidth="3" markerHeight="3" refX="1.5" refY="1.5" overflow="visible"><circle cx="1.5" cy="1.5" r="1.05" fill="#f58224"/></marker>
<path d="M48.6 390.5L49.5 385.3L50.5 381.5L51.5 381.8L52.4 383.7L53.4 374.5L54.3 381.3L55.3 379.7L56.3 380.8L57.2 376.2L58.2 376.5L59.1 372.7L60.1 372.6L61.1 367.5L62.0 372.3L63.0 375.5L63.9 370.5L64.9 370.1L65.8 365.4L66.8 370.9L67.8 364.1L68.7 367.2L69.7 364.4L70.6 360.9L71.6 364.4L72.6 361.0L73.5 360.3L74.5 359.7L75.4 357.5L76.4 355.6L77.4 355.9L78.3 353.1L79.3 352.6L80.2 350.2L81.2 347.8L82.2 347.7L83.1 346.7L84.1 346.0L85.0 345.9L86.0 341.8L86.9 342.2L87.9 339.1L88.9 338.9L89.8 338.1L90.8 336.0L91.7 335.1L92.7 334.7L93.7 333.4L94.6 332.1L95.6 330.6L96.5 330.4L97.5 328.3L98.5 326.9L99.4 326.6L100.4 325.1L101.3 323.7L102.3 323.2L103.3 321.9L104.2 321.1L105.2 320.2L106.1 318.9L107.1 318.9L108.1 317.9L109.0 316.7L110.0 316.1L110.9 316.1L111.9 314.9L112.8 314.5L113.8 314.1L114.8 313.3L115.7 312.2L116.7 312.4L117.6 312.0L118.6 311.5L119.6 311.3L120.5 310.4L121.5 310.2L122.4 310.0L123.4 309.0L124.4 309.4L125.3 309.0L126.3 308.3L127.2 308.4L128.2 307.7L129.2 306.8L130.1 307.2L131.1 306.7L132.0 306.4L133.0 306.1L133.9 306.3L134.9 305.7L135.9 305.1L136.8 305.2L137.8 305.1L138.7 304.4L139.7 304.3L140.7 304.1L141.6 303.8L142.6 303.9L143.5 304.0L144.5 304.1L145.5 303.7L146.4 303.4L147.4 303.3L148.3 303.2L149.3 302.5L150.3 302.7L151.2 302.4L152.2 302.1L153.1 301.8L154.1 301.7L155.1 301.6L156.0 301.1L157.0 301.6L157.9 301.3L158.9 301.2L159.8 301.2L160.8 301.2L161.8 300.6L162.7 300.7L163.7 300.0L164.6 299.7L165.6 299.7L166.6 300.8L167.5 299.5L168.5 300.2L169.4 300.5L170.4 299.7L171.4 300.3L172.3 300.3L173.3 299.8L174.2 300.2L175.2 299.5L176.2 298.9L177.1 299.2L178.1 298.8L179.0 298.4L180.0 298.3L181.0 299.5L181.9 298.4L182.9 298.5L183.8 298.3L184.8 298.6L185.7 298.4L186.7 298.5L187.7 298.3L188.6 298.4L189.6 298.9L190.5 299.5L191.5 300.5L192.5 300.4L193.4 301.1L194.4 301.0L195.3 301.3L196.3 301.3L197.3 302.2L198.2 301.9L199.2 303.1L200.1 304.2L201.1 304.3L202.1 305.1L203.0 305.2L204.0 305.6L204.9 306.7L205.9 307.5L206.8 309.0L207.8 310.2L208.8 310.3L209.7 311.5L210.7 312.6L211.6 313.7L212.6 314.5L213.6 316.1L214.5 317.4L215.5 318.6L216.4 319.2L217.4 320.8L218.4 321.5L219.3 323.8L220.3 324.5L221.2 326.3L222.2 327.7L223.2 329.2L224.1 330.7L225.1 332.0L226.0 334.9L227.0 336.0L228.0 337.6L228.9 340.4L229.9 340.6L230.8 342.7L231.8 343.9L232.7 346.8L233.7 347.8L234.7 349.2L235.6 350.1L236.6 352.5L237.5 355.6L238.5 351.5L239.5 356.5L240.4 357.4L241.4 359.2L242.3 356.9L243.3 364.6L244.3 362.3L245.2 365.2L246.2 365.8L247.1 363.8L248.1 368.3L249.1 365.2L250.0 368.7L251.0 371.5L251.9 373.3L252.9 374.3L253.8 374.5L254.8 382.6L255.8 377.8L256.7 373.0L257.7 375.7L258.6 376.2L259.6 378.5L260.6 377.6L261.5 377.3L262.5 387.0L263.4 381.7L264.4 380.9L265.4 381.7L266.3 382.4L267.3 389.2L268.2 386.3L269.2 389.4L270.2 373.1L271.1 387.2L272.1 390.4L273.0 394.3L274.0 386.7L275.0 379.8L275.9 389.2L276.9 384.6L277.8 380.0L278.8 385.1L279.7 392.4L280.7 393.5L281.7 392.0L282.6 385.0L283.6 400.8L284.5 385.6L285.5 391.0L286.5 385.6L287.4 398.4L288.4 395.1L289.3 397.7L290.3 394.7L291.3 394.5L292.2 396.2L293.2 387.5L294.1 401.0L295.1 401.2L296.1 395.9L297.0 398.1" stroke="#f58224" stroke-width="1.0" fill="none" marker-mid="url(#mc11)"/>
<path d="M48.6 390.0V399.0M49.5 384.8V396.3M50.5 391.9V401.5M51.5 383.0V384.8M52.4 381.2V399.1M53.4 382.2V389.9M54.3 381.1V386.4M55.3 377.0V382.6M56.3 379.6V385.1M57.2 370.7V378.1M58.2 372.6V374.8M59.1 374.3V385.1M60.1 360.8V381.4M61.1 377.2V382.4M62.0 370.9V375.5M63.0 367.4V380.2M63.9 366.8V377.6M64.9 368.7V375.6M65.8 364.7V373.4M66.8 364.9V370.6M67.8 365.0V369.7M68.7 367.6V371.2M69.7 366.6V370.3M70.6 364.3V370.9M71.6 362.9V365.5M72.6 358.3V365.2M73.5 356.0V358.7M74.5 354.9V367.5M75.4 358.3V362.4M76.4 356.0V357.2M77.4 354.9V360.4M78.3 353.7V360.6M79.3 349.5V357.9M80.2 349.9V358.0M81.2 349.6V353.2M82.2 344.1V350.3M83.1 347.0V348.5M84.1 343.9V349.1M85.0 345.7V347.0M86.0 342.6V344.5M86.9 341.6V343.9M87.9 339.5V342.7M220.3 341.4V344.5M221.2 341.7V343.8M222.2 342.4V345.2M223.2 343.5V345.5M224.1 343.9V347.8M225.1 344.4V348.5M226.0 345.1V348.5M227.0 350.0V353.6M228.0 345.4V349.6M228.9 348.6V354.9M229.9 350.3V356.1M230.8 350.1V357.7M231.8 352.3V353.9M232.7 353.2V358.2M233.7 351.6V361.2M234.7 355.6V357.1M235.6 358.4V360.9M236.6 355.8V364.3M237.5 354.2V367.6M238.5 363.7V366.3M239.5 358.5V365.4M240.4 363.2V370.4M241.4 362.9V367.7M242.3 365.7V372.9M243.3 363.7V375.3M244.3 369.1V373.2M245.2 367.8V369.6M246.2 368.5V372.2M247.1 369.7V372.3M248.1 372.0V378.2M249.1 374.5V381.1M250.0 374.3V385.0M251.0 372.8V377.4M251.9 371.3V384.2M252.9 371.9V373.2M253.8 364.0V378.0M254.8 372.7V379.7M255.8 371.8V383.0M256.7 364.4V385.0M257.7 372.3V376.3M258.6 377.6V388.6M259.6 374.9V382.4M260.6 364.9V386.6M261.5 387.1V395.0M262.5 376.1V390.5M263.4 378.1V385.5M264.4 378.8V393.1M265.4 372.3V389.2M266.3 385.8V394.4M267.3 377.3V379.5M268.2 375.9V383.2M269.2 382.2V386.7M270.2 378.7V385.9M271.1 381.2V401.3M272.1 375.4V383.8M273.0 379.4V387.4M274.0 382.0V393.4M275.0 382.0V396.8M275.9 390.0V393.1M276.9 384.3V394.0M277.8 393.7V400.6M278.8 384.0V388.4M279.7 383.4V394.8M280.7 389.3V394.9M281.7 383.3V391.6M282.6 377.0V398.7M283.6 381.2V394.1M284.5 383.5V391.5M285.5 369.8V402.3M286.5 381.7V396.7M287.4 378.9V391.7M288.4 392.4V396.6M289.3 383.4V389.1M290.3 398.6V407.7M291.3 401.4V402.8M292.2 390.5V409.6M293.2 392.2V397.2M294.1 388.4V398.7M295.1 393.1V411.3M296.1 396.3V399.9M297.0 398.0V402.6" stroke="#f76e26" stroke-width="0.8" fill="none" opacity="0.8"/>
<marker id="mc12" markerUnits="userSpaceOnUse" markerWidth="3" markerHeight="3" refX="1.5" refY="1.5" overflow="visible"><circle cx="1.5" cy="1.5" r="1.05" fill="#f76e26"/></marker>
<path d="M48.6 394.5L49.5 390.5L50.5 396.7L51.5 383.9L52.4 390.2L53.4 386.1L54.3 383.7L55.3 379.8L56.3 382.4L57.2 374.4L58.2 373.7L59.1 379.7L60.1 371.1L61.1 379.8L62.0 373.2L63.0 373.8L63.9 372.2L64.9 372.1L65.8 369.1L66.8 367.8L67.8 367.4L68.7 369.4L69.7 368.4L70.6 367.6L71.6 364.2L72.6 361.8L73.5 357.3L74.5 361.2L75.4 360.3L76.4 356.6L77.4 357.6L78.3 357.1L79.3 353.7L80.2 353.9L81.2 351.4L82.2 347.2L83.1 347.7L84.1 346.5L85.0 346.3L86.0 343.5L86.9 342.7L87.9 341.1L88.9 340.6L89.8 339.5L90.8 338.8L91.7 337.4L92.7 335.8L93.7 334.5L94.6 333.2L95.6 331.9L96.5 331.2L97.5 328.6L98.5 328.2L99.4 327.2L100.4 326.3L101.3 324.5L102.3 323.9L103.3 323.2L104.2 321.8L105.2 320.4L106.1 320.2L107.1 319.1L108.1 319.0L109.0 317.7L110.0 317.9L110.9 316.6L111.9 315.5L112.8 315.0L113.8 314.1L114.8 314.0L115.7 313.9L116.7 312.7L117.6 312.7L118.6 311.6L119.6 311.6L120.5 312.0L121.5 310.5L122.4 311.2L123.4 310.9L124.4 309.6L125.3 309.5L126.3 309.5L127.2 310.0L128.2 309.3L129.2 309.2L130.1 309.4L131.1 309.0L132.0 308.9L133.0 308.6L133.9 309.1L134.9 308.3L135.9 309.1L136.8 308.4L137.8 308.3L138.7 308.8L139.7 308.7L140.7 307.9L141.6 308.8L142.6 308.3L143.5 308.6L144.5 309.2L145.5 308.8L146.4 309.3L147.4 309.2L148.3 310.1L149.3 309.5L150.3 309.3L151.2 309.4L152.2 309.6L153.1 310.1L154.1 310.2L155.1 310.6L156.0 310.5L157.0 310.6L157.9 310.9L158.9 310.9L159.8 311.2L160.8 311.5L161.8 311.7L162.7 311.5L163.7 311.2L164.6 311.8L165.6 312.4L166.6 311.6L167.5 312.5L168.5 313.1L169.4 312.9L170.4 313.0L171.4 314.2L172.3 314.4L173.3 314.0L174.2 314.9L175.2 315.1L176.2 314.6L177.1 316.2L178.1 315.3L179.0 315.8L180.0 315.8L181.0 316.6L181.9 316.4L182.9 317.2L183.8 318.0L184.8 318.1L185.7 318.3L186.7 319.3L187.7 318.8L188.6 319.9L189.6 319.9L190.5 320.5L191.5 320.9L192.5 321.4L193.4 321.9L194.4 322.1L195.3 322.7L196.3 323.6L197.3 323.9L198.2 324.1L199.2 324.8L200.1 325.4L201.1 326.2L202.1 326.8L203.0 327.4L204.0 327.8L204.9 328.7L205.9 328.8L206.8 329.0L207.8 330.7L208.8 330.8L209.7 331.8L210.7 332.5L211.6 333.9L212.6 334.0L213.6 335.3L214.5 335.8L215.5 336.3L216.4 336.9L217.4 338.9L218.4 339.8L219.3 341.1L220.3 343.0L221.2 342.7L222.2 343.8L223.2 344.5L224.1 345.8L225.1 346.4L226.0 346.8L227.0 351.8L228.0 347.5L228.9 351.7L229.9 353.2L230.8 353.9L231.8 353.1L232.7 355.7L233.7 356.4L234.7 356.3L235.6 359.6L236.6 360.1L237.5 360.9L238.5 365.0L239.5 361.9L240.4 366.8L241.4 365.3L242.3 369.3L243.3 369.5L244.3 371.2L245.2 368.7L246.2 370.3L247.1 371.0L248.1 375.1L249.1 377.8L250.0 379.6L251.0 375.1L251.9 377.7L252.9 372.5L253.8 371.0L254.8 376.2L255.8 377.4L256.7 374.7L257.7 374.3L258.6 383.1L259.6 378.6L260.6 375.7L261.5 391.0L262.5 383.3L263.4 381.8L264.4 385.9L265.4 380.8L266.3 390.1L267.3 378.4L268.2 379.6L269.2 384.5L270.2 382.3L271.1 391.3L272.1 379.6L273.0 383.4L274.0 387.7L275.0 389.4L275.9 391.6L276.9 389.2L277.8 397.1L278.8 386.2L279.7 389.1L280.7 392.1L281.7 387.4L282.6 387.9L283.6 387.6L284.5 387.5L285.5 386.0L286.5 389.2L287.4 385.3L288.4 394.5L289.3 386.2L290.3 403.2L291.3 402.1L292.2 400.0L293.2 394.7L294.1 393.5L295.1 402.2L296.1 398.1L297.0 400.3" stroke="#f76e26" stroke-width="1.0" fill="none" marker-mid="url(#mc12)"/>
<path d="M48.6 387.1V400.4M49.5 390.6V400.1M50.5 388.5V394.4M51.5 381.8V388.4M52.4 383.1V393.9M53.4 388.6V390.8M54.3 375.0V388.8M55.3 372.1V384.7M56.3 379.5V389.0M57.2 377.8V387.1M58.2 375.2V391.6M59.1 372.5V385.7M60.1 373.1V377.7M61.1 369.7V380.2M62.0 370.6V373.1M63.0 366.5V375.6M63.9 370.4V371.8M64.9 369.0V371.4M65.8 371.4V375.8M66.8 363.5V368.0M67.8 362.4V373.3M68.7 362.7V367.7M69.7 366.1V372.6M70.6 364.2V365.8M71.6 361.6V363.0M72.6 357.3V370.4M73.5 354.6V367.2M74.5 356.2V360.9M75.4 356.5V366.5M76.4 357.2V359.9M77.4 358.0V360.2M78.3 348.1V365.3M79.3 353.5V356.0M80.2 348.5V356.5M81.2 346.5V352.3M82.2 349.5V352.2M83.1 347.4V350.1M84.1 345.2V351.3M85.0 345.4V347.0M86.0 343.4V345.1M86.9 341.7V344.0M87.9 341.1V345.6M88.9 341.2V344.0M199.2 340.0V341.8M200.1 341.6V343.9M201.1 341.1V344.4M202.1 343.6V345.6M203.0 345.2V346.7M204.0 345.0V346.6M204.9 343.1V346.2M205.9 345.6V347.1M206.8 348.4V350.1M207.8 345.7V351.5M208.8 346.2V351.0M209.7 349.3V351.6M210.7 348.7V355.7M211.6 351.6V353.8M212.6 352.3V356.1M213.6 350.3V354.9M214.5 352.5V356.3M215.5 353.2V357.4M216.4 354.0V359.2M217.4 351.3V355.7M218.4 357.3V358.7M219.3 349.2V364.1M220.3 357.3V369.5M221.2 364.1V365.5M222.2 364.9V367.5M223.2 362.0V368.5M224.1 361.4V364.9M225.1 359.6V375.8M226.0 361.2V370.5M227.0 364.8V373.1M228.0 365.0V366.8M228.9 362.5V373.0M229.9 367.2V376.1M230.8 374.2V379.0M231.8 368.8V376.0M232.7 376.9V384.2M233.7 380.4V386.4M234.7 369.2V374.1M235.6 374.6V378.9M236.6 373.7V375.6M237.5 377.1V379.4M238.5 374.6V380.8M239.5 376.7V383.3M240.4 383.1V385.6M241.4 383.5V386.4M242.3 382.2V384.0M243.3 378.5V387.1M244.3 375.4V392.1M245.2 381.4V387.1M246.2 382.4V390.4M247.1 383.2V386.0M248.1 380.6V393.0M249.1 368.9V390.9M250.0 378.1V398.4M251.0 390.4V393.8M251.9 379.6V392.6M252.9 378.8V381.0M253.8 379.7V402.0M254.8 381.5V387.2M255.8 367.4V380.5M256.7 382.0V387.9M257.7 381.5V395.1M258.6 380.1V395.0M259.6 389.4V392.6M260.6 386.5V390.8M261.5 376.0V397.7M262.5 376.4V380.7M263.4 375.3V388.9M264.4 383.4V391.4M265.4 384.9V394.2M266.3 377.5V388.2M267.3 381.2V388.1M268.2 380.0V398.4M269.2 376.1V383.3M270.2 376.1V383.3M271.1 383.1V390.6M272.1 387.5V390.6M273.0 384.4V388.0M274.0 375.7V382.0M275.0 384.9V392.3M275.9 379.1V387.3M276.9 389.5V393.7M277.8 381.2V396.1M278.8 389.4V391.3M279.7 383.8V400.4M280.7 386.6V388.2M281.7 392.2V394.5M282.6 389.3V401.5M283.6 387.3V397.0M284.5 386.1V407.1M285.5 381.2V395.9M286.5 387.8V403.7M287.4 386.2V400.6M288.4 386.7V389.9M289.3 391.8V393.9M290.3 387.4V395.3M291.3 391.0V392.6M292.2 387.4V403.1M293.2 396.8V403.5M294.1 391.6V397.6M295.1 392.8V401.6M296.1 387.7V393.8M297.0 394.9V402.0" stroke="#fa5a28" stroke-width="0.8" fill="none" opacity="0.8"/>
<marker id="mc13" markerUnits="userSpaceOnUse" markerWidth="3" markerHeight="3" refX="1.5" refY="1.5" overflow="visible"><circle cx="1.5" cy="1.5" r="1.05" fill="#fa5a28"/></marker>
<path d="M48.6 393.7L49.5 395.4L50.5 391.5L51.5 385.1L52.4 388.5L53.4 389.7L54.3 381.9L55.3 378.4L56.3 384.2L57.2 382.5L58.2 383.4L59.1 379.1L60.1 375.4L61.1 374.9L62.0 371.9L63.0 371.0L63.9 371.1L64.9 370.2L65.8 373.6L66.8 365.8L67.8 367.9L68.7 365.2L69.7 369.4L70.6 365.0L71.6 362.3L72.6 363.8L73.5 360.9L74.5 358.6L75.4 361.5L76.4 358.5L77.4 359.1L78.3 356.7L79.3 354.8L80.2 352.5L81.2 349.4L82.2 350.8L83.1 348.7L84.1 348.3L85.0 346.2L86.0 344.3L86.9 342.9L87.9 343.3L88.9 342.6L89.8 340.2L90.8 339.5L91.7 338.8L92.7 336.4L93.7 335.5L94.6 334.0L95.6 333.6L96.5 332.1L97.5 330.7L98.5 329.1L99.4 328.5L100.4 327.9L101.3 326.4L102.3 325.4L103.3 324.9L104.2 323.4L105.2 323.1L106.1 322.6L107.1 321.4L108.1 320.6L109.0 320.3L110.0 319.5L110.9 318.7L111.9 318.2L112.8 317.6L113.8 316.6L114.8 316.2L115.7 316.1L116.7 315.9L117.6 315.6L118.6 314.5L119.6 315.0L120.5 314.8L121.5 314.5L122.4 314.7L123.4 314.8L124.4 315.2L125.3 314.3L126.3 314.9L127.2 314.7L128.2 314.8L129.2 315.4L130.1 315.4L131.1 314.9L132.0 315.2L133.0 315.5L133.9 315.1L134.9 316.0L135.9 315.8L136.8 316.0L137.8 316.2L138.7 316.8L139.7 316.4L140.7 316.4L141.6 317.3L142.6 316.7L143.5 316.8L144.5 316.7L145.5 317.8L146.4 317.7L147.4 317.9L148.3 318.0L149.3 318.1L150.3 318.1L151.2 318.3L152.2 319.0L153.1 319.1L154.1 319.8L155.1 319.2L156.0 319.5L157.0 319.5L157.9 320.5L158.9 319.9L159.8 320.8L160.8 321.2L161.8 320.9L162.7 321.5L163.7 320.7L164.6 321.6L165.6 321.4L166.6 322.3L167.5 322.5L168.5 322.6L169.4 323.5L170.4 323.6L171.4 323.6L172.3 324.0L173.3 324.0L174.2 324.8L175.2 326.0L176.2 325.4L177.1 326.2L178.1 326.3L179.0 327.2L180.0 327.6L181.0 327.8L181.9 327.7L182.9 328.7L183.8 329.8L184.8 329.8L185.7 330.7L186.7 330.9L187.7 331.1L188.6 332.6L189.6 333.3L190.5 333.8L191.5 334.6L192.5 335.7L193.4 336.2L194.4 337.5L195.3 338.0L196.3 337.5L197.3 339.8L198.2 340.3L199.2 340.9L200.1 342.7L201.1 342.7L202.1 344.6L203.0 346.0L204.0 345.8L204.9 344.7L205.9 346.4L206.8 349.3L207.8 348.6L208.8 348.6L209.7 350.5L210.7 352.2L211.6 352.7L212.6 354.2L213.6 352.6L214.5 354.4L215.5 355.3L216.4 356.6L217.4 353.5L218.4 358.0L219.3 356.7L220.3 363.4L221.2 364.8L222.2 366.2L223.2 365.3L224.1 363.2L225.1 367.7L226.0 365.8L227.0 369.0L228.0 365.9L228.9 367.7L229.9 371.7L230.8 376.6L231.8 372.4L232.7 380.5L233.7 383.4L234.7 371.6L235.6 376.8L236.6 374.6L237.5 378.3L238.5 377.7L239.5 380.0L240.4 384.4L241.4 385.0L242.3 383.1L243.3 382.8L244.3 383.8L245.2 384.3L246.2 386.4L247.1 384.6L248.1 386.8L249.1 379.9L250.0 388.2L251.0 392.1L251.9 386.1L252.9 379.9L253.8 390.9L254.8 384.3L255.8 373.9L256.7 384.9L257.7 388.3L258.6 387.5L259.6 391.0L260.6 388.7L261.5 386.8L262.5 378.6L263.4 382.1L264.4 387.4L265.4 389.6L266.3 382.8L267.3 384.7L268.2 389.2L269.2 379.7L270.2 379.7L271.1 386.9L272.1 389.0L273.0 386.2L274.0 378.9L275.0 388.6L275.9 383.2L276.9 391.6L277.8 388.6L278.8 390.3L279.7 392.1L280.7 387.4L281.7 393.3L282.6 395.4L283.6 392.2L284.5 396.6L285.5 388.6L286.5 395.8L287.4 393.4L288.4 388.3L289.3 392.9L290.3 391.4L291.3 391.8L292.2 395.2L293.2 400.1L294.1 394.6L295.1 397.2L296.1 390.7L297.0 398.4" stroke="#fa5a28" stroke-width="1.0" fill="none" marker-mid="url(#mc13)"/>
<path d="M48.6 399.8V404.6M49.5 387.2V389.0M50.5 387.3V396.2M51.5 385.7V392.4M52.4 378.7V394.3M53.4 389.5V391.0M54.3 389.0V390.5M55.3 371.1V390.4M56.3 379.3V383.2M57.2 382.3V395.3M58.2 372.3V396.2M59.1 380.4V387.3M60.1 377.3V380.7M61.1 374.0V382.5M62.0 377.3V382.7M63.0 369.2V381.9M63.9 366.3V378.5M64.9 370.2V379.5M65.8 371.1V381.8M66.8 367.6V371.0M67.8 371.6V376.9M68.7 369.3V374.6M69.7 362.7V370.0M70.6 366.2V368.8M71.6 364.7V367.6M72.6 361.3V371.9M73.5 362.9V367.8M74.5 358.1V361.0M75.4 354.2V362.4M76.4 361.4V363.0M77.4 356.7V361.2M78.3 357.3V359.1M79.3 354.5V359.0M80.2 355.4V359.6M81.2 347.9V355.1M82.2 352.7V355.1M83.1 348.3V351.1M84.1 348.6V352.7M85.0 347.4V352.9M86.0 342.0V348.9M86.9 345.6V347.1M87.9 343.0V345.9M88.9 341.3V345.2M89.8 340.1V344.8M90.8 338.9V341.9M185.7 340.9V342.9M186.7 341.7V345.2M187.7 340.5V343.4M188.6 341.2V345.7M189.6 343.0V347.2M190.5 345.3V349.0M191.5 346.5V349.1M192.5 343.7V351.7M193.4 346.2V349.7M194.4 349.8V353.5M195.3 349.6V356.1M196.3 355.6V357.8M197.3 352.3V354.0M198.2 354.8V359.6M199.2 352.1V354.4M200.1 354.2V356.4M201.1 354.2V357.6M202.1 356.5V357.8M203.0 356.1V358.1M204.0 356.2V360.9M204.9 359.2V361.5M205.9 357.0V363.6M206.8 358.2V368.9M207.8 358.8V366.5M208.8 362.4V364.8M209.7 364.1V371.7M210.7 365.2V366.7M211.6 363.2V369.4M212.6 361.4V371.7M213.6 365.1V370.0M214.5 368.9V370.4M215.5 365.5V368.0M216.4 371.7V374.0M217.4 368.6V381.2M218.4 373.2V375.9M219.3 369.0V372.2M220.3 364.5V371.6M221.2 370.8V373.7M222.2 368.4V381.4M223.2 372.0V383.7M224.1 373.2V377.6M225.1 367.8V383.7M226.0 378.3V386.8M227.0 370.4V381.5M228.0 380.9V384.2M228.9 374.9V390.4M229.9 374.0V376.9M230.8 377.9V385.5M231.8 377.1V381.5M232.7 376.9V380.0M233.7 375.0V376.3M234.7 368.4V386.0M235.6 381.7V388.4M236.6 375.8V389.2M237.5 380.4V390.4M238.5 373.7V387.6M239.5 382.9V384.6M240.4 377.6V390.8M241.4 374.8V384.2M242.3 372.6V385.9M243.3 384.3V391.1M244.3 382.9V390.6M245.2 379.2V386.1M246.2 383.8V388.4M247.1 381.9V396.7M248.1 387.6V400.6M249.1 376.6V390.2M250.0 386.3V392.8M251.0 387.2V404.2M251.9 385.1V390.2M252.9 387.5V399.3M253.8 376.4V377.9M254.8 390.4V396.7M255.8 383.5V392.0M256.7 374.9V385.5M257.7 387.3V394.7M258.6 391.1V393.2M259.6 386.3V399.3M260.6 387.6V397.9M261.5 384.2V391.3M262.5 380.4V389.2M263.4 382.2V389.8M264.4 378.0V397.5M265.4 386.6V392.5M266.3 383.5V388.3M267.3 381.9V394.4M268.2 385.9V397.4M269.2 387.5V391.7M270.2 388.9V407.0M271.1 392.2V403.0M272.1 380.1V388.3M273.0 386.0V387.5M274.0 376.1V391.6M275.0 378.8V390.4M275.9 389.5V394.3M276.9 383.4V387.8M277.8 382.8V388.3M278.8 384.7V393.3M279.7 387.8V399.7M280.7 382.8V395.2M281.7 387.9V390.6M282.6 393.5V396.5M283.6 388.0V398.9M284.5 389.1V398.5M285.5 392.8V400.0M286.5 387.4V389.1M287.4 388.4V399.8M288.4 386.5V395.1M289.3 389.6V407.5M290.3 394.4V401.8M291.3 384.6V396.0M292.2 398.9V403.7M293.2 383.1V398.3M294.1 398.3V404.8M295.1 393.6V401.9M296.1 392.4V394.6M297.0 390.0V395.9" stroke="#fc472a" stroke-width="0.8" fill="none" opacity="0.8"/>
<marker id="mc14" markerUnits="userSpaceOnUse" markerWidth="3" markerHeight="3" refX="1.5" refY="1.5" overflow="visible"><circle cx="1.5" cy="1.5" r="1.05" fill="#fc472a"/></marker>
<path d="M48.6 402.2L49.5 388.1L50.5 391.8L51.5 389.1L52.4 386.5L53.4 390.3L54.3 389.8L55.3 380.7L56.3 381.3L57.2 388.8L58.2 384.3L59.1 383.9L60.1 379.0L61.1 378.3L62.0 380.0L63.0 375.6L63.9 372.4L64.9 374.8L65.8 376.4L66.8 369.3L67.8 374.3L68.7 371.9L69.7 366.4L70.6 367.5L71.6 366.2L72.6 366.6L73.5 365.4L74.5 359.5L75.4 358.3L76.4 362.2L77.4 358.9L78.3 358.2L79.3 356.7L80.2 357.5L81.2 351.5L82.2 353.9L83.1 349.7L84.1 350.6L85.0 350.1L86.0 345.4L86.9 346.4L87.9 344.4L88.9 343.3L89.8 342.4L90.8 340.4L91.7 339.4L92.7 339.4L93.7 338.3L94.6 336.4L95.6 335.0L96.5 335.3L97.5 333.8L98.5 332.5L99.4 331.0L100.4 330.1L101.3 329.5L102.3 328.1L103.3 328.2L104.2 326.9L105.2 326.2L106.1 325.0L107.1 324.3L108.1 323.6L109.0 323.2L110.0 322.3L110.9 321.6L111.9 321.1L112.8 320.4L113.8 320.2L114.8 319.0L115.7 318.2L116.7 318.1L117.6 318.2L118.6 317.2L119.6 317.2L120.5 316.9L121.5 317.1L122.4 317.1L123.4 316.8L124.4 317.0L125.3 317.5L126.3 317.6L127.2 317.7L128.2 317.8L129.2 317.5L130.1 317.6L131.1 318.2L132.0 317.7L133.0 318.2L133.9 317.8L134.9 318.4L135.9 318.5L136.8 318.5L137.8 319.3L138.7 319.1L139.7 319.5L140.7 319.8L141.6 320.0L142.6 321.1L143.5 320.8L144.5 321.4L145.5 321.3L146.4 322.0L147.4 322.5L148.3 322.9L149.3 323.2L150.3 323.9L151.2 324.8L152.2 324.6L153.1 325.0L154.1 325.2L155.1 326.6L156.0 326.6L157.0 326.6L157.9 327.0L158.9 326.8L159.8 327.3L160.8 327.8L161.8 328.1L162.7 328.1L163.7 328.5L164.6 329.3L165.6 329.6L166.6 329.2L167.5 330.4L168.5 331.2L169.4 331.0L170.4 331.8L171.4 331.7L172.3 333.0L173.3 332.8L174.2 333.3L175.2 334.2L176.2 335.7L177.1 335.3L178.1 335.6L179.0 337.0L180.0 337.5L181.0 339.0L181.9 338.0L182.9 338.4L183.8 339.9L184.8 341.2L185.7 341.9L186.7 343.4L187.7 342.0L188.6 343.4L189.6 345.1L190.5 347.2L191.5 347.8L192.5 347.7L193.4 347.9L194.4 351.6L195.3 352.8L196.3 356.7L197.3 353.2L198.2 357.2L199.2 353.2L200.1 355.3L201.1 355.9L202.1 357.1L203.0 357.1L204.0 358.6L204.9 360.4L205.9 360.3L206.8 363.6L207.8 362.7L208.8 363.6L209.7 367.9L210.7 365.9L211.6 366.3L212.6 366.6L213.6 367.6L214.5 369.7L215.5 366.7L216.4 372.9L217.4 374.9L218.4 374.6L219.3 370.6L220.3 368.0L221.2 372.3L222.2 374.9L223.2 377.8L224.1 375.4L225.1 375.8L226.0 382.6L227.0 375.9L228.0 382.5L228.9 382.7L229.9 375.5L230.8 381.7L231.8 379.3L232.7 378.4L233.7 375.7L234.7 377.2L235.6 385.0L236.6 382.5L237.5 385.4L238.5 380.6L239.5 383.8L240.4 384.2L241.4 379.5L242.3 379.3L243.3 387.7L244.3 386.7L245.2 382.7L246.2 386.1L247.1 389.3L248.1 394.1L249.1 383.4L250.0 389.6L251.0 395.7L251.9 387.6L252.9 393.4L253.8 377.2L254.8 393.6L255.8 387.7L256.7 380.2L257.7 391.0L258.6 392.1L259.6 392.8L260.6 392.7L261.5 387.8L262.5 384.8L263.4 386.0L264.4 387.7L265.4 389.5L266.3 385.9L267.3 388.1L268.2 391.7L269.2 389.6L270.2 397.9L271.1 397.6L272.1 384.2L273.0 386.7L274.0 383.8L275.0 384.6L275.9 391.9L276.9 385.6L277.8 385.6L278.8 389.0L279.7 393.7L280.7 389.0L281.7 389.2L282.6 395.0L283.6 393.4L284.5 393.8L285.5 396.4L286.5 388.2L287.4 394.1L288.4 390.8L289.3 398.6L290.3 398.1L291.3 390.3L292.2 401.3L293.2 390.7L294.1 401.5L295.1 397.8L296.1 393.5L297.0 392.9" stroke="#fc472a" stroke-width="1.0" fill="none" marker-mid="url(#mc14)"/>
<path d="M48.6 387.6V391.4M49.5 386.3V391.7M50.5 392.6V394.0M51.5 382.4V406.9M52.4 377.5V390.1M53.4 386.1V394.5M54.3 386.7V397.0M55.3 386.5V392.1M56.3 381.3V386.3M57.2 390.5V391.8M58.2 379.8V382.6M59.1 384.6V390.4M60.1 386.8V393.3M61.1 367.8V382.8M62.0 377.9V387.6M63.0 380.4V383.2M63.9 371.9V388.9M64.9 371.0V380.6M65.8 371.6V380.9M66.8 370.1V373.0M67.8 372.9V377.8M68.7 372.5V378.2M69.7 367.0V374.0M70.6 365.4V371.8M71.6 364.6V372.9M72.6 365.3V372.4M73.5 367.2V368.4M74.5 361.2V371.1M75.4 364.6V365.9M76.4 358.6V362.7M77.4 352.1V360.3M78.3 359.5V365.3M79.3 360.7V364.7M80.2 353.7V357.3M81.2 354.6V356.7M82.2 354.5V357.7M83.1 354.2V357.5M84.1 350.1V357.7M85.0 351.6V355.3M86.0 348.2V352.0M86.9 346.4V352.6M87.9 346.1V350.2M88.9 343.5V348.4M89.8 345.0V348.2M90.8 343.9V345.6M91.7 342.9V344.9M92.7 340.5V342.6M171.4 341.6V344.3M172.3 341.1V343.5M173.3 341.4V343.3M174.2 343.8V345.3M175.2 342.5V346.2M176.2 345.9V347.5M177.1 345.2V346.6M178.1 346.4V349.6M179.0 346.9V350.7M180.0 348.9V351.1M181.0 348.2V352.3M181.9 349.5V351.9M182.9 350.6V355.0M183.8 350.8V354.9M184.8 354.1V355.9M185.7 353.3V357.0M186.7 349.3V355.5M187.7 354.7V360.0M188.6 360.2V362.1M189.6 357.9V362.0M190.5 358.8V364.3M191.5 356.6V367.9M192.5 358.1V364.1M193.4 354.7V365.3M194.4 364.2V367.7M195.3 365.3V369.7M196.3 363.3V371.1M197.3 366.9V368.6M198.2 367.4V369.7M199.2 367.3V369.3M200.1 368.1V371.7M201.1 369.3V370.7M202.1 370.3V372.9M203.0 367.6V369.8M204.0 368.0V372.7M204.9 370.1V379.1M205.9 372.0V373.2M206.8 365.9V367.9M207.8 373.1V377.8M208.8 365.2V371.8M209.7 377.2V388.0M210.7 377.4V381.4M211.6 376.1V383.8M212.6 373.4V378.8M213.6 372.6V377.5M214.5 378.0V379.5M215.5 377.9V382.2M216.4 370.7V384.9M217.4 379.1V384.0M218.4 380.2V387.6M219.3 382.4V385.7M220.3 377.5V379.6M221.2 370.8V378.9M222.2 379.4V386.9M223.2 372.9V389.3M224.1 384.2V386.9M225.1 387.7V393.1M226.0 388.0V393.6M227.0 382.5V389.5M228.0 381.7V397.1M228.9 389.6V393.9M229.9 382.7V389.1M230.8 385.2V388.9M231.8 387.8V391.4M232.7 385.7V387.2M233.7 380.9V388.9M234.7 371.8V396.4M235.6 384.2V390.4M236.6 379.5V390.5M237.5 389.1V392.3M238.5 375.5V397.2M239.5 392.8V394.1M240.4 383.3V401.6M241.4 372.9V392.6M242.3 390.5V393.4M243.3 379.9V392.2M244.3 388.8V397.4M245.2 385.5V393.9M246.2 384.3V390.7M247.1 389.6V391.0M248.1 379.4V391.5M249.1 385.3V392.7M250.0 382.4V396.1M251.0 380.4V394.1M251.9 388.6V390.4M252.9 378.7V389.5M253.8 381.4V399.6M254.8 375.4V391.8M255.8 383.6V398.5M256.7 384.0V397.1M257.7 383.2V399.9M258.6 385.1V387.8M259.6 399.2V402.5M260.6 386.8V388.8M261.5 387.5V391.2M262.5 378.3V393.0M263.4 393.2V395.8M264.4 377.5V396.1M265.4 382.2V403.2M266.3 380.2V389.7M267.3 384.3V395.8M268.2 385.2V389.8M269.2 388.0V397.8M270.2 387.4V389.0M271.1 383.6V388.6M272.1 389.9V393.4M273.0 381.6V388.6M274.0 381.7V390.7M275.0 388.8V398.2M275.9 381.7V383.9M276.9 382.2V405.4M277.8 384.7V393.8M278.8 382.8V391.7M279.7 391.5V393.1M280.7 389.8V398.5M281.7 381.9V396.6M282.6 389.9V392.4M283.6 390.4V400.5M284.5 393.3V397.6M285.5 386.5V398.0M286.5 382.6V396.2M287.4 381.4V396.5M288.4 386.7V394.8M289.3 394.5V398.5M290.3 389.1V403.9M291.3 386.3V405.2M292.2 397.3V404.5M293.2 392.7V395.6M294.1 384.5V404.3M295.1 386.8V403.1M296.1 400.0V410.6M297.0 387.4V390.7" stroke="#fe352e" stroke-width="0.8" fill="none" opacity="0.8"/>
<marker id="mc15" markerUnits="userSpaceOnUse" markerWidth="3" markerHeight="3" refX="1.5" refY="1.5" overflow="visible"><circle cx="1.5" cy="1.5" r="1.05" fill="#fe352e"/></marker>
<path d="M48.6 389.5L49.5 389.0L50.5 393.3L51.5 394.7L52.4 383.8L53.4 390.3L54.3 391.9L55.3 389.3L56.3 383.8L57.2 391.1L58.2 381.2L59.1 387.5L60.1 390.1L61.1 375.3L62.0 382.8L63.0 381.8L63.9 380.4L64.9 375.8L65.8 376.2L66.8 371.5L67.8 375.3L68.7 375.4L69.7 370.5L70.6 368.6L71.6 368.7L72.6 368.8L73.5 367.8L74.5 366.1L75.4 365.3L76.4 360.7L77.4 356.2L78.3 362.4L79.3 362.7L80.2 355.5L81.2 355.7L82.2 356.1L83.1 355.8L84.1 353.9L85.0 353.4L86.0 350.1L86.9 349.5L87.9 348.2L88.9 346.0L89.8 346.6L90.8 344.8L91.7 343.9L92.7 341.6L93.7 341.5L94.6 338.9L95.6 338.8L96.5 336.1L97.5 335.9L98.5 335.6L99.4 334.2L100.4 333.4L101.3 331.8L102.3 332.0L103.3 330.8L104.2 329.8L105.2 329.2L106.1 328.4L107.1 328.0L108.1 326.8L109.0 325.5L110.0 325.1L110.9 324.9L111.9 323.9L112.8 322.8L113.8 322.5L114.8 321.7L115.7 321.3L116.7 320.1L117.6 319.9L118.6 320.1L119.6 319.6L120.5 319.6L121.5 320.1L122.4 319.4L123.4 319.6L124.4 319.3L125.3 319.4L126.3 319.6L127.2 319.2L128.2 319.1L129.2 320.4L130.1 320.0L131.1 320.5L132.0 320.3L133.0 320.4L133.9 320.7L134.9 320.9L135.9 320.4L136.8 321.3L137.8 320.8L138.7 321.4L139.7 322.6L140.7 322.1L141.6 323.1L142.6 322.9L143.5 323.8L144.5 324.2L145.5 325.0L146.4 325.2L147.4 325.9L148.3 327.0L149.3 327.0L150.3 327.9L151.2 329.0L152.2 329.2L153.1 329.7L154.1 330.2L155.1 331.2L156.0 331.6L157.0 332.3L157.9 332.8L158.9 334.0L159.8 333.8L160.8 333.9L161.8 335.1L162.7 335.7L163.7 336.4L164.6 336.1L165.6 338.1L166.6 338.2L167.5 338.8L168.5 338.5L169.4 340.6L170.4 341.0L171.4 343.0L172.3 342.3L173.3 342.4L174.2 344.5L175.2 344.3L176.2 346.7L177.1 345.9L178.1 348.0L179.0 348.8L180.0 350.0L181.0 350.2L181.9 350.7L182.9 352.8L183.8 352.8L184.8 355.0L185.7 355.1L186.7 352.4L187.7 357.3L188.6 361.2L189.6 360.0L190.5 361.6L191.5 362.2L192.5 361.1L193.4 360.0L194.4 365.9L195.3 367.5L196.3 367.2L197.3 367.8L198.2 368.6L199.2 368.3L200.1 369.9L201.1 370.0L202.1 371.6L203.0 368.7L204.0 370.3L204.9 374.6L205.9 372.6L206.8 366.9L207.8 375.5L208.8 368.5L209.7 382.6L210.7 379.4L211.6 379.9L212.6 376.1L213.6 375.1L214.5 378.7L215.5 380.1L216.4 377.8L217.4 381.5L218.4 383.9L219.3 384.0L220.3 378.5L221.2 374.8L222.2 383.1L223.2 381.1L224.1 385.6L225.1 390.4L226.0 390.8L227.0 386.0L228.0 389.4L228.9 391.8L229.9 385.9L230.8 387.1L231.8 389.6L232.7 386.4L233.7 384.9L234.7 384.1L235.6 387.3L236.6 385.0L237.5 390.7L238.5 386.3L239.5 393.5L240.4 392.5L241.4 382.7L242.3 391.9L243.3 386.1L244.3 393.1L245.2 389.7L246.2 387.5L247.1 390.3L248.1 385.5L249.1 389.0L250.0 389.3L251.0 387.3L251.9 389.5L252.9 384.1L253.8 390.5L254.8 383.6L255.8 391.0L256.7 390.5L257.7 391.5L258.6 386.5L259.6 400.9L260.6 387.8L261.5 389.3L262.5 385.7L263.4 394.5L264.4 386.8L265.4 392.7L266.3 384.9L267.3 390.1L268.2 387.5L269.2 392.9L270.2 388.2L271.1 386.1L272.1 391.6L273.0 385.1L274.0 386.2L275.0 393.5L275.9 382.8L276.9 393.8L277.8 389.2L278.8 387.3L279.7 392.3L280.7 394.1L281.7 389.2L282.6 391.2L283.6 395.5L284.5 395.4L285.5 392.2L286.5 389.4L287.4 388.9L288.4 390.7L289.3 396.5L290.3 396.5L291.3 395.8L292.2 400.9L293.2 394.2L294.1 394.4L295.1 394.9L296.1 405.3L297.0 389.1" stroke="#fe352e" stroke-width="1.0" fill="none" marker-mid="url(#mc15)"/>
<path d="M48.6 389.1V401.1M49.5 388.3V399.2M50.5 385.3V392.0M51.5 391.2V405.1M52.4 384.6V403.6M53.4 386.5V400.6M54.3 394.4V402.2M55.3 382.5V396.3M56.3 383.4V398.1M57.2 384.6V398.1M58.2 382.8V392.6M59.1 383.5V392.8M60.1 389.6V391.6M61.1 383.6V389.8M62.0 384.9V396.5M63.0 375.4V388.5M63.9 379.0V389.7M64.9 372.8V382.3M65.8 379.3V382.7M66.8 373.5V382.4M67.8 381.8V385.4M68.7 375.1V385.5M69.7 373.6V383.1M70.6 377.1V385.3M71.6 372.8V384.4M72.6 371.5V378.8M73.5 369.1V370.8M74.5 362.2V371.1M75.4 366.2V372.3M76.4 362.1V372.0M77.4 361.5V368.4M78.3 358.7V370.2M79.3 357.9V361.9M80.2 362.3V368.6M81.2 356.5V360.2M82.2 355.7V360.2M83.1 355.1V362.6M84.1 351.4V355.4M85.0 355.5V357.4M86.0 352.9V357.1M86.9 351.0V352.3M87.9 346.7V351.9M88.9 347.9V350.1M89.8 344.4V347.8M90.8 346.2V351.5M91.7 345.3V347.0M92.7 342.3V346.1M93.7 342.1V343.9M94.6 342.0V344.4M95.6 341.7V343.9M160.8 339.3V342.0M161.8 339.4V343.3M162.7 342.1V343.4M163.7 342.0V345.1M164.6 340.7V343.0M165.6 344.2V348.2M166.6 344.9V347.1M167.5 344.2V349.3M168.5 346.6V349.2M169.4 343.8V350.4M170.4 348.3V350.2M171.4 350.1V353.4M172.3 348.8V356.9M173.3 352.4V353.6M174.2 352.2V353.6M175.2 351.2V354.9M176.2 356.6V359.1M177.1 355.8V359.4M178.1 354.3V359.5M179.0 353.8V355.2M180.0 355.5V360.7M181.0 352.7V361.0M181.9 361.1V368.4M182.9 362.7V364.1M183.8 359.7V364.7M184.8 359.7V368.8M185.7 366.5V378.0M186.7 362.8V376.7M187.7 358.7V369.3M188.6 363.0V373.1M189.6 364.9V366.9M190.5 356.9V373.7M191.5 363.6V379.3M192.5 373.5V384.1M193.4 371.8V382.6M194.4 372.1V374.8M195.3 370.5V375.4M196.3 374.9V376.1M197.3 374.7V383.0M198.2 370.3V372.7M199.2 364.2V377.4M200.1 381.8V385.8M201.1 377.8V380.4M202.1 378.6V389.9M203.0 371.2V389.2M204.0 382.2V388.1M204.9 376.3V380.4M205.9 380.0V385.8M206.8 384.1V390.6M207.8 383.8V388.2M208.8 377.8V384.3M209.7 378.4V394.8M210.7 371.8V390.7M211.6 375.0V382.5M212.6 385.3V388.0M213.6 384.1V396.8M214.5 385.8V391.6M215.5 379.5V381.9M216.4 385.5V393.2M217.4 384.6V393.1M218.4 383.6V385.5M219.3 375.9V377.3M220.3 381.1V400.5M221.2 388.4V392.5M222.2 386.3V391.8M223.2 371.9V388.4M224.1 378.4V384.1M225.1 389.9V393.3M226.0 380.8V400.8M227.0 387.7V391.8M228.0 382.1V391.5M228.9 384.2V394.9M229.9 377.0V394.6M230.8 380.1V393.7M231.8 376.3V393.2M232.7 388.7V390.4M233.7 385.9V387.8M234.7 390.7V394.6M235.6 389.4V394.2M236.6 383.4V387.6M237.5 384.7V408.6M238.5 381.0V387.6M239.5 389.8V392.0M240.4 388.4V398.7M241.4 393.6V395.1M242.3 367.6V391.9M243.3 390.5V395.9M244.3 391.8V396.5M245.2 385.8V404.3M246.2 375.3V384.0M247.1 385.0V387.3M248.1 385.4V391.7M249.1 385.5V388.7M250.0 390.2V399.0M251.0 382.5V389.8M251.9 390.1V398.2M252.9 390.3V392.4M253.8 381.7V384.1M254.8 382.4V387.3M255.8 386.4V387.6M256.7 385.4V393.4M257.7 389.1V397.2M258.6 387.3V389.2M259.6 387.4V398.5M260.6 379.7V385.4M261.5 375.1V377.9M262.5 383.1V393.2M263.4 388.2V395.2M264.4 385.5V391.2M265.4 384.4V386.9M266.3 390.5V393.1M267.3 396.8V399.8M268.2 384.8V394.3M269.2 379.0V394.8M270.2 381.1V391.7M271.1 397.1V399.7M272.1 384.3V395.4M273.0 390.3V395.1M274.0 393.8V397.2M275.0 393.9V396.3M275.9 372.5V400.9M276.9 389.3V400.9M277.8 388.7V400.9M278.8 391.0V395.9M279.7 392.1V399.7M280.7 376.8V401.6M281.7 388.6V394.5M282.6 383.5V396.2M283.6 388.6V403.2M284.5 385.9V394.2M285.5 386.2V404.2M286.5 387.0V390.9M287.4 390.3V397.1M288.4 389.3V396.7M289.3 379.9V409.1M290.3 393.6V398.4M291.3 393.6V396.3M292.2 387.1V403.2M293.2 384.2V390.2M294.1 401.2V402.6M295.1 389.9V399.0M296.1 395.7V397.4M297.0 391.8V396.8" stroke="#ff2532" stroke-width="0.8" fill="none" opacity="0.8"/>
<marker id="mc16" markerUnits="userSpaceOnUse" markerWidth="3" markerHeight="3" refX="1.5" refY="1.5" overflow="visible"><circle cx="1.5" cy="1.5" r="1.05" fill="#ff2532"/></marker>
<path d="M48.6 395.1L49.5 393.8L50.5 388.6L51.5 398.2L52.4 394.1L53.4 393.5L54.3 398.3L55.3 389.4L56.3 390.8L57.2 391.3L58.2 387.7L59.1 388.1L60.1 390.6L61.1 386.7L62.0 390.7L63.0 382.0L63.9 384.4L64.9 377.5L65.8 381.0L66.8 377.9L67.8 383.6L68.7 380.3L69.7 378.3L70.6 381.2L71.6 378.6L72.6 375.2L73.5 369.9L74.5 366.7L75.4 369.2L76.4 367.0L77.4 365.0L78.3 364.4L79.3 359.9L80.2 365.4L81.2 358.4L82.2 357.9L83.1 358.8L84.1 353.4L85.0 356.4L86.0 355.0L86.9 351.7L87.9 349.3L88.9 349.0L89.8 346.1L90.8 348.9L91.7 346.1L92.7 344.2L93.7 343.0L94.6 343.2L95.6 342.8L96.5 339.6L97.5 339.1L98.5 337.4L99.4 337.8L100.4 336.5L101.3 336.4L102.3 334.6L103.3 333.6L104.2 332.7L105.2 332.4L106.1 330.7L107.1 330.7L108.1 329.7L109.0 328.6L110.0 327.6L110.9 327.4L111.9 326.8L112.8 325.3L113.8 324.9L114.8 324.6L115.7 323.2L116.7 322.7L117.6 321.9L118.6 321.9L119.6 321.7L120.5 321.4L121.5 321.3L122.4 321.0L123.4 321.1L124.4 321.3L125.3 321.9L126.3 321.6L127.2 321.6L128.2 322.2L129.2 322.3L130.1 322.0L131.1 322.1L132.0 322.7L133.0 322.8L133.9 322.6L134.9 323.1L135.9 323.2L136.8 323.8L137.8 323.4L138.7 324.3L139.7 324.6L140.7 324.7L141.6 326.1L142.6 326.8L143.5 326.8L144.5 328.8L145.5 328.6L146.4 329.6L147.4 330.7L148.3 332.0L149.3 332.9L150.3 333.6L151.2 334.9L152.2 335.4L153.1 336.6L154.1 338.1L155.1 337.6L156.0 336.8L157.0 338.6L157.9 338.9L158.9 340.3L159.8 341.0L160.8 340.6L161.8 341.3L162.7 342.8L163.7 343.5L164.6 341.9L165.6 346.2L166.6 346.0L167.5 346.7L168.5 347.9L169.4 347.1L170.4 349.3L171.4 351.7L172.3 352.8L173.3 353.0L174.2 352.9L175.2 353.0L176.2 357.8L177.1 357.6L178.1 356.9L179.0 354.5L180.0 358.1L181.0 356.8L181.9 364.8L182.9 363.4L183.8 362.2L184.8 364.2L185.7 372.2L186.7 369.8L187.7 364.0L188.6 368.1L189.6 365.9L190.5 365.3L191.5 371.4L192.5 378.8L193.4 377.2L194.4 373.5L195.3 373.0L196.3 375.5L197.3 378.9L198.2 371.5L199.2 370.8L200.1 383.8L201.1 379.1L202.1 384.3L203.0 380.2L204.0 385.1L204.9 378.4L205.9 382.9L206.8 387.3L207.8 386.0L208.8 381.1L209.7 386.6L210.7 381.2L211.6 378.8L212.6 386.6L213.6 390.4L214.5 388.7L215.5 380.7L216.4 389.4L217.4 388.8L218.4 384.5L219.3 376.6L220.3 390.8L221.2 390.4L222.2 389.0L223.2 380.2L224.1 381.3L225.1 391.6L226.0 390.8L227.0 389.7L228.0 386.8L228.9 389.5L229.9 385.8L230.8 386.9L231.8 384.7L232.7 389.5L233.7 386.8L234.7 392.7L235.6 391.8L236.6 385.5L237.5 396.6L238.5 384.3L239.5 390.9L240.4 393.5L241.4 394.4L242.3 379.7L243.3 393.2L244.3 394.1L245.2 395.0L246.2 379.7L247.1 386.2L248.1 388.6L249.1 387.1L250.0 394.6L251.0 386.1L251.9 394.2L252.9 391.4L253.8 382.9L254.8 384.8L255.8 387.0L256.7 389.4L257.7 393.2L258.6 388.2L259.6 392.9L260.6 382.6L261.5 376.5L262.5 388.1L263.4 391.7L264.4 388.3L265.4 385.6L266.3 391.8L267.3 398.3L268.2 389.6L269.2 386.9L270.2 386.4L271.1 398.4L272.1 389.8L273.0 392.7L274.0 395.5L275.0 395.1L275.9 386.7L276.9 395.1L277.8 394.8L278.8 393.4L279.7 395.9L280.7 389.2L281.7 391.6L282.6 389.9L283.6 395.9L284.5 390.0L285.5 395.2L286.5 388.9L287.4 393.7L288.4 393.0L289.3 394.5L290.3 396.0L291.3 395.0L292.2 395.2L293.2 387.2L294.1 401.9L295.1 394.5L296.1 396.5L297.0 394.3" stroke="#ff2532" stroke-width="1.0" fill="none" marker-mid="url(#mc16)"/>
<path d="M48.6 395.3V405.7M49.5 390.5V403.9M50.5 393.1V396.3M51.5 381.0V410.2M52.4 386.4V405.3M53.4 390.1V397.0M54.3 397.3V401.3M55.3 392.4V402.7M56.3 393.3V395.9M57.2 387.3V389.0M58.2 390.5V399.2M59.1 385.4V387.5M60.1 383.9V399.8M61.1 385.8V395.0M62.0 379.4V394.3M63.0 378.9V391.1M63.9 383.2V385.9M64.9 393.1V395.5M65.8 382.9V385.6M66.8 382.7V384.1M67.8 378.7V394.4M68.7 379.0V387.8M69.7 381.1V387.7M70.6 374.2V376.6M71.6 364.2V385.3M72.6 386.5V389.5M73.5 370.2V381.5M74.5 365.1V382.6M75.4 367.9V379.9M76.4 372.6V377.1M77.4 364.2V370.2M78.3 364.1V375.5M79.3 363.3V371.6M80.2 366.2V369.0M81.2 362.5V367.1M82.2 360.3V362.9M83.1 356.8V362.0M84.1 352.0V357.4M85.0 357.3V362.9M86.0 351.5V356.6M86.9 350.5V358.7M87.9 354.3V359.1M88.9 348.7V355.3M89.8 349.5V355.2M90.8 346.5V353.5M91.7 347.6V352.4M92.7 346.4V349.6M93.7 345.3V347.2M94.6 343.8V350.6M95.6 341.6V347.2M96.5 341.1V343.6M97.5 341.0V343.6M98.5 339.6V344.3M153.1 341.2V344.1M154.1 341.2V343.1M155.1 342.8V344.4M156.0 341.5V345.9M157.0 343.8V347.3M157.9 345.0V348.4M158.9 346.1V350.1M159.8 346.5V348.9M160.8 345.8V348.0M161.8 347.7V349.8M162.7 348.8V350.9M163.7 349.9V353.4M164.6 346.4V348.5M165.6 348.2V355.3M166.6 347.4V351.0M167.5 351.5V356.3M168.5 353.0V355.6M169.4 353.8V356.9M170.4 355.6V358.4M171.4 352.2V362.2M172.3 355.4V357.5M173.3 355.8V363.2M174.2 359.3V365.6M175.2 358.6V363.4M176.2 359.1V366.0M177.1 358.3V363.7M178.1 364.8V370.9M179.0 363.9V366.2M180.0 360.5V370.8M181.0 364.7V370.4M181.9 361.1V374.1M182.9 368.4V372.2M183.8 370.4V381.0M184.8 374.4V376.2M185.7 376.9V379.3M186.7 371.5V387.0M187.7 369.5V376.2M188.6 374.5V381.5M189.6 376.2V388.2M190.5 384.6V386.9M191.5 370.9V377.8M192.5 373.2V376.8M193.4 378.1V386.4M194.4 378.8V381.6M195.3 373.4V383.7M196.3 382.7V385.5M197.3 379.1V381.8M198.2 372.7V378.4M199.2 380.2V388.4M200.1 383.6V387.0M201.1 384.9V390.3M202.1 384.9V393.3M203.0 384.2V388.9M204.0 382.0V388.6M204.9 382.4V385.5M205.9 379.1V381.8M206.8 384.3V386.4M207.8 390.6V391.9M208.8 388.8V391.5M209.7 387.9V403.9M210.7 381.2V393.8M211.6 377.8V384.6M212.6 389.2V394.3M213.6 390.5V395.0M214.5 383.0V385.2M215.5 380.6V384.3M216.4 386.0V393.4M217.4 384.7V399.3M218.4 372.1V397.5M219.3 386.5V389.5M220.3 380.0V392.7M221.2 379.7V389.9M222.2 381.3V387.3M223.2 387.8V392.9M224.1 386.4V390.2M225.1 382.5V391.9M226.0 377.5V381.2M227.0 395.9V398.4M228.0 373.7V398.7M228.9 387.9V391.1M229.9 384.0V386.8M230.8 378.6V404.6M231.8 380.2V387.6M232.7 389.6V391.3M233.7 387.8V390.8M234.7 391.5V396.1M235.6 382.8V388.4M236.6 381.4V393.5M237.5 386.2V392.0M238.5 395.8V401.5M239.5 372.5V395.5M240.4 381.6V400.9M241.4 384.2V390.5M242.3 388.6V394.1M243.3 390.6V394.8M244.3 387.3V393.9M245.2 387.0V395.3M246.2 385.5V396.9M247.1 377.6V397.7M248.1 383.4V394.9M249.1 374.8V391.7M250.0 379.1V398.1M251.0 382.1V391.7M251.9 387.4V390.6M252.9 389.9V396.2M253.8 389.2V394.0M254.8 383.2V400.8M255.8 393.0V396.1M256.7 376.8V383.7M257.7 391.1V392.5M258.6 386.7V393.2M259.6 386.4V393.0M260.6 383.9V385.9M261.5 386.3V399.1M262.5 394.4V396.3M263.4 387.7V402.3M264.4 385.2V395.9M265.4 390.8V396.5M266.3 389.1V400.7M267.3 397.1V400.1M268.2 389.3V402.9M269.2 380.0V403.3M270.2 390.0V392.9M271.1 382.9V400.5M272.1 383.3V400.6M273.0 387.4V390.6M274.0 386.5V402.5M275.0 387.5V389.7M275.9 375.2V401.5M276.9 384.3V402.6M277.8 386.2V393.3M278.8 390.1V392.5M279.7 381.3V386.1M280.7 393.5V398.8M281.7 386.4V399.4M282.6 388.5V396.7M283.6 391.0V399.6M284.5 388.5V400.3M285.5 389.1V392.3M286.5 385.3V419.8M287.4 379.8V404.6M288.4 393.8V403.5M289.3 398.3V407.0M290.3 386.8V398.1M291.3 392.9V398.7M292.2 381.5V403.1M293.2 398.0V403.5M294.1 394.0V396.4M295.1 380.4V404.3M296.1 391.4V415.0M297.0 399.6V404.3" stroke="#ff1836" stroke-width="0.8" fill="none" opacity="0.8"/>
<marker id="mc17" markerUnits="userSpaceOnUse" markerWidth="3" markerHeight="3" refX="1.5" refY="1.5" overflow="visible"><circle cx="1.5" cy="1.5" r="1.05" fill="#ff1836"/></marker>
<path d="M48.6 400.5L49.5 397.2L50.5 394.7L51.5 395.6L52.4 395.8L53.4 393.6L54.3 399.3L55.3 397.6L56.3 394.6L57.2 388.1L58.2 394.9L59.1 386.4L60.1 391.8L61.1 390.4L62.0 386.9L63.0 385.0L63.9 384.6L64.9 394.3L65.8 384.2L66.8 383.4L67.8 386.5L68.7 383.4L69.7 384.4L70.6 375.4L71.6 374.7L72.6 388.0L73.5 375.8L74.5 373.8L75.4 373.9L76.4 374.9L77.4 367.2L78.3 369.8L79.3 367.4L80.2 367.6L81.2 364.8L82.2 361.6L83.1 359.4L84.1 354.7L85.0 360.1L86.0 354.0L86.9 354.6L87.9 356.7L88.9 352.0L89.8 352.3L90.8 350.0L91.7 350.0L92.7 348.0L93.7 346.2L94.6 347.2L95.6 344.4L96.5 342.3L97.5 342.3L98.5 342.0L99.4 339.7L100.4 340.1L101.3 339.1L102.3 338.8L103.3 336.5L104.2 336.2L105.2 334.5L106.1 334.1L107.1 333.4L108.1 332.6L109.0 331.5L110.0 330.6L110.9 329.5L111.9 328.6L112.8 328.0L113.8 327.2L114.8 326.5L115.7 325.9L116.7 325.4L117.6 323.8L118.6 323.8L119.6 323.7L120.5 323.3L121.5 323.9L122.4 323.8L123.4 323.5L124.4 323.7L125.3 324.1L126.3 323.7L127.2 323.8L128.2 324.4L129.2 324.4L130.1 324.9L131.1 324.7L132.0 325.0L133.0 324.8L133.9 324.9L134.9 325.4L135.9 324.8L136.8 326.1L137.8 326.6L138.7 326.7L139.7 327.2L140.7 328.4L141.6 328.9L142.6 330.3L143.5 331.7L144.5 332.4L145.5 333.6L146.4 334.7L147.4 335.8L148.3 337.0L149.3 338.1L150.3 339.9L151.2 339.1L152.2 341.0L153.1 342.6L154.1 342.2L155.1 343.6L156.0 343.7L157.0 345.6L157.9 346.7L158.9 348.1L159.8 347.7L160.8 346.9L161.8 348.7L162.7 349.8L163.7 351.7L164.6 347.5L165.6 351.7L166.6 349.2L167.5 353.9L168.5 354.3L169.4 355.3L170.4 357.0L171.4 357.2L172.3 356.4L173.3 359.5L174.2 362.5L175.2 361.0L176.2 362.6L177.1 361.0L178.1 367.8L179.0 365.1L180.0 365.7L181.0 367.6L181.9 367.6L182.9 370.3L183.8 375.7L184.8 375.3L185.7 378.1L186.7 379.3L187.7 372.9L188.6 378.0L189.6 382.2L190.5 385.8L191.5 374.3L192.5 375.0L193.4 382.2L194.4 380.2L195.3 378.5L196.3 384.1L197.3 380.5L198.2 375.6L199.2 384.3L200.1 385.3L201.1 387.6L202.1 389.1L203.0 386.6L204.0 385.3L204.9 384.0L205.9 380.4L206.8 385.4L207.8 391.2L208.8 390.2L209.7 395.9L210.7 387.5L211.6 381.2L212.6 391.7L213.6 392.8L214.5 384.1L215.5 382.5L216.4 389.7L217.4 392.0L218.4 384.8L219.3 388.0L220.3 386.3L221.2 384.8L222.2 384.3L223.2 390.3L224.1 388.3L225.1 387.2L226.0 379.3L227.0 397.2L228.0 386.2L228.9 389.5L229.9 385.4L230.8 391.6L231.8 383.9L232.7 390.5L233.7 389.3L234.7 393.8L235.6 385.6L236.6 387.4L237.5 389.1L238.5 398.6L239.5 384.0L240.4 391.3L241.4 387.4L242.3 391.3L243.3 392.7L244.3 390.6L245.2 391.1L246.2 391.2L247.1 387.6L248.1 389.2L249.1 383.3L250.0 388.6L251.0 386.9L251.9 389.0L252.9 393.1L253.8 391.6L254.8 392.0L255.8 394.6L256.7 380.3L257.7 391.8L258.6 389.9L259.6 389.7L260.6 384.9L261.5 392.7L262.5 395.3L263.4 395.0L264.4 390.6L265.4 393.7L266.3 394.9L267.3 398.6L268.2 396.1L269.2 391.6L270.2 391.4L271.1 391.7L272.1 392.0L273.0 389.0L274.0 394.5L275.0 388.6L275.9 388.3L276.9 393.4L277.8 389.7L278.8 391.3L279.7 383.7L280.7 396.1L281.7 392.9L282.6 392.6L283.6 395.3L284.5 394.4L285.5 390.7L286.5 402.5L287.4 392.2L288.4 398.6L289.3 402.6L290.3 392.4L291.3 395.8L292.2 392.3L293.2 400.7L294.1 395.2L295.1 392.3L296.1 403.2L297.0 402.0" stroke="#ff1836" stroke-width="1.0" fill="none" marker-mid="url(#mc17)"/>
</g>
<line x1="49.50" y1="234.50" x2="296.50" y2="234.50" stroke="#333" stroke-width="1.0"/>
<line x1="296.50" y1="234.50" x2="296.50" y2="408.00" stroke="#333" stroke-width="1.0"/>
<line x1="49.50" y1="234.50" x2="49.50" y2="408.00" stroke="#333" stroke-width="1.1"/>
<line x1="49.50" y1="408.00" x2="296.50" y2="408.00" stroke="#333" stroke-width="1.1"/>
<line x1="57.50" y1="408.00" x2="57.50" y2="411.30" stroke="#333" stroke-width="1.0"/>
<line x1="57.50" y1="234.50" x2="57.50" y2="237.80" stroke="#333" stroke-width="1.0"/>
<line x1="73.43" y1="408.00" x2="73.43" y2="410.20" stroke="#333" stroke-width="1.0"/>
<line x1="73.43" y1="234.50" x2="73.43" y2="236.70" stroke="#333" stroke-width="1.0"/>
<line x1="89.35" y1="408.00" x2="89.35" y2="411.30" stroke="#333" stroke-width="1.0"/>
<line x1="89.35" y1="234.50" x2="89.35" y2="237.80" stroke="#333" stroke-width="1.0"/>
<line x1="105.28" y1="408.00" x2="105.28" y2="410.20" stroke="#333" stroke-width="1.0"/>
<line x1="105.28" y1="234.50" x2="105.28" y2="236.70" stroke="#333" stroke-width="1.0"/>
<line x1="121.20" y1="408.00" x2="121.20" y2="411.30" stroke="#333" stroke-width="1.0"/>
<line x1="121.20" y1="234.50" x2="121.20" y2="237.80" stroke="#333" stroke-width="1.0"/>
<line x1="137.12" y1="408.00" x2="137.12" y2="410.20" stroke="#333" stroke-width="1.0"/>
<line x1="137.12" y1="234.50" x2="137.12" y2="236.70" stroke="#333" stroke-width="1.0"/>
<line x1="153.05" y1="408.00" x2="153.05" y2="411.30" stroke="#333" stroke-width="1.0"/>
<line x1="153.05" y1="234.50" x2="153.05" y2="237.80" stroke="#333" stroke-width="1.0"/>
<line x1="168.98" y1="408.00" x2="168.98" y2="410.20" stroke="#333" stroke-width="1.0"/>
<line x1="168.98" y1="234.50" x2="168.98" y2="236.70" stroke="#333" stroke-width="1.0"/>
<line x1="184.90" y1="408.00" x2="184.90" y2="411.30" stroke="#333" stroke-width="1.0"/>
<line x1="184.90" y1="234.50" x2="184.90" y2="237.80" stroke="#333" stroke-width="1.0"/>
<line x1="200.82" y1="408.00" x2="200.82" y2="410.20" stroke="#333" stroke-width="1.0"/>
<line x1="200.82" y1="234.50" x2="200.82" y2="236.70" stroke="#333" stroke-width="1.0"/>
<line x1="216.75" y1="408.00" x2="216.75" y2="411.30" stroke="#333" stroke-width="1.0"/>
<line x1="216.75" y1="234.50" x2="216.75" y2="237.80" stroke="#333" stroke-width="1.0"/>
<line x1="232.68" y1="408.00" x2="232.68" y2="410.20" stroke="#333" stroke-width="1.0"/>
<line x1="232.68" y1="234.50" x2="232.68" y2="236.70" stroke="#333" stroke-width="1.0"/>
<line x1="248.60" y1="408.00" x2="248.60" y2="411.30" stroke="#333" stroke-width="1.0"/>
<line x1="248.60" y1="234.50" x2="248.60" y2="237.80" stroke="#333" stroke-width="1.0"/>
<line x1="264.53" y1="408.00" x2="264.53" y2="410.20" stroke="#333" stroke-width="1.0"/>
<line x1="264.53" y1="234.50" x2="264.53" y2="236.70" stroke="#333" stroke-width="1.0"/>
<line x1="280.45" y1="408.00" x2="280.45" y2="411.30" stroke="#333" stroke-width="1.0"/>
<line x1="280.45" y1="234.50" x2="280.45" y2="237.80" stroke="#333" stroke-width="1.0"/>
<line x1="296.38" y1="408.00" x2="296.38" y2="410.20" stroke="#333" stroke-width="1.0"/>
<line x1="296.38" y1="234.50" x2="296.38" y2="236.70" stroke="#333" stroke-width="1.0"/>
<text x="57.5" y="422.0" font-family='"Liberation Sans", sans-serif' font-size="12.2" font-weight="bold" fill="#000" text-anchor="middle" textLength="16.6" lengthAdjust="spacingAndGlyphs">0.8</text>
<text x="89.3" y="422.0" font-family='"Liberation Sans", sans-serif' font-size="12.2" font-weight="bold" fill="#000" text-anchor="middle" textLength="16.6" lengthAdjust="spacingAndGlyphs">0.9</text>
<text x="121.2" y="422.0" font-family='"Liberation Sans", sans-serif' font-size="12.2" font-weight="bold" fill="#000" text-anchor="middle" textLength="16.6" lengthAdjust="spacingAndGlyphs">1.0</text>
<text x="153.1" y="422.0" font-family='"Liberation Sans", sans-serif' font-size="12.2" font-weight="bold" fill="#000" text-anchor="middle" textLength="16.6" lengthAdjust="spacingAndGlyphs">1.1</text>
<text x="184.9" y="422.0" font-family='"Liberation Sans", sans-serif' font-size="12.2" font-weight="bold" fill="#000" text-anchor="middle" textLength="16.6" lengthAdjust="spacingAndGlyphs">1.2</text>
<text x="216.8" y="422.0" font-family='"Liberation Sans", sans-serif' font-size="12.2" font-weight="bold" fill="#000" text-anchor="middle" textLength="16.6" lengthAdjust="spacingAndGlyphs">1.3</text>
<text x="248.6" y="422.0" font-family='"Liberation Sans", sans-serif' font-size="12.2" font-weight="bold" fill="#000" text-anchor="middle" textLength="16.6" lengthAdjust="spacingAndGlyphs">1.4</text>
<text x="280.4" y="422.0" font-family='"Liberation Sans", sans-serif' font-size="12.2" font-weight="bold" fill="#000" text-anchor="middle" textLength="16.6" lengthAdjust="spacingAndGlyphs">1.5</text>
<line x1="47.30" y1="407.33" x2="49.50" y2="407.33" stroke="#333" stroke-width="1.0"/>
<line x1="296.50" y1="407.33" x2="294.30" y2="407.33" stroke="#333" stroke-width="1.0"/>
<line x1="47.30" y1="402.06" x2="49.50" y2="402.06" stroke="#333" stroke-width="1.0"/>
<line x1="296.50" y1="402.06" x2="294.30" y2="402.06" stroke="#333" stroke-width="1.0"/>
<line x1="47.30" y1="397.61" x2="49.50" y2="397.61" stroke="#333" stroke-width="1.0"/>
<line x1="296.50" y1="397.61" x2="294.30" y2="397.61" stroke="#333" stroke-width="1.0"/>
<line x1="47.30" y1="393.75" x2="49.50" y2="393.75" stroke="#333" stroke-width="1.0"/>
<line x1="296.50" y1="393.75" x2="294.30" y2="393.75" stroke="#333" stroke-width="1.0"/>
<line x1="47.30" y1="390.35" x2="49.50" y2="390.35" stroke="#333" stroke-width="1.0"/>
<line x1="296.50" y1="390.35" x2="294.30" y2="390.35" stroke="#333" stroke-width="1.0"/>
<line x1="45.50" y1="387.30" x2="49.50" y2="387.30" stroke="#333" stroke-width="1.0"/>
<line x1="296.50" y1="387.30" x2="292.50" y2="387.30" stroke="#333" stroke-width="1.0"/>
<line x1="47.30" y1="367.27" x2="49.50" y2="367.27" stroke="#333" stroke-width="1.0"/>
<line x1="296.50" y1="367.27" x2="294.30" y2="367.27" stroke="#333" stroke-width="1.0"/>
<line x1="47.30" y1="355.55" x2="49.50" y2="355.55" stroke="#333" stroke-width="1.0"/>
<line x1="296.50" y1="355.55" x2="294.30" y2="355.55" stroke="#333" stroke-width="1.0"/>
<line x1="47.30" y1="347.23" x2="49.50" y2="347.23" stroke="#333" stroke-width="1.0"/>
<line x1="296.50" y1="347.23" x2="294.30" y2="347.23" stroke="#333" stroke-width="1.0"/>
<line x1="47.30" y1="340.78" x2="49.50" y2="340.78" stroke="#333" stroke-width="1.0"/>
<line x1="296.50" y1="340.78" x2="294.30" y2="340.78" stroke="#333" stroke-width="1.0"/>
<line x1="47.30" y1="335.51" x2="49.50" y2="335.51" stroke="#333" stroke-width="1.0"/>
<line x1="296.50" y1="335.51" x2="294.30" y2="335.51" stroke="#333" stroke-width="1.0"/>
<line x1="47.30" y1="331.06" x2="49.50" y2="331.06" stroke="#333" stroke-width="1.0"/>
<line x1="296.50" y1="331.06" x2="294.30" y2="331.06" stroke="#333" stroke-width="1.0"/>
<line x1="47.30" y1="327.20" x2="49.50" y2="327.20" stroke="#333" stroke-width="1.0"/>
<line x1="296.50" y1="327.20" x2="294.30" y2="327.20" stroke="#333" stroke-width="1.0"/>
<line x1="47.30" y1="323.80" x2="49.50" y2="323.80" stroke="#333" stroke-width="1.0"/>
<line x1="296.50" y1="323.80" x2="294.30" y2="323.80" stroke="#333" stroke-width="1.0"/>
<line x1="45.50" y1="320.75" x2="49.50" y2="320.75" stroke="#333" stroke-width="1.0"/>
<line x1="296.50" y1="320.75" x2="292.50" y2="320.75" stroke="#333" stroke-width="1.0"/>
<line x1="47.30" y1="300.72" x2="49.50" y2="300.72" stroke="#333" stroke-width="1.0"/>
<line x1="296.50" y1="300.72" x2="294.30" y2="300.72" stroke="#333" stroke-width="1.0"/>
<line x1="47.30" y1="289.00" x2="49.50" y2="289.00" stroke="#333" stroke-width="1.0"/>
<line x1="296.50" y1="289.00" x2="294.30" y2="289.00" stroke="#333" stroke-width="1.0"/>
<line x1="47.30" y1="280.68" x2="49.50" y2="280.68" stroke="#333" stroke-width="1.0"/>
<line x1="296.50" y1="280.68" x2="294.30" y2="280.68" stroke="#333" stroke-width="1.0"/>
<line x1="47.30" y1="274.23" x2="49.50" y2="274.23" stroke="#333" stroke-width="1.0"/>
<line x1="296.50" y1="274.23" x2="294.30" y2="274.23" stroke="#333" stroke-width="1.0"/>
<line x1="47.30" y1="268.96" x2="49.50" y2="268.96" stroke="#333" stroke-width="1.0"/>
<line x1="296.50" y1="268.96" x2="294.30" y2="268.96" stroke="#333" stroke-width="1.0"/>
<line x1="47.30" y1="264.51" x2="49.50" y2="264.51" stroke="#333" stroke-width="1.0"/>
<line x1="296.50" y1="264.51" x2="294.30" y2="264.51" stroke="#333" stroke-width="1.0"/>
<line x1="47.30" y1="260.65" x2="49.50" y2="260.65" stroke="#333" stroke-width="1.0"/>
<line x1="296.50" y1="260.65" x2="294.30" y2="260.65" stroke="#333" stroke-width="1.0"/>
<line x1="47.30" y1="257.25" x2="49.50" y2="257.25" stroke="#333" stroke-width="1.0"/>
<line x1="296.50" y1="257.25" x2="294.30" y2="257.25" stroke="#333" stroke-width="1.0"/>
<line x1="45.50" y1="254.20" x2="49.50" y2="254.20" stroke="#333" stroke-width="1.0"/>
<line x1="296.50" y1="254.20" x2="292.50" y2="254.20" stroke="#333" stroke-width="1.0"/>
<text x="26.3" y="391.8" font-family='"Liberation Sans", sans-serif' font-size="12.4" font-weight="bold" fill="#000" textLength="13.1" lengthAdjust="spacingAndGlyphs">10</text>
<text x="40.2" y="385.3" font-family='"Liberation Sans", sans-serif' font-size="7.0" font-weight="bold" fill="#000">3</text>
<text x="26.3" y="325.2" font-family='"Liberation Sans", sans-serif' font-size="12.4" font-weight="bold" fill="#000" textLength="13.1" lengthAdjust="spacingAndGlyphs">10</text>
<text x="40.2" y="318.8" font-family='"Liberation Sans", sans-serif' font-size="7.0" font-weight="bold" fill="#000">4</text>
<text x="26.3" y="258.7" font-family='"Liberation Sans", sans-serif' font-size="12.4" font-weight="bold" fill="#000" textLength="13.1" lengthAdjust="spacingAndGlyphs">10</text>
<text x="40.2" y="252.2" font-family='"Liberation Sans", sans-serif' font-size="7.0" font-weight="bold" fill="#000">5</text>
<text transform="translate(21.4,387.6) rotate(-90)" font-family='"Liberation Sans", sans-serif' font-size="15.5" font-weight="bold" textLength="115.9" lengthAdjust="spacingAndGlyphs">Intensity (arb.unit)</text>
<text x="132.4" y="442.9" font-family='"Liberation Sans", sans-serif' font-size="14.3" font-weight="bold" fill="#000" textLength="82" lengthAdjust="spacingAndGlyphs">Energy (eV)</text>
<text x="0.7" y="248.0" font-family='"Liberation Serif", serif' font-size="17" font-weight="bold" fill="#000" textLength="17.3" lengthAdjust="spacingAndGlyphs">(c)</text>
<text x="113.4" y="265.7" font-family='"Liberation Sans", sans-serif' font-size="10.0" font-weight="bold" fill="#22ae5e" textLength="14.8" lengthAdjust="spacingAndGlyphs" stroke="#22ae5e" stroke-width="0.3">QD</text>
<text x="190.7" y="246.4" font-family='"Liberation Sans", sans-serif' font-size="9.2" font-weight="bold" fill="#1a73c6" textLength="18.9" lengthAdjust="spacingAndGlyphs" stroke="#1a73c6" stroke-width="0.3">WLL</text>
<text x="258.5" y="267.0" font-family='"Liberation Sans", sans-serif' font-size="9.4" font-weight="bold" fill="#111" textLength="23.6" lengthAdjust="spacingAndGlyphs" stroke="#111" stroke-width="0.25">GaAs</text>
<text x="124.8" y="351.0" font-family='"Liberation Sans", sans-serif' font-size="10.3" font-weight="bold" fill="#fe1b1b" text-anchor="middle" textLength="46.4" lengthAdjust="spacingAndGlyphs" stroke="#fe1b1b" stroke-width="0.45">Interlayer</text>
<text x="124.8" y="364.0" font-family='"Liberation Sans", sans-serif' font-size="10.3" font-weight="bold" fill="#fe1b1b" text-anchor="middle" textLength="33.9" lengthAdjust="spacingAndGlyphs" stroke="#fe1b1b" stroke-width="0.45">Exciton</text>
<text x="124.8" y="391.6" font-family='"Liberation Sans", sans-serif' font-size="10.3" font-weight="bold" fill="#fe1b1b" text-anchor="middle" textLength="42.9" lengthAdjust="spacingAndGlyphs" stroke="#fe1b1b" stroke-width="0.45">Quantum</text>
<text x="124.8" y="404.0" font-family='"Liberation Sans", sans-serif' font-size="10.3" font-weight="bold" fill="#fe1b1b" text-anchor="middle" textLength="58" lengthAdjust="spacingAndGlyphs" stroke="#fe1b1b" stroke-width="0.45">confinement</text>
<text x="124.8" y="377.5" font-family='"Liberation Sans", sans-serif' font-size="10.3" font-weight="bold" fill="#fe1b1b" text-anchor="middle" stroke="#fe1b1b" stroke-width="0.45">+</text>
<path d="M124.8 339.5V327" stroke="#fe1b1b" stroke-width="2"/><path d="M120.8 328.5L124.8 321.5L128.8 328.5Z" fill="#fe1b1b"/>
<rect x="303.6" y="237.4" width="40.8" height="161.7" fill="#fff" stroke="#8c8080" stroke-width="1"/>
<line x1="304.50" y1="242.70" x2="322.70" y2="242.70" stroke="#2f6a35" stroke-width="1.0"/>
<rect x="312.3" y="241.6" width="2.2" height="2.2" fill="#2f6a35"/>
<text x="325.0" y="245.6" font-family='"Liberation Sans", sans-serif' font-size="8.2" font-weight="bold" fill="#000" textLength="12.8" lengthAdjust="spacingAndGlyphs">14K</text>
<line x1="304.50" y1="251.61" x2="322.70" y2="251.61" stroke="#3f7a35" stroke-width="1.0"/>
<rect x="312.3" y="250.5" width="2.2" height="2.2" fill="#3f7a35"/>
<text x="325.0" y="254.5" font-family='"Liberation Sans", sans-serif' font-size="8.2" font-weight="bold" fill="#000" textLength="12.8" lengthAdjust="spacingAndGlyphs">30K</text>
<line x1="304.50" y1="260.52" x2="322.70" y2="260.52" stroke="#588a32" stroke-width="1.0"/>
<rect x="312.3" y="259.4" width="2.2" height="2.2" fill="#588a32"/>
<text x="325.0" y="263.4" font-family='"Liberation Sans", sans-serif' font-size="8.2" font-weight="bold" fill="#000" textLength="12.8" lengthAdjust="spacingAndGlyphs">40K</text>
<line x1="304.50" y1="269.43" x2="322.70" y2="269.43" stroke="#749a30" stroke-width="1.0"/>
<rect x="312.3" y="268.3" width="2.2" height="2.2" fill="#749a30"/>
<text x="325.0" y="272.3" font-family='"Liberation Sans", sans-serif' font-size="8.2" font-weight="bold" fill="#000" textLength="12.8" lengthAdjust="spacingAndGlyphs">50K</text>
<line x1="304.50" y1="278.34" x2="322.70" y2="278.34" stroke="#92a82e" stroke-width="1.0"/>
<rect x="312.3" y="277.2" width="2.2" height="2.2" fill="#92a82e"/>
<text x="325.0" y="281.2" font-family='"Liberation Sans", sans-serif' font-size="8.2" font-weight="bold" fill="#000" textLength="12.8" lengthAdjust="spacingAndGlyphs">60K</text>
<line x1="304.50" y1="287.25" x2="322.70" y2="287.25" stroke="#b4b82e" stroke-width="1.0"/>
<rect x="312.3" y="286.1" width="2.2" height="2.2" fill="#b4b82e"/>
<text x="325.0" y="290.1" font-family='"Liberation Sans", sans-serif' font-size="8.2" font-weight="bold" fill="#000" textLength="12.8" lengthAdjust="spacingAndGlyphs">70K</text>
<line x1="304.50" y1="296.16" x2="322.70" y2="296.16" stroke="#d6c230" stroke-width="1.0"/>
<rect x="312.3" y="295.1" width="2.2" height="2.2" fill="#d6c230"/>
<text x="325.0" y="299.1" font-family='"Liberation Sans", sans-serif' font-size="8.2" font-weight="bold" fill="#000" textLength="12.8" lengthAdjust="spacingAndGlyphs">80K</text>
<line x1="304.50" y1="305.07" x2="322.70" y2="305.07" stroke="#ecc030" stroke-width="1.0"/>
<rect x="312.3" y="304.0" width="2.2" height="2.2" fill="#ecc030"/>
<text x="325.0" y="308.0" font-family='"Liberation Sans", sans-serif' font-size="8.2" font-weight="bold" fill="#000" textLength="12.8" lengthAdjust="spacingAndGlyphs">90K</text>
<line x1="304.50" y1="313.98" x2="322.70" y2="313.98" stroke="#f4b228" stroke-width="1.0"/>
<rect x="312.3" y="312.9" width="2.2" height="2.2" fill="#f4b228"/>
<text x="325.0" y="316.9" font-family='"Liberation Sans", sans-serif' font-size="8.2" font-weight="bold" fill="#000" textLength="17.5" lengthAdjust="spacingAndGlyphs">105K</text>
<line x1="304.50" y1="322.89" x2="322.70" y2="322.89" stroke="#f5a324" stroke-width="1.0"/>
<rect x="312.3" y="321.8" width="2.2" height="2.2" fill="#f5a324"/>
<text x="325.0" y="325.8" font-family='"Liberation Sans", sans-serif' font-size="8.2" font-weight="bold" fill="#000" textLength="17.5" lengthAdjust="spacingAndGlyphs">130K</text>
<line x1="304.50" y1="331.80" x2="322.70" y2="331.80" stroke="#f59424" stroke-width="1.0"/>
<rect x="312.3" y="330.7" width="2.2" height="2.2" fill="#f59424"/>
<text x="325.0" y="334.7" font-family='"Liberation Sans", sans-serif' font-size="8.2" font-weight="bold" fill="#000" textLength="17.5" lengthAdjust="spacingAndGlyphs">160K</text>
<line x1="304.50" y1="340.71" x2="322.70" y2="340.71" stroke="#f58224" stroke-width="1.0"/>
<rect x="312.3" y="339.6" width="2.2" height="2.2" fill="#f58224"/>
<text x="325.0" y="343.6" font-family='"Liberation Sans", sans-serif' font-size="8.2" font-weight="bold" fill="#000" textLength="17.5" lengthAdjust="spacingAndGlyphs">180K</text>
<line x1="304.50" y1="349.62" x2="322.70" y2="349.62" stroke="#f76e26" stroke-width="1.0"/>
<rect x="312.3" y="348.5" width="2.2" height="2.2" fill="#f76e26"/>
<text x="325.0" y="352.5" font-family='"Liberation Sans", sans-serif' font-size="8.2" font-weight="bold" fill="#000" textLength="17.5" lengthAdjust="spacingAndGlyphs">200K</text>
<line x1="304.50" y1="358.53" x2="322.70" y2="358.53" stroke="#fa5a28" stroke-width="1.0"/>
<rect x="312.3" y="357.4" width="2.2" height="2.2" fill="#fa5a28"/>
<text x="325.0" y="361.4" font-family='"Liberation Sans", sans-serif' font-size="8.2" font-weight="bold" fill="#000" textLength="17.5" lengthAdjust="spacingAndGlyphs">220K</text>
<line x1="304.50" y1="367.44" x2="322.70" y2="367.44" stroke="#fc472a" stroke-width="1.0"/>
<rect x="312.3" y="366.3" width="2.2" height="2.2" fill="#fc472a"/>
<text x="325.0" y="370.3" font-family='"Liberation Sans", sans-serif' font-size="8.2" font-weight="bold" fill="#000" textLength="17.5" lengthAdjust="spacingAndGlyphs">240K</text>
<line x1="304.50" y1="376.35" x2="322.70" y2="376.35" stroke="#fe352e" stroke-width="1.0"/>
<rect x="312.3" y="375.2" width="2.2" height="2.2" fill="#fe352e"/>
<text x="325.0" y="379.2" font-family='"Liberation Sans", sans-serif' font-size="8.2" font-weight="bold" fill="#000" textLength="17.5" lengthAdjust="spacingAndGlyphs">260K</text>
<line x1="304.50" y1="385.26" x2="322.70" y2="385.26" stroke="#ff2532" stroke-width="1.0"/>
<rect x="312.3" y="384.2" width="2.2" height="2.2" fill="#ff2532"/>
<text x="325.0" y="388.2" font-family='"Liberation Sans", sans-serif' font-size="8.2" font-weight="bold" fill="#000" textLength="17.5" lengthAdjust="spacingAndGlyphs">280K</text>
<line x1="304.50" y1="394.17" x2="322.70" y2="394.17" stroke="#ff1836" stroke-width="1.0"/>
<rect x="312.3" y="393.1" width="2.2" height="2.2" fill="#ff1836"/>
<text x="325.0" y="397.1" font-family='"Liberation Sans", sans-serif' font-size="8.2" font-weight="bold" fill="#000" textLength="17.5" lengthAdjust="spacingAndGlyphs">300K</text>
<text x="370.0" y="248.7" font-family='"Liberation Serif", serif' font-size="17" font-weight="bold" fill="#000" textLength="19.7" lengthAdjust="spacingAndGlyphs">(d)</text>
<path d="M443.6 379.3V287.8H441L446.3 281.9L451.6 287.8H449V379.3Z" fill="#c99410" stroke="#7a5a08" stroke-width="0.6"/>
<text x="409.1" y="341.0" font-family='"Liberation Sans", sans-serif' font-size="11.5" font-weight="bold" fill="#7a5a04" textLength="26.2" lengthAdjust="spacingAndGlyphs" font-style="italic" stroke="#7a5a04" stroke-width="0.3">Laser</text>
<path d="M414 262.6C475 262 494 268 494.5 320" fill="none" stroke="#262626" stroke-width="7.0" stroke-linecap="round" stroke-linejoin="miter"/>
<path d="M566 320C567 286 582 268 665 263.5" fill="none" stroke="#262626" stroke-width="7.0" stroke-linecap="round" stroke-linejoin="miter"/>
<path d="M495.3 266V320.1H518.2V266H541.3V320.1H565.5V266" fill="none" stroke="#262626" stroke-width="7.0" stroke-linecap="round" stroke-linejoin="miter"/>
<path d="M414 262.6C475 262 494 268 494.5 320" fill="none" stroke="#5c5c5c" stroke-width="4.8" stroke-linecap="round" stroke-linejoin="miter"/>
<path d="M566 320C567 286 582 268 665 263.5" fill="none" stroke="#5c5c5c" stroke-width="4.8" stroke-linecap="round" stroke-linejoin="miter"/>
<path d="M495.3 266V320.1H518.2V266H541.3V320.1H565.5V266" fill="none" stroke="#5c5c5c" stroke-width="4.8" stroke-linecap="round" stroke-linejoin="miter"/>
<path d="M413.5 398.8C470 395 495 385 495.7 358" fill="none" stroke="#8e8e8e" stroke-width="5.6" stroke-linecap="round" stroke-linejoin="miter"/>
<path d="M567.6 356C568.5 380 580 395 666 399.3" fill="none" stroke="#8e8e8e" stroke-width="5.6" stroke-linecap="round" stroke-linejoin="miter"/>
<path d="M496.2 398.5V357.9H518.4V333.6H542.5V357.9H567.4V398.5" fill="none" stroke="#8e8e8e" stroke-width="5.6" stroke-linecap="round" stroke-linejoin="miter"/>
<path d="M413.5 398.8C470 395 495 385 495.7 358" fill="none" stroke="#ababab" stroke-width="3.8" stroke-linecap="round" stroke-linejoin="miter"/>
<path d="M567.6 356C568.5 380 580 395 666 399.3" fill="none" stroke="#ababab" stroke-width="3.8" stroke-linecap="round" stroke-linejoin="miter"/>
<path d="M496.2 398.5V357.9H518.4V333.6H542.5V357.9H567.4V398.5" fill="none" stroke="#ababab" stroke-width="3.8" stroke-linecap="round" stroke-linejoin="miter"/>
<line x1="497.5" y1="273.0" x2="572.3" y2="273.0" stroke="#1fae4e" stroke-width="1.5" stroke-dasharray="1.6 1.4"/>
<line x1="475.0" y1="281.4" x2="588.0" y2="281.4" stroke="#111" stroke-width="1.5" stroke-dasharray="1.6 1.4"/>
<line x1="475.0" y1="297.6" x2="588.0" y2="297.6" stroke="#1a78d0" stroke-width="1.5" stroke-dasharray="1.6 1.4"/>
<line x1="498.0" y1="350.3" x2="560.0" y2="350.3" stroke="#1fae4e" stroke-width="1.5" stroke-dasharray="1.6 1.4"/>
<line x1="474.6" y1="365.8" x2="588.0" y2="365.8" stroke="#1a78d0" stroke-width="1.5" stroke-dasharray="1.6 1.4"/>
<line x1="474.6" y1="381.9" x2="588.0" y2="381.9" stroke="#111" stroke-width="1.5" stroke-dasharray="1.6 1.4"/>
<clipPath id="cTop"><rect x="470" y="260" width="140" height="63.5"/></clipPath>
<clipPath id="cBot"><rect x="470" y="323.5" width="140" height="80"/></clipPath>
<mask id="mY" maskUnits="userSpaceOnUse" x="470" y="260" width="140" height="140"><rect x="470" y="260" width="140" height="140" fill="#000"/><ellipse cx="541.8" cy="324.6" rx="41.5" ry="11.3" transform="rotate(-63 541.8 324.6)" fill="#fff"/><g clip-path="url(#cTop)"><ellipse cx="554.3" cy="330" rx="13.8" ry="48" transform="rotate(1.5 554.3 330)" fill="#000"/></g></mask>
<g mask="url(#mY)"><ellipse cx="541.8" cy="324.6" rx="41.5" ry="11.3" transform="rotate(-63 541.8 324.6)" fill="#fabe35" fill-opacity="0.62"/></g>
<g clip-path="url(#cTop)"><ellipse cx="554.3" cy="330" rx="13.8" ry="48" transform="rotate(1.5 554.3 330)" fill="#ef7a10" fill-opacity="0.62"/></g>
<g clip-path="url(#cBot)"><ellipse cx="554.3" cy="330" rx="13.8" ry="48" transform="rotate(1.5 554.3 330)" fill="#f4a6a6" fill-opacity="0.62"/></g>
<ellipse cx="541.8" cy="324.6" rx="41.5" ry="11.3" transform="rotate(-63 541.8 324.6)" fill="none" stroke="#ee1c1c" stroke-width="2.1" stroke-dasharray="6.5 3"/>
<ellipse cx="554.3" cy="330" rx="13.8" ry="48" transform="rotate(1.5 554.3 330)" fill="none" stroke="#1a72cc" stroke-width="2.0" stroke-dasharray="5.5 3"/>
<path d="M505.1 282.5V290.5H503.2L506.4 295.5L509.6 290.5H507.7V282.5Z" fill="#f7b900" stroke="#3a2a00" stroke-width="0.6"/>
<path d="M539.9 363.5V355.8H538.0L541.2 350.8L544.4 355.8H542.5V363.5Z" fill="#f7b900" stroke="#3a2a00" stroke-width="0.6"/>
<path d="M502.2 379.0V371.7H500.3L503.5 366.7L506.7 371.7H504.8V379.0Z" fill="#f7b900" stroke="#3a2a00" stroke-width="0.6"/>
<circle cx="424.7" cy="247.5" r="5.3" fill="#050505" stroke="#e01414" stroke-width="1.4"/>
<circle cx="489.2" cy="280.0" r="5.3" fill="#050505" stroke="#e01414" stroke-width="1.4"/>
<circle cx="554.6" cy="297.3" r="4.6" fill="#1a6fd0" stroke="#c80c0c" stroke-width="2.2"/>
<circle cx="531.2" cy="350.2" r="5.800000000000001" fill="#3a90e0" opacity="0.55"/>
<circle cx="531.2" cy="350.2" r="4.4" fill="#1fae4e" stroke="#10203a" stroke-width="1.4"/>
<circle cx="555.2" cy="365.5" r="5.800000000000001" fill="#3a90e0" opacity="0.55"/>
<circle cx="555.2" cy="365.5" r="4.4" fill="#1a6fd0" stroke="#10203a" stroke-width="1.4"/>
<circle cx="490.1" cy="381.9" r="5.0" fill="#050505" stroke="#1a78d0" stroke-width="1.6"/>
<path d="M446 250.2L467.6 255.0L468.3 252.4L471.6 257.9L466.3 261.0L467 258.3L445.3 253.5Z" fill="#c40a0a" stroke="#300" stroke-width="0.5"/>
<text x="573.0" y="264.0" font-family='"Liberation Sans", sans-serif' font-size="11.2" font-weight="bold" fill="#1fae4e" textLength="14.9" lengthAdjust="spacingAndGlyphs" font-style="italic" stroke="#1fae4e" stroke-width="0.3">QD</text>
<text x="588.5" y="260.0" font-family='"Liberation Sans", sans-serif' font-size="6.5" font-weight="bold" fill="#1fae4e" font-style="italic" stroke="#1fae4e" stroke-width="0.2">e</text>
<text x="606.8" y="284.0" font-family='"Liberation Sans", sans-serif' font-size="11.2" font-weight="bold" fill="#111" textLength="22.2" lengthAdjust="spacingAndGlyphs" font-style="italic" stroke="#111" stroke-width="0.3">Bulk</text>
<text x="629.6" y="280.0" font-family='"Liberation Sans", sans-serif' font-size="6.5" font-weight="bold" fill="#111" font-style="italic" stroke="#111" stroke-width="0.2">e</text>
<text x="607.9" y="297.9" font-family='"Liberation Sans", sans-serif' font-size="11.2" font-weight="bold" fill="#1a72cc" textLength="18.9" lengthAdjust="spacingAndGlyphs" font-style="italic" stroke="#1a72cc" stroke-width="0.3">WLL</text>
<text x="627.4" y="293.9" font-family='"Liberation Sans", sans-serif' font-size="6.5" font-weight="bold" fill="#1a72cc" font-style="italic" stroke="#1a72cc" stroke-width="0.2">e</text>
<text x="606.8" y="352.7" font-family='"Liberation Sans", sans-serif' font-size="11.2" font-weight="bold" fill="#1fae4e" textLength="15.1" lengthAdjust="spacingAndGlyphs" font-style="italic" stroke="#1fae4e" stroke-width="0.3">QD</text>
<text x="622.5" y="348.7" font-family='"Liberation Sans", sans-serif' font-size="6.5" font-weight="bold" fill="#1fae4e" font-style="italic" stroke="#1fae4e" stroke-width="0.2">h</text>
<text x="604.6" y="369.0" font-family='"Liberation Sans", sans-serif' font-size="11.2" font-weight="bold" fill="#1a72cc" textLength="20.0" lengthAdjust="spacingAndGlyphs" font-style="italic" stroke="#1a72cc" stroke-width="0.3">WLL</text>
<text x="625.2" y="365.0" font-family='"Liberation Sans", sans-serif' font-size="6.5" font-weight="bold" fill="#1a72cc" font-style="italic" stroke="#1a72cc" stroke-width="0.2">h</text>
<text x="603.4" y="384.6" font-family='"Liberation Sans", sans-serif' font-size="11.2" font-weight="bold" fill="#111" textLength="22.3" lengthAdjust="spacingAndGlyphs" font-style="italic" stroke="#111" stroke-width="0.3">Bulk</text>
<text x="626.3" y="380.6" font-family='"Liberation Sans", sans-serif' font-size="6.5" font-weight="bold" fill="#111" font-style="italic" stroke="#111" stroke-width="0.2">h</text>
</svg></body></html>
